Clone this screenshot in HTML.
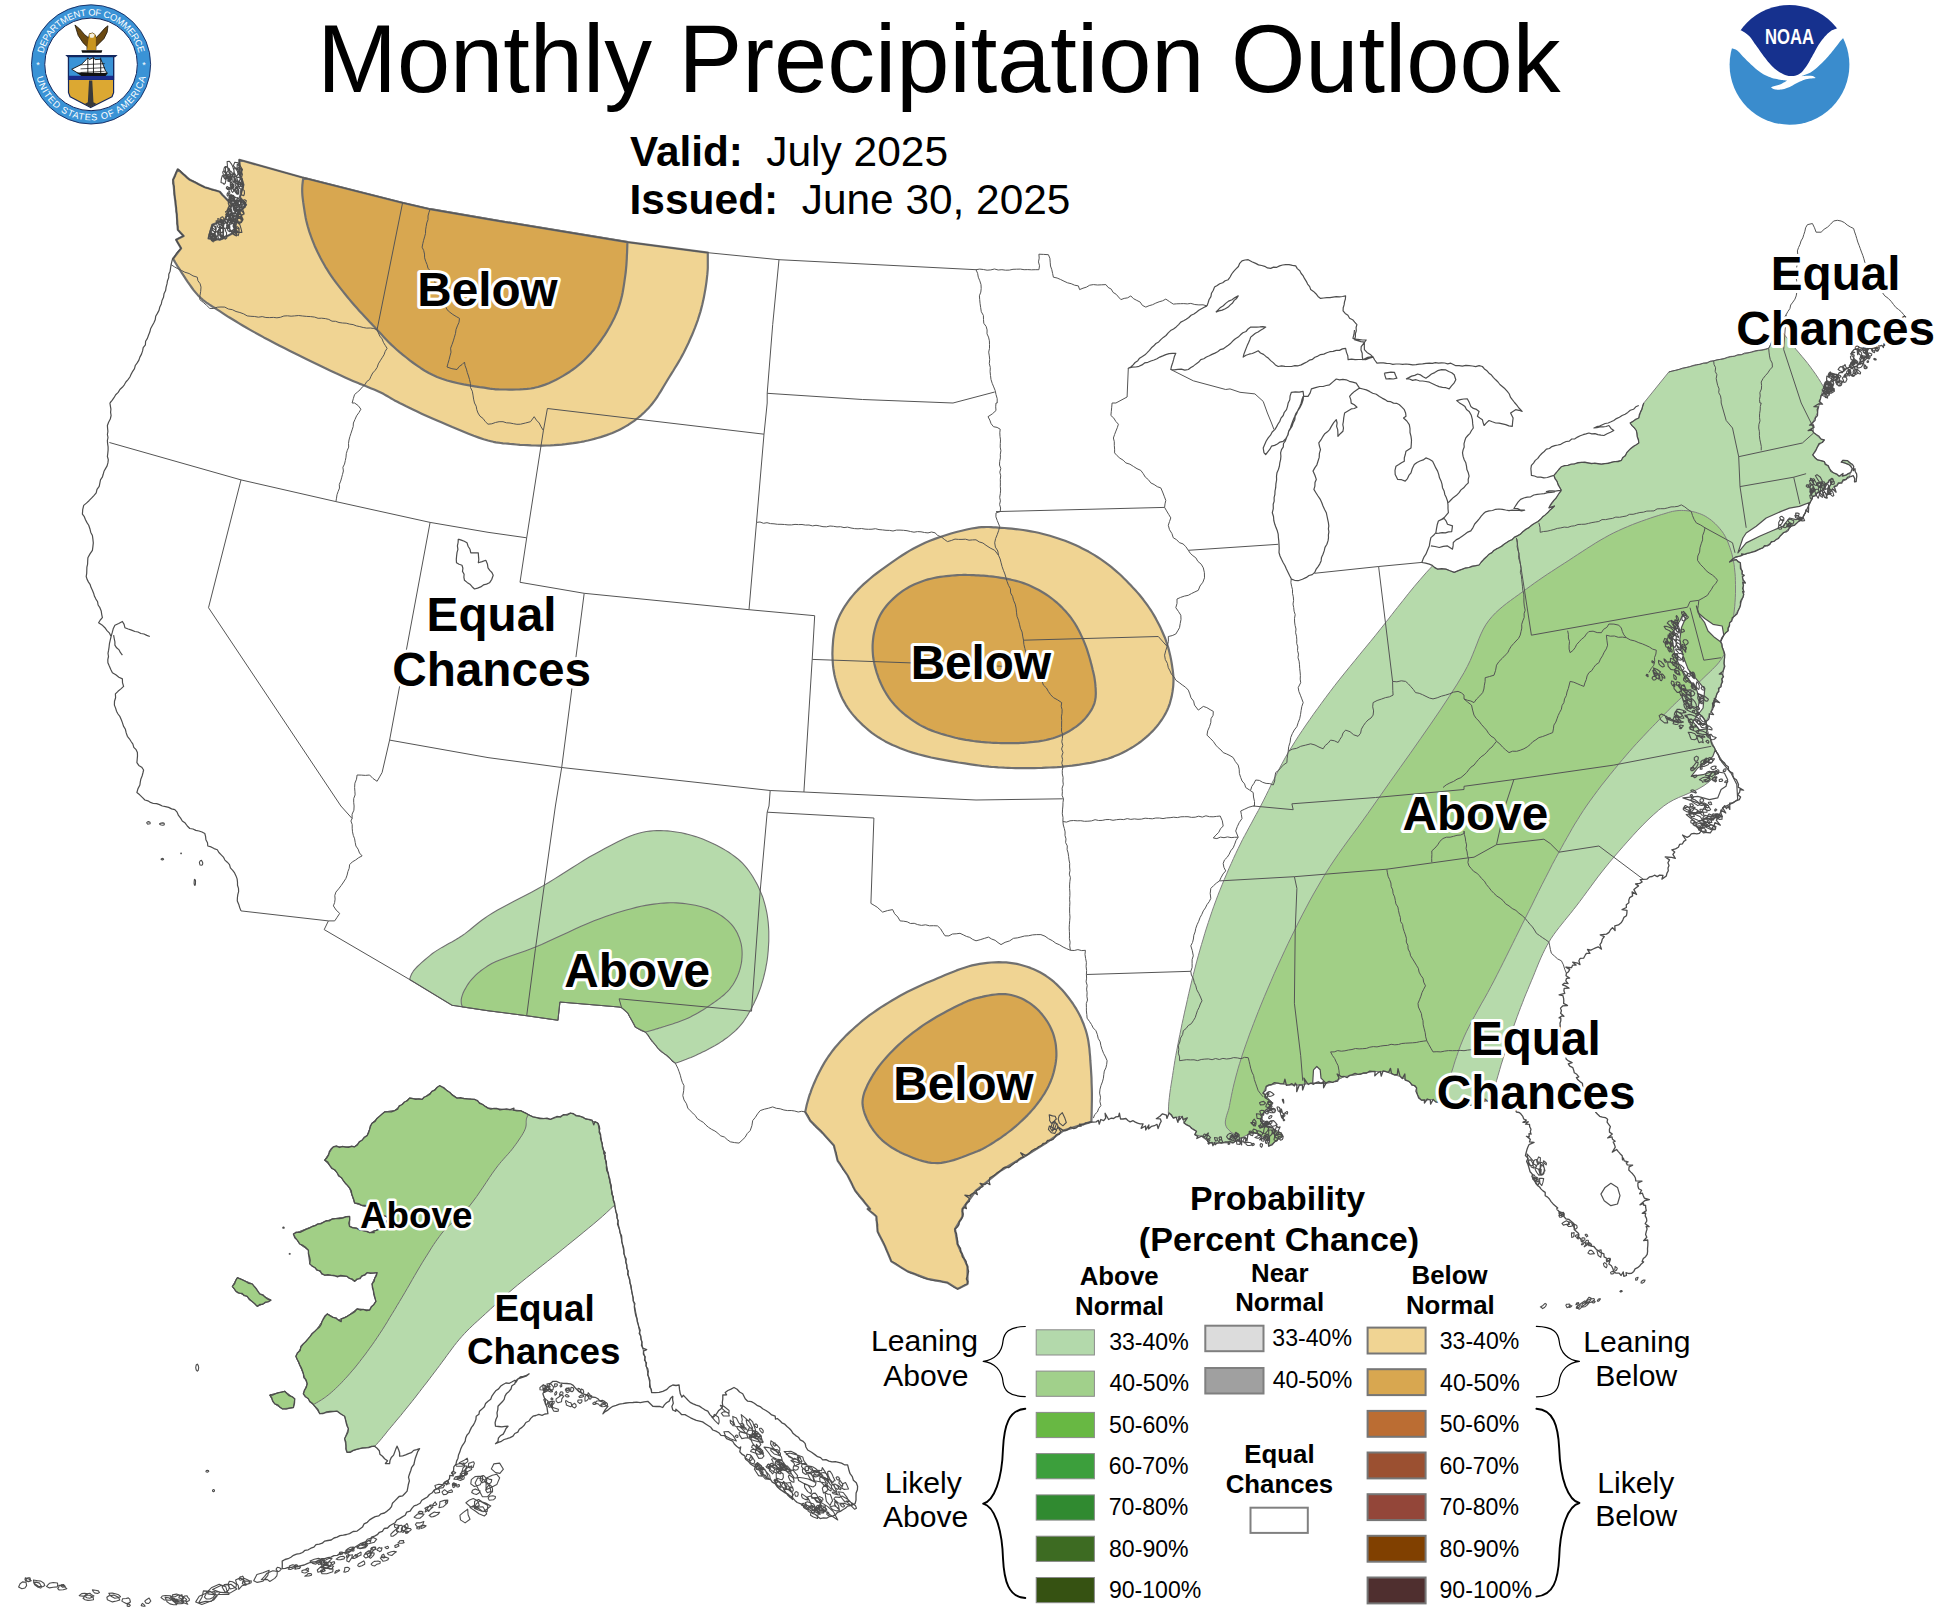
<!DOCTYPE html>
<html lang="en"><head><meta charset="utf-8"><title>Monthly Precipitation Outlook</title>
<style>
html,body{margin:0;padding:0;background:#fff;}
body{width:1954px;height:1614px;overflow:hidden;}
svg{display:block;font-family:"Liberation Sans",sans-serif;}
</style></head><body>
<svg width="1954" height="1614" viewBox="0 0 1954 1614">
<rect width="1954" height="1614" fill="#fff"/>
<g id="map">
<path d="M174.8,261.7 L177.3,265.8 L179.8,269.7 L181.8,272.8 L183.8,275.9 L185.7,278.9 L187.7,281.9 L189.7,284.7 L191.7,287.5 L193.6,290.1 L195.7,292.6 L197.7,294.9 L199.8,297.1 L201.5,298.7 L203.1,300.1 L204.8,301.4 L206.4,302.6 L208.1,303.7 L209.8,304.8 L211.6,306.0 L213.4,307.1 L215.3,308.3 L217.3,309.6 L220.1,311.4 L223.0,313.3 L226.0,315.3 L229.1,317.3 L232.4,319.3 L235.7,321.3 L239.1,323.4 L242.6,325.5 L246.1,327.5 L249.7,329.6 L254.2,332.1 L259.0,334.7 L263.8,337.4 L268.8,340.0 L273.9,342.7 L279.1,345.4 L284.3,348.0 L289.5,350.7 L294.6,353.3 L299.7,355.8 L304.7,358.3 L309.8,360.8 L315.0,363.3 L320.2,365.8 L325.4,368.3 L330.5,370.7 L335.5,373.1 L340.4,375.3 L345.1,377.5 L349.6,379.5 L352.9,380.9 L356.2,382.3 L359.3,383.6 L362.4,384.8 L365.5,386.0 L368.4,387.2 L371.3,388.4 L374.1,389.5 L376.9,390.7 L379.6,392.0 L381.8,393.1 L383.8,394.1 L385.7,395.2 L387.6,396.3 L389.5,397.4 L391.3,398.5 L393.3,399.6 L395.2,400.7 L397.4,401.8 L399.6,403.0 L402.8,404.6 L406.2,406.3 L409.8,408.0 L413.4,409.8 L417.2,411.6 L421.1,413.4 L425.0,415.2 L429.0,417.0 L433.0,418.7 L437.1,420.5 L441.9,422.6 L447.0,424.8 L452.3,427.1 L457.7,429.3 L463.1,431.6 L468.5,433.8 L473.7,435.8 L478.8,437.6 L483.6,439.2 L488.0,440.5 L490.8,441.2 L493.4,441.8 L495.9,442.3 L498.3,442.7 L500.7,443.0 L503.0,443.3 L505.4,443.5 L507.8,443.7 L510.3,444.0 L513.0,444.2 L516.4,444.5 L520.0,444.8 L523.7,445.0 L527.4,445.2 L531.2,445.4 L535.1,445.5 L538.9,445.6 L542.8,445.6 L546.6,445.5 L550.4,445.4 L554.2,445.2 L558.0,444.9 L561.8,444.6 L565.6,444.2 L569.5,443.7 L573.3,443.2 L577.0,442.6 L580.7,442.0 L584.3,441.3 L587.9,440.5 L591.1,439.7 L594.3,438.9 L597.4,438.0 L600.6,437.1 L603.6,436.1 L606.6,435.1 L609.6,434.0 L612.4,432.9 L615.2,431.7 L617.9,430.5 L620.1,429.4 L622.3,428.3 L624.4,427.1 L626.5,425.9 L628.5,424.7 L630.4,423.4 L632.3,422.1 L634.2,420.8 L636.0,419.4 L637.8,418.0 L639.5,416.6 L641.1,415.3 L642.6,413.9 L644.2,412.5 L645.6,411.0 L647.1,409.5 L648.6,408.0 L650.0,406.4 L651.4,404.7 L652.8,403.0 L654.4,400.9 L655.9,398.8 L657.5,396.5 L658.9,394.2 L660.4,391.9 L661.9,389.4 L663.3,387.0 L664.8,384.5 L666.3,382.0 L667.8,379.5 L669.5,376.7 L671.3,373.8 L673.1,371.0 L674.9,368.0 L676.7,365.1 L678.5,362.1 L680.3,359.0 L682.0,355.9 L683.7,352.8 L685.3,349.6 L687.0,346.1 L688.7,342.5 L690.3,338.8 L692.0,335.0 L693.5,331.3 L695.1,327.4 L696.5,323.6 L697.9,319.8 L699.1,315.9 L700.3,312.1 L701.3,308.4 L702.3,304.5 L703.2,300.6 L704.0,296.7 L704.7,292.9 L705.4,289.0 L706.0,285.2 L706.5,281.6 L706.9,278.1 L707.3,274.7 L707.5,272.3 L707.7,270.0 L707.8,267.7 L707.8,265.5 L707.8,263.4 L707.8,261.3 L707.8,259.2 L707.8,257.0 L707.8,254.9 L707.8,252.7 L627.9,242.2 L488.0,219.2 L430.1,209.2 L402.1,202.7 L303.4,177.8 L239.3,159.8 L239.8,174.8 L243.5,184.8 L239.8,197.3 L246.0,204.7 L237.3,214.7 L234.8,232.2 L219.8,239.7 L208.5,238.5 L212.3,224.7 L224.8,219.7 L232.3,204.7 L224.8,197.3 L222.3,194.8 L219.8,191.8 L204.8,187.3 L189.8,179.8 L177.8,169.3 L173.1,179.8 L174.8,197.3 L176.8,214.7 L177.8,229.7 L183.6,236.0 L176.1,239.7 L181.1,248.4 L173.0,258.8Z" fill="#f0d493" stroke="#707070" stroke-width="2.2" stroke-linejoin="round" fill-rule="evenodd"/>
<path d="M302.8,181.3 L302.4,184.8 L302.2,188.3 L302.2,191.8 L302.4,195.3 L302.8,198.8 L303.2,202.2 L303.7,205.6 L304.2,208.9 L304.7,212.2 L305.2,215.1 L305.7,217.9 L306.3,220.7 L307.0,223.5 L307.7,226.2 L308.5,228.9 L309.3,231.6 L310.2,234.2 L311.2,237.0 L312.2,239.7 L313.4,242.7 L314.6,245.7 L316.0,248.7 L317.4,251.8 L318.9,254.8 L320.4,257.8 L322.0,260.8 L323.7,263.8 L325.4,266.8 L327.2,269.7 L329.2,272.8 L331.2,275.8 L333.3,278.9 L335.5,281.9 L337.8,284.9 L340.1,287.9 L342.5,290.9 L344.8,293.8 L347.2,296.7 L349.6,299.6 L352.0,302.5 L354.4,305.3 L356.9,308.1 L359.4,310.9 L361.9,313.6 L364.4,316.3 L367.0,319.1 L369.5,321.8 L372.1,324.4 L374.6,327.1 L377.0,329.7 L379.4,332.3 L381.8,334.8 L384.2,337.4 L386.6,339.9 L389.0,342.4 L391.5,344.9 L394.1,347.3 L396.8,349.7 L399.6,352.1 L402.9,354.8 L406.3,357.5 L409.8,360.3 L413.4,363.0 L417.1,365.6 L420.9,368.2 L424.8,370.7 L428.8,373.0 L432.9,375.1 L437.1,377.0 L441.9,378.8 L447.1,380.5 L452.5,381.9 L458.1,383.2 L463.7,384.4 L469.3,385.4 L474.6,386.3 L479.6,387.1 L484.1,387.7 L488.0,388.3 L489.8,388.6 L491.5,388.8 L492.9,389.0 L494.3,389.1 L495.6,389.3 L497.0,389.3 L498.3,389.4 L499.7,389.5 L501.3,389.5 L503.0,389.5 L505.9,389.5 L509.1,389.6 L512.5,389.6 L516.0,389.5 L519.7,389.4 L523.4,389.2 L527.1,388.9 L530.8,388.5 L534.4,387.8 L537.9,387.0 L541.5,385.9 L545.2,384.6 L548.8,383.2 L552.5,381.5 L556.1,379.8 L559.6,377.9 L563.1,375.9 L566.5,373.8 L569.8,371.7 L572.9,369.5 L575.8,367.4 L578.5,365.2 L581.2,362.9 L583.8,360.5 L586.3,358.0 L588.7,355.5 L591.1,352.9 L593.4,350.2 L595.7,347.4 L597.9,344.6 L600.2,341.5 L602.5,338.2 L604.8,334.8 L607.0,331.3 L609.1,327.8 L611.1,324.2 L613.0,320.5 L614.8,316.9 L616.4,313.2 L617.9,309.6 L619.1,306.2 L620.2,302.7 L621.1,299.2 L622.0,295.7 L622.7,292.2 L623.3,288.7 L623.9,285.1 L624.4,281.6 L624.9,278.2 L625.4,274.7 L625.8,271.5 L626.1,268.2 L626.4,265.0 L626.6,261.8 L626.8,258.6 L626.9,255.4 L627.1,252.2 L627.2,249.0 L627.3,245.9 L627.4,242.7 L627.4,242.1 L488.0,219.2 L430.1,209.2 L402.1,202.7 L303.4,177.8Z" fill="#d8a750" stroke="#707070" stroke-width="2.2" stroke-linejoin="round" fill-rule="evenodd"/>
<path d="M921.0,544.7 L917.0,546.7 L913.1,548.8 L909.3,550.9 L905.5,553.2 L901.9,555.5 L898.3,557.9 L894.7,560.3 L891.1,562.8 L887.6,565.3 L884.1,567.8 L880.6,570.4 L877.1,573.0 L873.6,575.7 L870.2,578.5 L866.9,581.3 L863.7,584.1 L860.7,587.0 L857.8,589.9 L855.1,592.8 L852.9,595.4 L850.7,598.0 L848.7,600.7 L846.8,603.4 L844.9,606.2 L843.2,608.9 L841.6,611.7 L840.1,614.5 L838.8,617.4 L837.6,620.2 L836.6,622.9 L835.8,625.5 L835.1,628.3 L834.5,631.0 L834.0,633.7 L833.6,636.5 L833.2,639.3 L833.0,642.1 L832.8,644.9 L832.6,647.7 L832.5,650.6 L832.4,653.6 L832.5,656.6 L832.6,659.6 L832.8,662.7 L833.0,665.7 L833.4,668.7 L833.9,671.8 L834.4,674.7 L835.1,677.7 L835.9,680.8 L836.8,683.8 L837.7,686.9 L838.8,690.0 L840.0,693.0 L841.2,696.0 L842.6,699.0 L844.2,701.9 L845.8,704.8 L847.6,707.6 L849.7,710.6 L852.0,713.6 L854.5,716.6 L857.1,719.5 L859.9,722.3 L862.8,725.1 L865.8,727.8 L868.8,730.4 L871.9,732.8 L875.1,735.1 L878.4,737.3 L881.8,739.4 L885.3,741.4 L888.9,743.2 L892.5,745.0 L896.3,746.6 L900.2,748.2 L904.2,749.7 L908.3,751.2 L912.6,752.6 L918.3,754.3 L924.6,755.9 L931.2,757.5 L938.0,758.9 L944.9,760.2 L951.8,761.4 L958.5,762.5 L964.9,763.4 L970.7,764.3 L976.0,765.1 L978.9,765.5 L981.6,765.9 L984.2,766.2 L986.6,766.4 L988.9,766.7 L991.2,766.9 L993.5,767.0 L995.9,767.2 L998.3,767.4 L1001.0,767.5 L1004.4,767.7 L1008.0,767.8 L1011.7,768.0 L1015.4,768.1 L1019.2,768.1 L1023.1,768.2 L1026.9,768.2 L1030.8,768.2 L1034.6,768.1 L1038.4,768.0 L1042.2,767.9 L1045.9,767.7 L1049.7,767.5 L1053.5,767.3 L1057.3,767.1 L1061.0,766.8 L1064.8,766.4 L1068.5,766.0 L1072.2,765.6 L1075.9,765.1 L1079.5,764.6 L1083.1,764.0 L1086.7,763.4 L1090.4,762.8 L1093.9,762.1 L1097.5,761.3 L1101.0,760.5 L1104.4,759.6 L1107.7,758.7 L1110.9,757.6 L1113.6,756.6 L1116.3,755.5 L1118.9,754.4 L1121.5,753.3 L1124.0,752.0 L1126.4,750.8 L1128.8,749.4 L1131.2,748.0 L1133.5,746.6 L1135.8,745.1 L1138.0,743.6 L1140.2,742.0 L1142.3,740.4 L1144.4,738.7 L1146.5,736.9 L1148.5,735.1 L1150.4,733.3 L1152.3,731.4 L1154.1,729.5 L1155.8,727.6 L1157.3,725.8 L1158.8,723.9 L1160.2,721.9 L1161.6,720.0 L1162.9,718.0 L1164.1,716.0 L1165.3,713.9 L1166.4,711.8 L1167.4,709.7 L1168.3,707.6 L1169.1,705.5 L1169.9,703.3 L1170.5,701.0 L1171.1,698.7 L1171.7,696.4 L1172.1,694.1 L1172.5,691.9 L1172.8,689.6 L1173.1,687.3 L1173.3,685.1 L1173.4,683.1 L1173.5,681.1 L1173.5,679.1 L1173.4,677.2 L1173.3,675.2 L1173.1,673.3 L1172.9,671.3 L1172.6,669.3 L1172.3,667.3 L1172.0,665.2 L1171.6,662.8 L1171.2,660.4 L1170.7,657.9 L1170.2,655.4 L1169.6,652.9 L1169.0,650.4 L1168.3,647.9 L1167.5,645.3 L1166.7,642.8 L1165.8,640.2 L1164.7,637.2 L1163.4,634.2 L1162.1,631.2 L1160.7,628.1 L1159.2,625.0 L1157.6,621.9 L1156.0,618.9 L1154.3,615.9 L1152.6,613.0 L1150.8,610.2 L1149.0,607.5 L1147.2,604.9 L1145.3,602.3 L1143.4,599.8 L1141.4,597.3 L1139.4,594.8 L1137.3,592.4 L1135.2,590.0 L1133.0,587.7 L1130.8,585.3 L1128.5,582.9 L1126.2,580.5 L1123.8,578.2 L1121.4,575.8 L1118.9,573.5 L1116.4,571.3 L1113.8,569.1 L1111.2,566.9 L1108.6,564.8 L1105.9,562.8 L1103.1,560.8 L1100.3,558.9 L1097.4,557.0 L1094.5,555.1 L1091.5,553.4 L1088.5,551.6 L1085.4,550.0 L1082.3,548.4 L1079.1,546.8 L1075.9,545.3 L1072.4,543.8 L1068.8,542.3 L1065.1,540.8 L1061.3,539.5 L1057.6,538.2 L1053.7,537.0 L1049.9,535.8 L1046.0,534.7 L1042.2,533.7 L1038.4,532.8 L1034.7,532.0 L1030.9,531.3 L1027.0,530.6 L1023.1,530.0 L1019.3,529.5 L1015.5,529.1 L1011.7,528.7 L1008.0,528.3 L1004.4,528.0 L1001.0,527.8 L998.3,527.6 L995.8,527.4 L993.4,527.3 L991.0,527.1 L988.7,527.0 L986.3,527.0 L983.9,527.1 L981.4,527.2 L978.8,527.4 L976.0,527.8 L971.6,528.5 L966.8,529.5 L961.7,530.7 L956.4,532.0 L951.0,533.5 L945.6,535.2 L940.2,537.0 L934.9,538.9 L929.9,540.8 L925.1,542.8Z" fill="#f0d493" stroke="#707070" stroke-width="2.2" stroke-linejoin="round" fill-rule="evenodd"/>
<path d="M952.2,575.5 L949.3,575.8 L946.3,576.1 L943.2,576.5 L940.1,576.9 L937.0,577.4 L933.9,578.0 L930.9,578.7 L928.0,579.4 L925.1,580.3 L922.4,581.2 L919.8,582.2 L917.2,583.2 L914.6,584.3 L912.0,585.5 L909.5,586.8 L907.1,588.2 L904.7,589.6 L902.4,591.2 L900.1,592.8 L897.8,594.6 L895.5,596.6 L893.3,598.6 L891.1,600.7 L888.9,603.0 L886.9,605.3 L885.0,607.7 L883.2,610.1 L881.6,612.6 L880.1,615.2 L878.8,617.9 L877.6,620.7 L876.5,623.7 L875.6,626.7 L874.8,629.7 L874.1,632.8 L873.5,636.0 L873.1,639.1 L872.8,642.2 L872.6,645.2 L872.6,648.2 L872.7,651.2 L872.9,654.3 L873.2,657.3 L873.7,660.4 L874.3,663.4 L875.0,666.4 L875.8,669.4 L876.6,672.3 L877.6,675.2 L878.6,678.1 L879.8,681.0 L881.0,683.8 L882.4,686.7 L883.8,689.5 L885.4,692.2 L887.0,694.9 L888.8,697.6 L890.6,700.1 L892.6,702.6 L894.9,705.2 L897.3,707.7 L899.8,710.2 L902.5,712.6 L905.3,715.0 L908.2,717.2 L911.2,719.4 L914.1,721.4 L917.1,723.3 L920.1,725.1 L922.9,726.6 L925.9,728.1 L928.8,729.4 L931.9,730.6 L934.9,731.7 L938.0,732.7 L941.0,733.7 L944.1,734.6 L947.1,735.5 L950.0,736.3 L952.6,737.0 L955.3,737.7 L957.9,738.3 L960.5,738.8 L963.1,739.3 L965.7,739.8 L968.3,740.2 L970.8,740.6 L973.4,741.0 L976.0,741.3 L978.5,741.6 L981.0,741.9 L983.5,742.1 L986.0,742.3 L988.5,742.5 L991.0,742.7 L993.5,742.8 L996.0,742.9 L998.5,743.0 L1001.0,743.1 L1003.5,743.2 L1006.0,743.2 L1008.5,743.2 L1011.0,743.2 L1013.5,743.2 L1015.9,743.1 L1018.4,743.1 L1020.9,742.9 L1023.4,742.8 L1025.9,742.6 L1028.4,742.4 L1031.0,742.1 L1033.5,741.9 L1036.1,741.6 L1038.6,741.3 L1041.2,740.9 L1043.7,740.5 L1046.1,740.0 L1048.5,739.4 L1050.9,738.8 L1053.0,738.2 L1055.2,737.5 L1057.3,736.7 L1059.3,735.9 L1061.4,735.1 L1063.4,734.2 L1065.3,733.2 L1067.2,732.2 L1069.1,731.2 L1070.9,730.1 L1072.6,729.0 L1074.2,727.9 L1075.9,726.8 L1077.5,725.6 L1079.0,724.3 L1080.5,723.1 L1082.0,721.7 L1083.3,720.4 L1084.7,719.0 L1085.9,717.6 L1087.0,716.2 L1088.1,714.8 L1089.1,713.4 L1090.1,711.9 L1091.1,710.4 L1091.9,708.9 L1092.7,707.4 L1093.4,705.8 L1094.1,704.2 L1094.6,702.6 L1095.0,701.0 L1095.3,699.3 L1095.6,697.6 L1095.7,695.9 L1095.8,694.1 L1095.8,692.4 L1095.7,690.6 L1095.7,688.8 L1095.5,686.9 L1095.4,685.1 L1095.2,683.0 L1094.9,680.8 L1094.6,678.6 L1094.2,676.3 L1093.7,674.0 L1093.2,671.8 L1092.6,669.5 L1092.1,667.2 L1091.5,664.9 L1090.9,662.7 L1090.3,660.4 L1089.7,658.2 L1089.0,655.9 L1088.3,653.6 L1087.6,651.4 L1086.9,649.1 L1086.1,646.9 L1085.2,644.6 L1084.3,642.4 L1083.4,640.2 L1082.4,637.9 L1081.3,635.6 L1080.2,633.3 L1079.1,631.0 L1077.9,628.7 L1076.6,626.4 L1075.3,624.2 L1073.9,622.0 L1072.4,619.8 L1070.9,617.7 L1069.2,615.5 L1067.4,613.4 L1065.6,611.3 L1063.6,609.2 L1061.6,607.1 L1059.6,605.1 L1057.5,603.2 L1055.3,601.3 L1053.1,599.5 L1050.9,597.8 L1048.6,596.1 L1046.2,594.5 L1043.8,593.0 L1041.3,591.5 L1038.8,590.0 L1036.2,588.7 L1033.6,587.4 L1031.1,586.2 L1028.5,585.1 L1025.9,584.0 L1023.5,583.1 L1021.0,582.3 L1018.5,581.5 L1016.0,580.9 L1013.5,580.3 L1011.0,579.7 L1008.5,579.2 L1006.0,578.7 L1003.5,578.2 L1001.0,577.8 L998.5,577.4 L996.0,577.0 L993.5,576.7 L990.9,576.4 L988.4,576.2 L985.9,575.9 L983.4,575.7 L980.9,575.6 L978.4,575.4 L976.0,575.3 L973.8,575.2 L971.7,575.1 L969.7,575.0 L967.6,575.0 L965.6,574.9 L963.6,574.9 L961.5,575.0 L959.4,575.0 L957.2,575.1 L955.0,575.3Z" fill="#d8a750" stroke="#707070" stroke-width="2.2" stroke-linejoin="round" fill-rule="evenodd"/>
<path d="M1091.4,1120.6 L1091.6,1115.2 L1091.7,1109.8 L1091.8,1104.3 L1091.9,1099.0 L1091.9,1093.6 L1091.8,1088.4 L1091.6,1083.2 L1091.5,1078.1 L1091.2,1073.1 L1090.9,1068.2 L1090.6,1064.2 L1090.3,1060.2 L1090.1,1056.3 L1089.7,1052.5 L1089.4,1048.7 L1088.9,1045.0 L1088.4,1041.3 L1087.7,1037.7 L1086.9,1034.2 L1085.9,1030.7 L1084.8,1027.5 L1083.7,1024.3 L1082.4,1021.2 L1081.1,1018.1 L1079.6,1015.1 L1078.0,1012.1 L1076.4,1009.2 L1074.6,1006.3 L1072.8,1003.5 L1070.9,1000.8 L1068.8,998.0 L1066.6,995.2 L1064.4,992.5 L1062.0,989.8 L1059.5,987.2 L1056.9,984.6 L1054.3,982.2 L1051.5,979.9 L1048.8,977.8 L1045.9,975.8 L1043.0,974.0 L1040.0,972.3 L1036.9,970.7 L1033.7,969.3 L1030.4,967.9 L1027.1,966.7 L1023.7,965.7 L1020.3,964.7 L1016.9,963.9 L1013.5,963.3 L1009.9,962.8 L1006.2,962.4 L1002.5,962.3 L998.8,962.2 L995.0,962.3 L991.1,962.5 L987.3,962.9 L983.5,963.4 L979.7,963.9 L976.0,964.6 L972.1,965.4 L968.2,966.5 L964.4,967.7 L960.5,969.0 L956.6,970.4 L952.8,971.9 L948.9,973.5 L945.1,975.1 L941.3,976.7 L937.5,978.3 L933.7,979.9 L929.9,981.5 L926.1,983.1 L922.4,984.7 L918.6,986.4 L914.9,988.2 L911.2,990.0 L907.5,991.8 L903.8,993.8 L900.1,995.8 L896.3,998.0 L892.4,1000.2 L888.5,1002.6 L884.7,1005.0 L880.8,1007.4 L877.0,1010.0 L873.3,1012.6 L869.6,1015.2 L866.1,1017.9 L862.6,1020.7 L859.3,1023.5 L856.0,1026.3 L852.8,1029.2 L849.6,1032.1 L846.5,1035.1 L843.5,1038.2 L840.6,1041.3 L837.8,1044.4 L835.1,1047.5 L832.6,1050.7 L830.5,1053.6 L828.4,1056.5 L826.5,1059.4 L824.6,1062.4 L822.9,1065.4 L821.2,1068.4 L819.6,1071.5 L818.1,1074.5 L816.6,1077.6 L815.2,1080.7 L813.9,1083.7 L812.7,1086.7 L811.5,1089.6 L810.5,1092.6 L809.4,1095.5 L808.5,1098.6 L807.6,1101.7 L806.7,1105.0 L806.0,1108.4 L805.2,1111.9 L810.2,1120.6 L822.7,1133.1 L833.9,1145.6 L837.6,1160.6 L847.6,1175.5 L855.1,1190.5 L865.1,1203.0 L870.1,1209.0 L867.6,1209.0 L876.4,1216.5 L877.6,1231.5 L885.1,1246.5 L891.3,1261.4 L907.6,1271.4 L927.5,1278.9 L947.5,1282.7 L957.5,1288.9 L967.5,1283.9 L967.5,1266.4 L957.5,1244.0 L955.0,1229.0 L962.5,1216.5 L962.5,1209.0 L976.0,1190.5 L1001.0,1170.5 L1025.9,1155.6 L1045.9,1143.1 L1063.4,1130.6 L1090.9,1121.9 L1091.4,1121.8Z" fill="#f0d493" stroke="#707070" stroke-width="2.2" stroke-linejoin="round" fill-rule="evenodd"/>
<path d="M954.4,1007.3 L951.1,1009.0 L947.6,1010.8 L944.1,1012.7 L940.4,1014.7 L936.7,1016.8 L933.1,1019.0 L929.5,1021.2 L926.0,1023.4 L922.6,1025.7 L919.4,1028.0 L916.2,1030.3 L913.0,1032.7 L909.9,1035.2 L906.8,1037.7 L903.8,1040.2 L900.9,1042.8 L898.0,1045.4 L895.2,1048.1 L892.6,1050.7 L890.3,1053.1 L888.0,1055.5 L885.8,1058.0 L883.7,1060.4 L881.6,1062.9 L879.6,1065.4 L877.7,1068.0 L875.9,1070.5 L874.2,1073.1 L872.6,1075.7 L871.2,1078.1 L869.8,1080.6 L868.5,1083.1 L867.2,1085.6 L866.1,1088.2 L865.0,1090.7 L864.1,1093.2 L863.4,1095.7 L862.9,1098.2 L862.6,1100.6 L862.5,1102.7 L862.6,1104.7 L862.9,1106.8 L863.3,1108.8 L863.8,1110.8 L864.4,1112.8 L865.1,1114.8 L865.9,1116.7 L866.7,1118.7 L867.6,1120.6 L868.7,1122.7 L869.8,1124.8 L871.1,1126.9 L872.5,1129.0 L874.0,1131.1 L875.6,1133.1 L877.2,1135.1 L878.9,1137.0 L880.7,1138.8 L882.6,1140.6 L884.7,1142.4 L887.0,1144.2 L889.3,1145.8 L891.7,1147.5 L894.3,1149.0 L896.9,1150.5 L899.5,1151.9 L902.2,1153.2 L904.9,1154.4 L907.6,1155.6 L910.4,1156.7 L913.3,1157.9 L916.1,1159.0 L919.1,1160.0 L922.1,1160.9 L925.1,1161.7 L928.1,1162.3 L931.2,1162.8 L934.3,1163.0 L937.5,1163.1 L941.3,1162.8 L945.2,1162.2 L949.4,1161.2 L953.6,1160.1 L957.8,1158.7 L961.9,1157.3 L965.9,1155.8 L969.6,1154.3 L973.0,1153.0 L976.0,1151.8 L977.5,1151.2 L978.9,1150.6 L980.2,1150.1 L981.4,1149.5 L982.5,1149.0 L983.6,1148.4 L984.7,1147.8 L985.9,1147.1 L987.1,1146.4 L988.5,1145.6 L990.7,1144.3 L993.1,1142.8 L995.5,1141.2 L998.1,1139.5 L1000.7,1137.8 L1003.3,1135.9 L1006.0,1134.0 L1008.6,1132.0 L1011.1,1130.1 L1013.5,1128.1 L1015.9,1126.1 L1018.3,1124.0 L1020.7,1121.8 L1023.0,1119.6 L1025.3,1117.4 L1027.6,1115.1 L1029.8,1112.8 L1031.9,1110.4 L1034.0,1108.0 L1035.9,1105.6 L1037.7,1103.3 L1039.5,1100.9 L1041.2,1098.5 L1042.8,1096.0 L1044.4,1093.6 L1045.9,1091.0 L1047.3,1088.5 L1048.6,1085.9 L1049.8,1083.3 L1050.9,1080.7 L1051.9,1078.1 L1052.8,1075.4 L1053.6,1072.6 L1054.3,1069.9 L1054.9,1067.1 L1055.5,1064.2 L1055.9,1061.4 L1056.2,1058.7 L1056.4,1055.9 L1056.4,1053.2 L1056.3,1050.6 L1056.1,1048.1 L1055.9,1045.5 L1055.5,1042.9 L1055.0,1040.4 L1054.4,1037.9 L1053.7,1035.4 L1052.9,1032.9 L1051.9,1030.5 L1050.9,1028.2 L1049.7,1025.7 L1048.3,1023.3 L1046.8,1020.8 L1045.1,1018.4 L1043.4,1016.1 L1041.5,1013.8 L1039.6,1011.6 L1037.6,1009.5 L1035.5,1007.6 L1033.4,1005.8 L1031.2,1004.2 L1029.0,1002.6 L1026.6,1001.2 L1024.2,999.8 L1021.7,998.6 L1019.2,997.5 L1016.5,996.5 L1013.9,995.7 L1011.2,995.0 L1008.5,994.5 L1005.4,994.2 L1002.2,994.1 L998.8,994.2 L995.4,994.5 L992.0,994.9 L988.6,995.5 L985.2,996.1 L982.0,996.9 L978.9,997.6 L976.0,998.3 L973.9,998.9 L972.0,999.5 L970.2,1000.1 L968.4,1000.8 L966.7,1001.5 L965.0,1002.2 L963.2,1003.0 L961.4,1003.9 L959.5,1004.8 L957.5,1005.8Z" fill="#d8a750" stroke="#707070" stroke-width="2.2" stroke-linejoin="round" fill-rule="evenodd"/>
<path d="M675.3,1063.2 L678.3,1062.2 L681.1,1061.2 L683.7,1060.2 L686.3,1059.3 L688.7,1058.3 L691.0,1057.4 L693.3,1056.4 L695.6,1055.4 L697.9,1054.3 L700.3,1053.2 L702.6,1052.1 L705.0,1050.9 L707.3,1049.8 L709.6,1048.6 L711.9,1047.3 L714.2,1046.1 L716.4,1044.8 L718.6,1043.5 L720.7,1042.1 L722.8,1040.7 L724.7,1039.3 L726.6,1038.0 L728.5,1036.6 L730.3,1035.1 L732.0,1033.7 L733.8,1032.2 L735.5,1030.6 L737.1,1029.0 L738.7,1027.4 L740.2,1025.7 L741.7,1023.9 L743.1,1022.1 L744.4,1020.2 L745.7,1018.2 L747.0,1016.3 L748.2,1014.2 L749.3,1012.2 L750.5,1010.1 L751.6,1007.9 L752.7,1005.8 L753.9,1003.5 L755.0,1001.1 L756.1,998.7 L757.2,996.2 L758.2,993.7 L759.2,991.2 L760.2,988.6 L761.1,986.1 L761.9,983.4 L762.7,980.8 L763.5,977.9 L764.2,975.0 L764.9,972.1 L765.6,969.1 L766.1,966.1 L766.7,963.1 L767.2,960.0 L767.6,956.9 L767.9,953.9 L768.2,950.8 L768.4,947.6 L768.6,944.4 L768.8,941.1 L768.8,937.8 L768.8,934.5 L768.8,931.2 L768.6,927.9 L768.4,924.7 L768.1,921.5 L767.7,918.4 L767.3,915.5 L766.8,912.7 L766.2,909.9 L765.6,907.1 L764.9,904.4 L764.1,901.6 L763.3,898.9 L762.4,896.2 L761.3,893.6 L760.2,890.9 L758.9,888.0 L757.5,885.1 L756.0,882.2 L754.4,879.4 L752.7,876.5 L750.9,873.7 L749.0,871.0 L747.0,868.3 L744.9,865.8 L742.7,863.4 L740.2,861.0 L737.6,858.7 L734.7,856.5 L731.8,854.4 L728.8,852.3 L725.7,850.4 L722.5,848.5 L719.3,846.8 L716.0,845.1 L712.8,843.5 L709.5,842.0 L706.1,840.5 L702.7,839.1 L699.2,837.8 L695.7,836.6 L692.1,835.5 L688.5,834.5 L684.9,833.6 L681.4,832.8 L677.8,832.2 L674.3,831.7 L670.9,831.3 L667.4,830.9 L663.9,830.7 L660.5,830.6 L657.0,830.6 L653.5,830.7 L649.9,831.1 L646.4,831.5 L642.8,832.2 L638.7,833.2 L634.5,834.5 L630.4,836.0 L626.2,837.8 L622.0,839.7 L617.8,841.8 L613.5,844.0 L609.2,846.2 L604.8,848.6 L600.4,850.9 L594.9,853.9 L589.3,857.1 L583.6,860.5 L577.9,864.1 L572.1,867.8 L566.2,871.5 L560.3,875.3 L554.5,878.9 L548.7,882.5 L542.9,885.9 L537.3,889.1 L531.5,892.2 L525.7,895.3 L519.8,898.3 L514.0,901.3 L508.4,904.3 L502.8,907.2 L497.6,910.1 L492.6,913.0 L488.0,915.9 L485.0,918.0 L482.1,920.0 L479.5,922.0 L477.0,924.0 L474.5,926.0 L472.1,928.0 L469.7,930.0 L467.3,931.9 L464.7,933.9 L462.0,935.8 L458.9,937.8 L455.6,939.8 L452.3,941.7 L448.8,943.6 L445.4,945.5 L442.0,947.4 L438.7,949.4 L435.5,951.4 L432.4,953.5 L429.6,955.8 L427.1,957.9 L424.6,960.0 L422.1,962.1 L419.7,964.3 L417.4,966.5 L415.2,968.8 L413.3,971.2 L411.7,973.8 L410.5,976.6 L409.6,979.5 L452.0,1005.3 L488.0,1010.7 L526.7,1015.7 L557.9,1020.2 L559.9,1002.0 L619.1,1007.0 L621.6,1007.7 L627.9,1013.2 L635.3,1027.0 L645.3,1032.0 L657.8,1048.2 L675.3,1063.2Z" fill="#b6daab" stroke="#707070" stroke-width="1.1" stroke-linejoin="round" fill-rule="evenodd"/>
<path d="M462.6,1006.9 L488.0,1010.7 L526.7,1015.7 L557.9,1020.2 L559.9,1002.0 L619.1,1007.0 L621.6,1007.7 L627.9,1013.2 L635.3,1027.0 L645.3,1032.0 L647.5,1031.5 L649.4,1031.0 L651.2,1030.5 L652.9,1030.0 L654.5,1029.6 L656.1,1029.1 L657.7,1028.6 L659.3,1028.1 L661.0,1027.6 L662.8,1027.0 L665.1,1026.3 L667.5,1025.5 L670.0,1024.7 L672.5,1024.0 L675.1,1023.1 L677.7,1022.2 L680.2,1021.3 L682.8,1020.3 L685.3,1019.3 L687.8,1018.2 L690.4,1017.0 L693.0,1015.6 L695.6,1014.2 L698.2,1012.8 L700.7,1011.2 L703.3,1009.7 L705.8,1008.1 L708.2,1006.5 L710.5,1004.9 L712.8,1003.3 L714.8,1001.9 L716.7,1000.5 L718.6,999.1 L720.5,997.7 L722.3,996.2 L724.1,994.8 L725.7,993.2 L727.4,991.7 L728.9,990.0 L730.3,988.3 L731.6,986.5 L732.9,984.7 L734.1,982.8 L735.2,980.8 L736.2,978.8 L737.2,976.7 L738.1,974.6 L738.9,972.5 L739.6,970.4 L740.2,968.3 L740.7,966.1 L741.2,963.9 L741.6,961.7 L741.8,959.4 L742.0,957.1 L742.1,954.8 L742.1,952.5 L742.0,950.2 L741.8,948.0 L741.5,945.8 L741.1,943.7 L740.5,941.6 L739.9,939.5 L739.2,937.4 L738.3,935.4 L737.4,933.3 L736.4,931.4 L735.2,929.5 L734.0,927.6 L732.7,925.9 L731.2,924.1 L729.5,922.4 L727.7,920.7 L725.8,919.1 L723.8,917.5 L721.8,916.0 L719.6,914.6 L717.4,913.3 L715.1,912.1 L712.8,910.9 L710.1,909.7 L707.4,908.6 L704.5,907.7 L701.5,906.8 L698.4,906.0 L695.3,905.3 L692.2,904.7 L689.0,904.2 L685.9,903.8 L682.8,903.4 L679.6,903.1 L676.5,902.9 L673.4,902.8 L670.2,902.8 L667.0,902.9 L663.8,903.1 L660.6,903.3 L657.2,903.7 L653.8,904.1 L650.3,904.6 L645.7,905.4 L641.0,906.3 L636.2,907.4 L631.3,908.7 L626.3,910.0 L621.2,911.5 L616.1,913.1 L610.9,914.8 L605.6,916.6 L600.4,918.4 L594.1,920.8 L587.7,923.4 L581.1,926.2 L574.5,929.3 L567.8,932.4 L561.1,935.5 L554.5,938.6 L548.0,941.6 L541.6,944.5 L535.5,947.1 L530.4,949.1 L525.2,951.0 L520.0,952.8 L514.9,954.5 L509.9,956.2 L505.1,957.9 L500.4,959.7 L496.0,961.6 L491.8,963.6 L488.0,965.8 L485.3,967.6 L482.7,969.4 L480.2,971.3 L477.9,973.2 L475.7,975.2 L473.6,977.3 L471.7,979.3 L469.9,981.5 L468.4,983.6 L467.0,985.8 L465.9,987.7 L464.8,989.6 L463.8,991.6 L462.9,993.6 L462.2,995.7 L461.6,997.7 L461.2,999.8 L461.2,1001.8 L461.4,1003.8 L462.0,1005.8Z" fill="#a1cf86" stroke="#707070" stroke-width="1.1" stroke-linejoin="round" fill-rule="evenodd"/>
<path d="M1493.7,1096.2 L1494.4,1091.0 L1495.3,1085.8 L1496.5,1080.7 L1498.1,1075.3 L1499.7,1069.7 L1501.3,1064.2 L1503.1,1058.6 L1504.8,1053.0 L1506.6,1047.4 L1508.4,1041.8 L1510.2,1036.3 L1512.1,1031.0 L1513.9,1025.7 L1515.6,1021.0 L1517.3,1016.3 L1519.0,1011.7 L1520.7,1007.2 L1522.5,1002.7 L1524.2,998.2 L1526.0,993.8 L1527.8,989.5 L1529.6,985.1 L1531.4,980.8 L1533.1,976.8 L1534.7,972.8 L1536.3,968.8 L1537.9,964.9 L1539.5,961.0 L1541.2,957.2 L1543.0,953.3 L1544.8,949.6 L1546.8,945.8 L1548.9,942.1 L1551.2,938.3 L1553.7,934.7 L1556.3,931.1 L1559.0,927.6 L1561.8,924.1 L1564.6,920.6 L1567.5,917.0 L1570.5,913.4 L1573.4,909.7 L1576.4,905.9 L1579.9,901.3 L1583.4,896.6 L1586.9,891.8 L1590.5,886.9 L1594.2,881.9 L1597.9,876.9 L1601.8,871.9 L1605.7,867.0 L1609.7,862.1 L1613.8,857.2 L1618.4,851.9 L1623.1,846.5 L1627.9,841.1 L1632.8,835.6 L1637.8,830.2 L1642.9,824.9 L1648.0,819.8 L1653.3,814.9 L1658.5,810.3 L1663.8,806.0 L1668.6,802.7 L1673.6,799.9 L1678.7,797.5 L1683.8,795.4 L1688.9,793.2 L1694.1,791.0 L1699.1,788.5 L1704.1,785.5 L1709.0,781.9 L1713.7,777.5 L1720.7,768.9 L1724.4,763.4 L1722.7,761.4 L1715.3,749.8 L1710.3,738.2 L1707.0,729.0 L1706.1,721.5 L1711.1,711.6 L1714.4,698.3 L1713.0,708.0 L1716.3,695.7 L1721.3,684.1 L1723.8,669.1 L1724.6,657.5 L1723.0,649.2 L1720.5,641.7 L1723.8,635.1 L1728.0,631.0 L1729.6,622.7 L1734.6,616.0 L1739.6,607.7 L1743.7,594.4 L1742.9,579.5 L1740.4,562.9 L1736.3,559.6 L1729.6,562.0 L1732.9,558.7 L1739.6,556.2 L1749.6,552.9 L1762.8,547.9 L1776.1,539.6 L1789.4,528.0 L1801.0,519.7 L1802.7,518.0 L1810.2,502.3 L1812.7,496.5 L1822.6,489.8 L1829.3,479.9 L1831.7,481.5 L1826.8,494.8 L1834.2,486.5 L1845.9,479.5 L1849.5,477.6 L1850.3,472.8 L1845.9,475.2 L1839.2,476.2 L1834.2,473.2 L1829.3,468.2 L1824.3,461.6 L1817.6,459.9 L1812.7,454.9 L1817.6,446.6 L1824.3,440.0 L1821.0,439.1 L1813.5,432.5 L1812.7,422.5 L1817.6,412.5 L1821.0,395.9 L1823.6,386.9 L1821.1,382.7 L1818.5,378.5 L1815.9,374.6 L1813.2,370.8 L1810.5,367.1 L1807.8,363.5 L1805.0,360.0 L1802.1,356.6 L1799.2,353.1 L1796.2,349.6 L1793.3,346.0 L1790.4,342.4 L1787.6,338.7 L1784.7,335.1 L1781.7,331.5 L1779.0,328.5 L1768.7,348.3 L1713.7,360.8 L1668.8,372.0 L1643.8,403.0 L1638.8,418.0 L1630.1,423.0 L1636.3,430.5 L1638.8,443.0 L1628.8,450.4 L1621.3,460.4 L1601.4,464.2 L1581.4,462.4 L1561.4,466.7 L1553.9,475.4 L1561.4,490.4 L1548.9,507.9 L1554.5,506.0 L1540.5,519.3 L1528.9,527.6 L1517.3,535.9 L1504.0,544.2 L1489.0,554.2 L1479.1,565.0 L1462.5,569.1 L1454.2,572.4 L1445.9,569.1 L1437.6,569.1 L1432.4,566.0 L1426.6,572.2 L1420.5,579.2 L1414.5,586.2 L1408.7,593.3 L1403.1,600.4 L1397.5,607.4 L1392.0,614.4 L1386.6,621.4 L1381.1,628.3 L1375.6,635.2 L1370.4,641.6 L1365.2,647.9 L1360.0,654.2 L1354.9,660.5 L1349.8,666.7 L1344.7,673.0 L1339.8,679.1 L1334.9,685.3 L1330.2,691.5 L1325.6,697.6 L1321.5,703.2 L1317.5,708.7 L1313.5,714.2 L1309.7,719.7 L1305.9,725.1 L1302.2,730.6 L1298.5,736.1 L1295.0,741.6 L1291.6,747.1 L1288.2,752.6 L1285.1,757.9 L1282.2,763.3 L1279.3,768.7 L1276.5,774.2 L1273.8,779.6 L1271.1,785.0 L1268.5,790.4 L1265.9,795.7 L1263.3,800.9 L1260.7,806.0 L1258.4,810.4 L1256.0,814.7 L1253.7,818.9 L1251.5,823.1 L1249.2,827.2 L1247.0,831.3 L1244.8,835.4 L1242.5,839.6 L1240.4,844.0 L1238.2,848.4 L1235.8,853.4 L1233.5,858.4 L1231.2,863.6 L1228.8,868.8 L1226.6,874.1 L1224.3,879.4 L1222.1,884.8 L1219.9,890.2 L1217.8,895.5 L1215.8,900.9 L1213.8,906.3 L1211.9,911.7 L1210.1,917.1 L1208.3,922.5 L1206.5,928.0 L1204.8,933.4 L1203.2,939.0 L1201.5,944.5 L1199.9,950.1 L1198.3,955.8 L1196.6,961.9 L1195.0,968.1 L1193.4,974.3 L1191.8,980.7 L1190.3,987.0 L1188.8,993.4 L1187.4,999.7 L1186.0,1006.0 L1184.6,1012.1 L1183.3,1018.2 L1182.1,1023.6 L1181.0,1029.0 L1179.9,1034.4 L1178.8,1039.7 L1177.8,1045.0 L1176.8,1050.2 L1175.8,1055.4 L1174.9,1060.5 L1174.1,1065.6 L1173.3,1070.7 L1172.6,1075.3 L1171.9,1079.8 L1171.2,1084.1 L1170.5,1088.5 L1169.9,1092.8 L1169.4,1097.2 L1168.9,1101.6 L1168.6,1106.1 L1168.4,1110.8 L1168.3,1113.3 L1169.1,1113.0 L1173.2,1118.0 L1182.3,1116.3 L1184.0,1122.9 L1189.8,1126.3 L1196.5,1131.3 L1194.8,1134.6 L1201.4,1136.2 L1209.7,1142.9 L1219.7,1142.9 L1233.0,1142.9 L1241.3,1137.9 L1247.9,1134.6 L1254.6,1132.9 L1259.6,1134.6 L1269.5,1141.2 L1268.7,1146.2 L1274.5,1142.0 L1282.8,1136.2 L1281.1,1132.9 L1274.5,1129.6 L1266.2,1126.3 L1262.0,1122.9 L1262.0,1114.6 L1266.2,1109.7 L1272.8,1103.0 L1262.9,1093.1 L1266.2,1086.4 L1277.8,1083.1 L1289.4,1084.8 L1299.4,1084.8 L1311.0,1083.1 L1326.0,1083.1 L1332.6,1082.3 L1344.2,1076.5 L1360.8,1074.0 L1372.5,1071.5 L1385.7,1071.5 L1394.1,1074.8 L1400.0,1076.2 L1408.3,1081.1 L1416.6,1087.8 L1417.4,1094.4 L1421.6,1100.2 L1433.2,1099.4 L1435.7,1101.9 L1466.4,1106.0 L1493.0,1099.4 L1493.4,1099.6Z M1851.2,463.4 L1847.5,460.6 L1842.9,460.3 L1841.2,462.1 L1844.5,462.9 L1848.9,464.6 L1850.9,467.0Z" fill="#b6daab" stroke="#808080" stroke-width="1.0" stroke-linejoin="round" fill-rule="evenodd"/>
<path d="M1231.1,1132.2 L1237.6,1136.3 L1241.1,1138.0 L1241.3,1137.9 L1247.9,1134.6 L1254.6,1132.9 L1259.6,1134.6 L1269.5,1141.2 L1268.7,1146.2 L1274.5,1142.0 L1282.8,1136.2 L1281.1,1132.9 L1274.5,1129.6 L1266.2,1126.3 L1262.0,1122.9 L1262.0,1114.6 L1266.2,1109.7 L1272.8,1103.0 L1262.9,1093.1 L1266.2,1086.4 L1277.8,1083.1 L1289.4,1084.8 L1299.4,1084.8 L1311.0,1083.1 L1326.0,1083.1 L1332.6,1082.3 L1344.2,1076.5 L1360.8,1074.0 L1372.5,1071.5 L1385.7,1071.5 L1394.1,1074.8 L1400.0,1076.2 L1408.3,1081.1 L1416.6,1087.8 L1417.4,1094.4 L1421.6,1100.2 L1433.2,1099.4 L1435.7,1101.9 L1445.7,1103.2 L1446.0,1102.1 L1446.8,1097.7 L1447.4,1093.2 L1448.0,1088.7 L1448.6,1084.3 L1449.4,1079.9 L1450.5,1075.7 L1451.7,1071.8 L1453.0,1067.9 L1454.1,1064.1 L1455.3,1060.3 L1456.6,1056.6 L1457.9,1052.8 L1459.2,1049.0 L1460.7,1045.1 L1462.3,1041.1 L1464.0,1037.0 L1466.4,1031.8 L1469.1,1026.4 L1471.9,1020.9 L1475.0,1015.3 L1478.1,1009.7 L1481.3,1003.9 L1484.6,998.2 L1487.8,992.4 L1490.9,986.6 L1494.0,980.8 L1497.1,974.7 L1500.2,968.6 L1503.3,962.4 L1506.4,956.2 L1509.5,949.9 L1512.6,943.7 L1515.7,937.4 L1518.9,931.0 L1522.0,924.7 L1525.2,918.4 L1528.5,911.8 L1531.9,905.1 L1535.2,898.3 L1538.6,891.4 L1542.0,884.6 L1545.5,877.8 L1548.9,871.2 L1552.2,864.6 L1555.6,858.3 L1558.9,852.2 L1561.7,847.2 L1564.3,842.4 L1567.0,837.7 L1569.6,833.1 L1572.2,828.5 L1574.8,824.0 L1577.6,819.6 L1580.4,815.1 L1583.3,810.6 L1586.4,806.0 L1590.0,800.9 L1593.8,795.7 L1597.7,790.4 L1601.7,785.1 L1605.9,779.9 L1610.0,774.7 L1614.2,769.6 L1618.3,764.6 L1622.4,759.7 L1626.3,755.1 L1629.7,751.2 L1633.0,747.4 L1636.4,743.7 L1639.8,740.0 L1643.1,736.5 L1646.4,733.0 L1649.6,729.6 L1652.8,726.3 L1655.9,723.2 L1658.8,720.1 L1661.0,717.9 L1663.0,715.7 L1665.0,713.7 L1667.0,711.7 L1668.9,709.8 L1670.8,707.8 L1672.7,705.9 L1674.7,704.0 L1676.7,702.1 L1678.8,700.1 L1681.2,697.9 L1683.7,695.7 L1686.2,693.5 L1688.8,691.3 L1691.3,689.0 L1693.9,686.8 L1696.5,684.5 L1699.0,682.3 L1701.4,680.0 L1703.8,677.7 L1706.0,675.5 L1708.2,673.5 L1710.4,671.4 L1712.5,669.3 L1714.6,667.2 L1716.7,665.0 L1718.6,662.8 L1720.4,660.4 L1722.2,657.9 L1723.7,655.2 L1724.0,654.5 L1723.0,649.2 L1720.5,641.7 L1723.8,635.1 L1728.0,631.0 L1729.6,622.7 L1733.4,617.7 L1733.7,615.2 L1734.2,611.0 L1734.7,606.7 L1735.0,602.3 L1735.3,597.8 L1735.5,593.4 L1735.5,589.0 L1735.5,584.7 L1735.4,580.6 L1735.3,576.6 L1735.0,572.8 L1734.7,570.0 L1734.4,567.3 L1734.1,564.6 L1733.6,562.0 L1733.4,560.6 L1729.6,562.0 L1732.9,558.7 L1733.0,558.7 L1732.6,557.1 L1732.1,554.7 L1731.4,552.3 L1730.7,550.1 L1730.0,547.8 L1729.3,545.9 L1728.6,544.0 L1727.9,542.1 L1727.1,540.3 L1726.3,538.6 L1725.4,536.8 L1724.5,535.2 L1723.5,533.5 L1722.4,531.9 L1721.2,530.3 L1719.8,528.6 L1718.3,526.9 L1716.7,525.2 L1715.1,523.6 L1713.3,522.0 L1711.5,520.4 L1709.6,519.0 L1707.7,517.7 L1705.8,516.5 L1703.8,515.4 L1701.8,514.5 L1699.6,513.6 L1697.4,512.9 L1695.2,512.2 L1692.9,511.7 L1690.5,511.2 L1688.2,510.9 L1685.9,510.6 L1683.6,510.5 L1681.3,510.4 L1679.1,510.5 L1676.9,510.7 L1674.8,511.0 L1672.6,511.4 L1670.5,511.9 L1668.3,512.5 L1666.1,513.2 L1663.8,513.9 L1661.3,514.6 L1658.8,515.4 L1654.9,516.6 L1650.7,518.0 L1646.3,519.5 L1641.8,521.1 L1637.1,522.8 L1632.4,524.6 L1627.6,526.6 L1622.9,528.6 L1618.3,530.7 L1613.8,532.8 L1609.2,535.2 L1604.7,537.7 L1600.1,540.3 L1595.6,543.0 L1591.1,545.9 L1586.6,548.7 L1582.2,551.6 L1577.7,554.5 L1573.3,557.4 L1568.9,560.3 L1564.6,563.1 L1560.2,565.9 L1555.9,568.7 L1551.6,571.5 L1547.3,574.3 L1543.0,577.2 L1538.8,580.1 L1534.6,583.0 L1530.5,586.0 L1526.4,589.0 L1522.4,591.9 L1518.4,594.8 L1514.5,597.6 L1510.5,600.5 L1506.6,603.4 L1502.8,606.4 L1499.1,609.6 L1495.5,612.9 L1492.2,616.4 L1489.0,620.2 L1485.9,624.6 L1483.3,629.1 L1481.0,633.9 L1478.9,638.8 L1476.9,644.0 L1474.8,649.3 L1472.6,654.8 L1470.2,660.6 L1467.3,666.5 L1464.0,672.7 L1457.3,683.9 L1449.3,696.4 L1440.4,709.9 L1430.7,724.1 L1420.6,738.6 L1410.4,753.2 L1400.2,767.5 L1390.4,781.3 L1381.3,794.3 L1373.1,806.0 L1367.7,813.7 L1362.5,820.9 L1357.5,827.8 L1352.6,834.4 L1347.8,840.9 L1343.2,847.3 L1338.7,853.6 L1334.3,860.0 L1329.9,866.6 L1325.6,873.4 L1321.5,880.2 L1317.5,887.1 L1313.5,894.0 L1309.7,900.9 L1306.0,907.9 L1302.3,914.9 L1298.7,921.9 L1295.2,929.0 L1291.7,936.1 L1288.2,943.3 L1284.7,950.7 L1281.2,958.3 L1277.7,965.9 L1274.2,973.7 L1270.9,981.4 L1267.6,989.1 L1264.4,996.6 L1261.3,1004.1 L1258.4,1011.3 L1255.7,1018.2 L1253.6,1023.6 L1251.6,1028.9 L1249.6,1034.1 L1247.8,1039.2 L1246.0,1044.2 L1244.3,1049.1 L1242.6,1054.0 L1241.1,1058.8 L1239.6,1063.5 L1238.2,1068.2 L1237.1,1072.2 L1236.0,1076.1 L1235.0,1080.1 L1234.0,1083.9 L1233.1,1087.8 L1232.3,1091.5 L1231.5,1095.2 L1230.8,1098.8 L1230.1,1102.3 L1229.5,1105.6 L1229.0,1108.1 L1228.3,1110.5 L1227.5,1112.9 L1226.7,1115.3 L1226.1,1117.6 L1225.6,1119.8 L1225.3,1122.0 L1225.4,1124.1 L1226.0,1126.1 L1227.0,1128.1Z" fill="#a1cf86" stroke="#808080" stroke-width="1.0" stroke-linejoin="round" fill-rule="evenodd"/>
<path d="M376.3,1444.6 L378.1,1442.6 L379.8,1440.7 L381.5,1438.7 L383.0,1436.8 L384.6,1434.9 L386.2,1432.9 L387.8,1430.8 L389.6,1428.7 L391.7,1426.2 L393.9,1423.6 L396.1,1420.9 L398.4,1418.2 L400.7,1415.5 L402.9,1412.7 L405.2,1409.9 L407.5,1407.0 L409.8,1404.2 L412.1,1401.3 L414.6,1398.2 L417.0,1395.0 L419.5,1391.8 L422.0,1388.5 L424.6,1385.2 L427.1,1382.0 L429.6,1378.7 L432.1,1375.4 L434.6,1372.1 L437.1,1368.8 L439.6,1365.5 L442.0,1362.2 L444.5,1358.9 L446.9,1355.5 L449.4,1352.2 L451.8,1348.9 L454.3,1345.6 L456.8,1342.4 L459.4,1339.3 L462.0,1336.3 L464.5,1333.6 L467.0,1330.9 L469.6,1328.4 L472.2,1325.9 L474.8,1323.4 L477.5,1321.0 L480.1,1318.6 L482.8,1316.2 L485.4,1313.8 L488.0,1311.4 L490.5,1309.1 L492.9,1306.9 L495.2,1304.7 L497.6,1302.5 L499.9,1300.4 L502.3,1298.2 L504.8,1296.0 L507.4,1293.7 L510.1,1291.4 L513.0,1288.9 L517.3,1285.3 L521.9,1281.6 L526.7,1277.7 L531.8,1273.7 L536.9,1269.6 L542.2,1265.5 L547.5,1261.3 L552.7,1257.2 L557.9,1253.1 L562.9,1249.0 L567.8,1245.0 L572.9,1240.9 L578.1,1236.7 L583.2,1232.5 L588.3,1228.3 L593.3,1224.2 L598.0,1220.2 L602.5,1216.3 L606.7,1212.5 L610.4,1209.0 L612.7,1206.9 L614.7,1205.3 L597.9,1123.1 L570.4,1113.1 L550.4,1119.4 L533.0,1116.9 L520.5,1110.6 L503.0,1109.4 L488.0,1108.1 L474.5,1099.4 L457.0,1098.1 L447.0,1090.6 L439.5,1085.7 L422.1,1099.4 L409.6,1098.1 L394.6,1110.6 L384.6,1111.9 L372.1,1123.1 L367.1,1135.6 L354.6,1146.8 L333.4,1146.8 L324.7,1160.1 L337.2,1173.0 L349.6,1188.0 L354.6,1203.0 L362.1,1205.5 L374.6,1209.0 L389.6,1219.0 L379.6,1229.0 L369.6,1232.7 L349.6,1226.5 L349.6,1216.5 L332.2,1219.0 L312.2,1226.5 L293.4,1234.0 L299.7,1244.0 L308.4,1250.2 L309.7,1263.9 L324.7,1275.2 L347.1,1276.4 L354.6,1281.4 L367.1,1272.7 L377.1,1272.7 L372.1,1283.9 L375.9,1301.4 L369.6,1310.1 L357.1,1308.9 L347.1,1316.4 L338.4,1320.1 L327.2,1313.9 L317.2,1328.9 L303.4,1343.8 L295.9,1356.3 L303.4,1373.8 L307.2,1383.8 L303.4,1393.8 L314.7,1406.3 L319.7,1413.7 L337.2,1411.2 L344.6,1416.2 L348.4,1428.7 L344.6,1438.7 L347.1,1452.4 L359.6,1448.7 L374.6,1446.2 L374.6,1446.3Z M257.2,1306.4 L271.0,1300.1 L259.7,1293.9 L252.2,1283.9 L237.3,1277.7 L232.3,1286.4 L236.0,1291.4 L247.2,1296.4Z M293.4,1407.5 L294.7,1398.8 L284.7,1391.3 L269.7,1395.0 L274.7,1403.8 L282.2,1408.8Z" fill="#b6daab" stroke="#707070" stroke-width="1.0" stroke-linejoin="round" fill-rule="evenodd"/>
<path d="M314.7,1403.8 L316.7,1402.7 L318.4,1401.7 L320.0,1400.7 L321.5,1399.8 L322.9,1398.9 L324.2,1398.0 L325.5,1397.1 L326.8,1396.1 L328.2,1395.0 L329.7,1393.8 L331.6,1392.2 L333.6,1390.4 L335.6,1388.6 L337.5,1386.7 L339.5,1384.7 L341.5,1382.7 L343.5,1380.5 L345.6,1378.3 L347.6,1376.1 L349.6,1373.8 L352.1,1370.9 L354.6,1368.0 L357.1,1364.9 L359.6,1361.7 L362.1,1358.4 L364.7,1355.1 L367.2,1351.7 L369.7,1348.2 L372.2,1344.8 L374.6,1341.3 L377.2,1337.5 L379.7,1333.7 L382.3,1329.8 L384.8,1325.8 L387.3,1321.8 L389.7,1317.7 L392.2,1313.7 L394.7,1309.6 L397.1,1305.5 L399.6,1301.4 L402.1,1297.2 L404.7,1292.8 L407.2,1288.5 L409.8,1284.0 L412.3,1279.6 L414.8,1275.3 L417.3,1271.0 L419.8,1266.8 L422.2,1262.8 L424.6,1258.9 L426.5,1255.9 L428.4,1252.9 L430.2,1250.0 L431.9,1247.2 L433.7,1244.5 L435.5,1241.8 L437.4,1239.2 L439.3,1236.6 L441.2,1234.0 L443.3,1231.5 L445.5,1229.1 L447.7,1226.9 L450.0,1224.7 L452.4,1222.6 L454.8,1220.6 L457.2,1218.5 L459.7,1216.3 L462.1,1214.1 L464.6,1211.6 L467.0,1209.0 L470.1,1205.2 L473.3,1201.0 L476.6,1196.6 L479.8,1191.9 L483.1,1187.1 L486.3,1182.3 L489.4,1177.6 L492.4,1173.2 L495.3,1169.2 L498.0,1165.6 L499.7,1163.5 L501.3,1161.6 L502.9,1159.8 L504.4,1158.1 L505.9,1156.4 L507.4,1154.8 L508.8,1153.2 L510.2,1151.6 L511.6,1149.9 L513.0,1148.1 L514.4,1146.2 L515.9,1144.2 L517.4,1142.1 L518.8,1140.0 L520.2,1137.9 L521.6,1135.8 L522.8,1133.8 L523.9,1131.8 L524.8,1129.9 L525.5,1128.1 L525.8,1127.0 L526.0,1126.0 L526.1,1125.0 L526.2,1124.1 L526.2,1123.2 L526.2,1122.3 L526.2,1121.3 L526.3,1120.3 L526.4,1119.2 L526.7,1118.1 L527.5,1116.0 L528.4,1114.6 L520.5,1110.6 L503.0,1109.4 L488.0,1108.1 L474.5,1099.4 L457.0,1098.1 L447.0,1090.6 L439.5,1085.7 L422.1,1099.4 L409.6,1098.1 L394.6,1110.6 L384.6,1111.9 L372.1,1123.1 L367.1,1135.6 L354.6,1146.8 L333.4,1146.8 L324.7,1160.1 L337.2,1173.0 L349.6,1188.0 L354.6,1203.0 L362.1,1205.5 L374.6,1209.0 L389.6,1219.0 L379.6,1229.0 L369.6,1232.7 L349.6,1226.5 L349.6,1216.5 L332.2,1219.0 L312.2,1226.5 L293.4,1234.0 L299.7,1244.0 L308.4,1250.2 L309.7,1263.9 L324.7,1275.2 L347.1,1276.4 L354.6,1281.4 L367.1,1272.7 L377.1,1272.7 L372.1,1283.9 L375.9,1301.4 L369.6,1310.1 L357.1,1308.9 L347.1,1316.4 L338.4,1320.1 L327.2,1313.9 L317.2,1328.9 L303.4,1343.8 L295.9,1356.3 L303.4,1373.8 L307.2,1383.8 L303.4,1393.8 L313.2,1404.7Z M257.2,1306.4 L271.0,1300.1 L259.7,1293.9 L252.2,1283.9 L237.3,1277.7 L232.3,1286.4 L236.0,1291.4 L247.2,1296.4Z M293.4,1407.5 L294.7,1398.8 L284.7,1391.3 L269.7,1395.0 L274.7,1403.8 L282.2,1408.8Z" fill="#a1cf86" stroke="#707070" stroke-width="1.0" stroke-linejoin="round" fill-rule="evenodd"/>
<path d="M1742.9,538.0 L1746.2,533.0 L1756.2,526.3 L1766.2,518.0 L1781.1,511.4 L1789.4,508.1 L1799.4,506.4 L1810.2,502.3 L1802.7,518.0 L1796.0,519.7 L1789.4,518.0 L1782.8,526.3 L1772.8,530.5 L1759.5,536.3 L1746.2,542.9 L1737.9,552.9Z M1696.4,606.0 L1698.1,612.7 L1704.7,618.5 L1713.0,624.3 L1722.2,626.0 L1723.8,635.1 L1720.5,641.7 L1714.7,637.6 L1708.0,631.0 L1704.7,622.7 L1699.7,616.0Z M1715.3,749.8 L1712.8,756.4 L1706.1,763.1 L1697.8,768.0 L1691.2,776.3 L1702.8,774.7 L1712.8,771.4 L1724.4,773.0 L1727.7,779.7 L1726.0,786.3 L1721.1,789.6 L1717.7,797.9 L1709.4,799.6 L1697.8,796.3 L1682.9,797.9 L1697.8,802.9 L1706.1,804.6 L1701.1,812.9 L1686.2,814.5 L1696.2,822.8 L1709.4,816.2 L1717.7,817.9 L1722.7,807.9 L1732.7,802.9 L1737.7,799.6 L1736.8,784.6 L1731.0,773.0 L1721.9,762.2Z M1610.9,1183.3 L1617.5,1187.4 L1620.0,1195.7 L1617.5,1204.0 L1610.9,1205.7 L1604.2,1200.7 L1600.9,1194.1 L1605.1,1187.4Z M1312.7,1083.1 L1313.5,1069.8 L1316.8,1066.5 L1320.2,1069.8 L1321.0,1078.1 L1326.0,1083.1Z M1683.1,614.3 L1679.8,621.0 L1674.8,627.6 L1672.3,639.3 L1674.8,655.9 L1681.5,669.1 L1688.1,679.1 L1696.4,689.1 L1699.7,699.0 L1698.1,708.0 L1697.8,711.6 L1706.1,721.5 L1707.0,729.0 L1699.5,729.9 L1692.8,721.5 L1703.1,708.0 L1704.7,689.1 L1696.4,679.1 L1688.1,669.1 L1683.1,655.9 L1679.8,639.3 L1681.5,627.6 L1686.5,616.0Z" fill="#fff" stroke="#505050" stroke-width="1.2" stroke-linejoin="round"/>
<path d="M239.3,159.8 L303.4,177.8 L402.1,202.7 L430.1,209.2 L488.0,219.2 M402.6,202.7 L377.1,329.6 M171.1,264.7 L174.4,266.8 L177.8,268.7 L181.4,270.4 L184.8,272.2 L189.1,273.5 L193.0,275.9 L197.3,277.2 L197.9,280.7 L200.1,283.7 L201.0,287.1 L200.7,291.3 L200.0,295.4 L199.8,299.6 L203.3,302.4 L206.6,305.3 L209.8,308.4 L213.6,308.5 L217.3,307.2 L221.0,307.0 L224.8,307.1 L228.4,309.0 L232.4,309.7 L236.0,311.5 L239.9,312.5 L243.7,313.9 L247.2,315.9 L250.9,316.3 L254.7,316.5 L258.4,317.2 L262.2,316.6 L265.9,317.5 L269.7,317.6 L273.3,317.4 L276.9,317.8 L280.4,317.3 L283.9,316.0 L287.5,315.8 L291.1,316.2 L294.7,315.9 L298.7,315.5 L302.7,316.0 L306.7,316.4 L310.7,316.6 L314.7,317.1 L318.1,318.3 L321.7,318.2 L325.3,318.6 L328.8,319.4 L332.0,321.2 L335.6,321.3 L339.0,322.5 L342.6,323.0 L346.2,323.2 L349.6,324.1 L353.1,324.6 L356.4,325.9 L359.8,326.6 L363.2,327.5 L366.7,328.1 L370.3,328.0 L373.8,328.5 L377.1,329.6 M377.1,329.6 L378.4,332.9 L379.8,336.1 L382.1,338.9 L383.4,342.3 L385.2,345.3 L387.1,348.3 L385.2,351.4 L384.0,354.8 L382.1,357.8 L380.2,360.8 L378.3,363.9 L377.2,367.3 L375.2,370.3 L372.7,373.0 L371.0,376.2 L369.6,379.5 L366.7,381.6 L364.9,384.8 L362.2,387.1 L360.0,389.9 L357.3,392.2 L354.6,394.5 L353.3,398.7 L352.1,403.0 L354.6,403.0 L358.2,405.6 L360.9,409.2 L358.9,412.6 L356.6,415.8 L355.0,419.4 L353.4,423.0 L353.2,426.5 L352.1,429.9 L351.0,433.2 L349.9,436.6 L349.0,440.0 L348.5,443.4 L348.7,447.1 L347.3,450.3 L346.3,453.7 L346.0,457.2 L345.3,460.6 L344.5,464.1 L342.9,467.3 L343.4,471.0 L342.5,474.4 L341.6,477.8 L340.7,481.1 L339.3,484.4 L339.5,488.1 L338.2,491.3 L337.0,494.7 L336.5,498.2 L335.9,501.6 M430.1,209.2 L428.9,212.6 L428.0,216.0 L428.0,219.6 L426.8,222.9 L426.2,226.4 L425.6,229.9 L425.5,233.5 L424.6,236.9 L423.6,240.3 L422.8,243.7 L422.1,247.2 L423.7,250.5 L424.5,254.1 L424.6,257.8 L425.7,261.3 L427.1,264.7 L428.0,268.2 L430.3,270.9 L431.4,274.3 L433.3,277.3 L434.5,280.6 L435.5,284.0 L437.7,286.9 L438.4,290.4 L439.4,293.8 L441.0,296.9 L443.3,299.7 L444.4,303.1 L445.5,306.4 L447.0,309.6 L449.8,312.2 L452.9,314.5 L456.2,316.5 L459.5,318.4 L459.0,322.3 L457.4,325.9 L456.0,329.6 L455.5,333.4 L454.4,337.2 L453.3,340.9 L452.0,344.6 L450.6,348.2 L451.0,352.2 L450.0,355.9 L449.1,359.6 L448.0,363.3 L447.0,367.0 L451.9,368.7 L457.0,369.5 L459.1,366.6 L462.0,364.6 L464.5,362.1 L465.1,365.7 L466.4,369.1 L467.3,372.6 L468.5,376.0 L469.5,379.5 L470.4,383.4 L470.5,387.5 L472.3,391.2 L473.0,395.1 L473.6,399.1 L474.5,403.0 L476.2,406.2 L476.8,409.7 L478.0,413.0 L480.0,416.2 L483.1,418.5 L485.3,421.6 L488.0,424.2 L491.8,423.8 L495.4,422.5 L499.1,421.7 L503.0,421.7 L506.4,422.8 L510.0,423.0 L513.4,423.7 L516.9,424.3 L520.5,424.2 L525.5,423.0 L530.5,421.7 L534.2,416.7 L536.4,420.1 L539.2,423.0 L541.1,426.9 L543.4,430.5 M488.0,219.2 L627.9,242.2 L707.8,252.7 L779.0,259.7 L976.0,269.7 M779.0,259.7 L772.7,324.6 L767.2,393.3 L767.2,403.0 L764.0,434.2 M767.2,393.3 L862.6,399.5 L953.0,403.0 L994.7,392.0 M976.0,269.7 L979.7,269.1 L983.4,269.5 L987.1,270.2 L990.8,269.9 L994.5,269.0 L998.2,270.0 L1001.9,269.7 L1005.6,270.2 L1009.3,270.1 L1013.0,269.3 L1016.7,269.2 L1020.4,269.1 L1024.1,269.7 L1027.8,269.6 L1031.5,269.8 L1035.2,269.7 L1038.9,269.7 L1039.5,265.8 L1038.5,261.9 L1039.2,258.1 L1038.9,254.2 L1043.7,254.4 L1048.4,254.7 L1049.9,258.3 L1050.2,262.2 L1050.5,266.0 L1051.8,269.7 L1052.6,273.4 L1053.4,277.2 L1057.1,278.0 L1060.6,279.5 L1064.0,281.2 L1067.5,282.8 L1071.2,283.7 L1074.6,285.2 L1078.4,285.9 L1079.6,289.6 L1083.0,288.2 L1086.5,287.1 L1089.7,285.2 L1093.4,284.6 L1097.6,285.0 L1101.7,284.8 L1105.9,284.6 L1108.1,287.4 L1111.3,289.2 L1113.1,292.4 L1116.2,294.3 L1118.5,297.0 L1120.9,299.6 L1124.2,298.4 L1127.7,297.8 L1130.8,295.9 L1133.4,298.6 L1136.8,300.4 L1140.2,302.1 L1142.4,305.4 L1145.8,307.1 L1149.1,305.7 L1152.6,304.7 L1155.8,303.1 L1159.1,301.8 L1162.6,300.8 L1165.8,299.1 L1169.5,301.6 L1173.3,304.1 L1176.8,303.8 L1180.3,303.7 L1183.8,303.6 L1187.3,303.9 L1190.8,303.4 L1194.8,304.5 L1198.9,304.9 L1203.0,304.8 L1207.0,305.9 M976.0,269.7 L977.6,273.3 L978.3,277.2 L979.8,280.8 L981.0,284.6 L981.2,288.4 L980.8,292.1 L979.4,295.8 L979.7,299.6 L980.1,303.7 L980.7,307.7 L981.3,311.7 L983.4,315.5 L983.5,319.6 L983.8,323.3 L986.1,326.4 L987.1,329.9 L987.0,333.8 L988.5,337.1 L989.4,340.8 L989.5,344.6 L989.5,348.3 L988.7,352.1 L989.3,355.9 L989.7,359.6 L989.3,363.6 L990.3,367.6 L990.1,371.6 L990.5,375.5 L991.0,379.5 L992.2,383.3 L993.7,386.9 L995.2,390.6 L996.0,394.5 L997.2,398.7 L997.2,403.0 L996.0,403.0 L995.7,406.8 L996.0,410.5 L992.3,413.9 L988.0,416.7 L989.8,420.1 L991.1,423.7 L993.5,426.7 L997.1,427.4 L1000.2,429.2 L999.8,432.8 L1000.0,436.4 L1000.5,439.9 L1000.3,443.5 L1000.2,447.1 L1000.9,450.7 L1000.3,454.3 L1000.4,457.9 L999.7,461.4 L999.5,465.0 L1000.8,468.6 L999.8,472.2 L1000.7,475.8 L1000.3,479.4 L1000.4,482.9 L1000.3,486.5 L1000.6,490.1 L1000.3,493.7 L999.7,497.3 L1000.4,500.9 L999.6,504.4 L1000.6,508.0 L1000.2,511.6 M1128.3,368.3 L1127.1,397.0 L1115.9,403.0 L1112.1,403.0 M1170.8,369.5 L1193.3,380.8 L1225.7,389.5 L1230.0,388.9 L1240.0,392.3 L1254.9,393.9 L1263.2,401.4 L1267.4,413.0 L1271.5,423.0 L1274.0,429.6 M109.4,442.5 L241.0,479.9 L335.9,501.6 L430.1,522.4 L488.0,532.3 L526.7,537.8 M241.0,479.9 L208.5,607.7 L340.9,806.0 L352.1,818.5 M430.1,522.4 L389.6,740.1 L382.1,772.5 M382.1,772.5 L379.6,776.9 L377.1,781.3 L373.0,778.5 L369.6,775.0 L365.4,775.4 L361.3,775.1 L357.1,775.0 L356.5,779.2 L354.9,783.2 L354.6,787.5 L354.9,791.2 L355.1,794.9 L353.7,798.6 L353.7,802.3 L354.1,806.0 L353.9,810.2 L352.1,814.2 L352.1,818.5 L350.9,821.0 L352.2,824.5 L352.2,828.2 L352.5,831.8 L353.3,835.4 L354.6,838.8 L355.2,842.4 L355.9,846.0 L358.1,849.2 L359.5,853.0 L362.1,855.9 L358.7,857.7 L355.6,860.0 L352.3,861.9 L349.6,864.7 L349.2,868.3 L347.9,871.6 L347.1,875.1 L345.9,878.4 L343.6,882.0 L341.2,885.5 L338.6,888.9 L335.9,892.1 L334.8,895.5 L335.1,899.1 L334.6,902.6 L333.4,905.9 L336.1,910.0 L339.7,913.4 L337.2,917.2 L334.7,920.9 L328.4,920.9 M389.6,740.1 L488.0,757.6 L561.7,767.5 M547.4,408.5 L764.0,434.2 L756.5,522.4 L749.0,609.7 L584.2,593.3 L520.0,582.3 L526.7,537.8 L543.4,430.5 L547.4,408.5 M584.2,593.3 L561.7,767.5 L555.4,806.0 L555.4,806.0 L544.2,885.9 L535.5,948.3 L526.7,1015.7 M756.5,522.4 L760.0,522.0 L763.5,523.3 L767.0,522.7 L770.5,523.6 L774.0,523.8 L777.5,524.3 L781.0,524.3 L784.5,524.5 L788.0,524.9 L791.5,524.9 L795.0,524.4 L798.5,524.6 L802.0,524.5 L805.5,525.1 L809.0,525.0 L812.5,525.9 L816.0,525.3 L819.5,525.9 L823.0,526.7 L826.5,526.8 L830.0,526.0 L833.5,526.3 L837.0,526.9 L840.5,526.7 L844.0,527.6 L847.5,527.1 L851.0,528.0 L854.5,528.6 L858.0,528.8 L861.5,528.5 L865.0,529.1 L868.5,529.3 L872.0,529.2 L875.5,528.7 L879.0,529.6 L882.5,529.9 L886.0,530.3 L889.5,530.4 L893.0,531.0 L896.5,530.1 L900.0,530.1 L903.5,530.3 L907.0,530.7 L910.5,531.5 L914.0,532.2 L917.5,531.6 L921.0,531.8 L924.5,532.5 L928.0,532.9 L931.5,532.0 L935.0,532.8 L937.8,535.5 L941.4,536.9 L944.3,539.4 L947.5,541.6 L951.3,540.5 L955.0,539.1 L958.5,539.4 L962.0,539.4 L965.5,539.2 L969.0,540.2 L972.5,539.9 L976.0,539.8 L979.2,541.9 L982.9,543.0 L986.0,545.3 L990.2,548.0 L994.7,550.3 L998.5,555.3 M749.0,609.7 L814.7,615.7 L812.2,659.4 M812.2,659.4 L976.0,665.2 L1035.9,667.7 M812.2,659.4 L803.9,792.0 M561.7,767.5 L770.2,790.5 L803.9,792.0 L976.0,800.0 L1062.9,798.8 M770.2,790.5 L769.0,806.0 L767.2,812.2 M996.0,511.6 L1164.6,507.4 M1000.2,511.6 L996.0,512.9 L995.9,516.8 L997.2,520.4 L999.7,526.6 L998.6,530.7 L997.2,534.7 L995.6,538.6 L994.7,542.8 L995.4,547.1 L997.8,551.0 L998.5,555.3 L1000.1,558.9 L1001.1,562.8 L1002.1,566.6 L1003.4,570.3 L1004.9,574.0 L1006.0,577.8 L1007.1,581.6 L1008.5,585.3 L1010.4,588.8 L1010.6,592.9 L1012.6,596.4 L1013.5,600.3 L1015.2,604.1 L1016.1,608.1 L1016.5,612.2 L1017.0,616.4 L1018.5,620.2 L1019.5,624.2 L1020.4,628.2 L1022.1,632.1 L1022.7,636.1 L1023.5,640.2 L1023.9,644.5 L1024.9,648.6 L1025.9,652.7 L1027.5,656.0 L1030.0,658.6 L1031.9,661.7 L1034.1,664.6 L1035.9,667.7 L1037.8,671.0 L1038.3,674.9 L1039.9,678.4 L1042.2,681.5 L1043.4,685.1 L1046.4,687.9 L1048.3,691.4 L1050.6,694.7 L1053.4,697.6 L1057.6,699.9 L1061.7,702.6 L1061.2,706.2 L1062.1,709.7 L1062.0,713.3 L1061.4,716.9 L1061.7,720.4 L1061.6,724.0 L1061.6,727.6 L1061.5,731.1 L1062.7,734.7 L1062.4,738.3 L1061.8,741.8 L1062.8,745.4 L1061.6,749.0 L1063.0,752.5 L1061.8,756.1 L1062.6,759.6 L1061.8,763.2 L1063.0,766.8 L1062.3,770.3 L1062.3,773.9 L1063.1,777.5 L1062.9,781.0 L1063.3,784.6 L1062.1,788.2 L1062.4,791.7 L1062.1,795.3 L1063.5,798.9 L1063.0,802.4 L1062.9,806.0 L1062.5,809.9 L1062.3,813.8 L1063.0,817.6 L1062.9,821.5 L1063.3,825.0 L1064.3,828.4 L1065.1,831.9 L1065.0,835.5 L1066.0,838.9 L1065.6,842.6 L1067.3,845.9 L1067.1,849.5 L1068.1,852.9 L1068.6,856.4 L1069.0,859.9 L1069.7,863.4 L1069.6,867.0 L1070.0,870.6 L1069.3,874.1 L1070.4,877.7 L1069.9,881.3 L1069.6,884.9 L1069.6,888.5 L1069.9,892.1 L1069.9,895.6 L1069.6,899.2 L1069.9,902.8 L1069.7,906.4 L1069.6,910.0 L1069.7,913.6 L1070.0,917.1 L1069.7,920.7 L1069.4,924.3 L1069.2,927.9 L1069.4,931.5 L1069.5,935.1 L1069.4,938.6 L1070.1,942.2 L1069.7,945.8 L1070.4,950.3 L1074.2,950.5 L1077.9,949.6 L1081.7,950.6 L1085.4,950.3 L1085.0,954.4 L1085.6,958.4 L1086.4,962.4 L1086.1,966.4 L1086.6,970.5 L1086.4,974.5 L1086.6,978.1 L1086.1,981.8 L1087.2,985.4 L1086.6,989.1 L1087.1,992.7 L1086.9,996.3 L1087.5,1000.0 L1086.3,1003.6 L1086.4,1007.3 L1086.4,1010.9 L1086.8,1014.6 L1087.1,1018.2 L1089.4,1021.3 L1091.5,1024.5 L1093.2,1027.9 L1095.9,1030.7 L1097.3,1034.4 L1098.2,1038.3 L1100.2,1041.8 L1100.9,1045.7 L1102.1,1049.6 L1103.6,1053.4 L1105.5,1057.0 L1107.1,1060.7 L1106.7,1064.3 L1105.9,1067.8 L1104.3,1071.1 L1103.8,1074.6 L1103.4,1078.2 L1102.4,1081.9 L1101.0,1085.5 L1100.0,1089.2 L1099.6,1093.1 L1100.5,1097.2 L1099.9,1101.5 L1100.9,1105.6 L1098.7,1108.5 L1097.4,1112.0 L1094.7,1114.6 L1093.4,1118.1 M1023.5,640.2 L1158.3,636.5 L1167.1,646.4 M1112.1,403.0 L1111.7,407.2 L1111.3,411.3 L1110.9,415.5 L1113.8,418.1 L1115.8,421.4 L1118.4,424.2 L1117.3,427.7 L1115.9,431.1 L1114.6,434.5 L1113.4,438.0 L1114.3,441.7 L1114.3,445.4 L1114.6,449.2 L1114.6,452.9 L1117.1,455.7 L1119.9,458.2 L1123.2,460.2 L1125.8,462.9 L1129.9,464.2 L1133.4,466.4 L1137.0,468.7 L1140.8,470.4 L1143.2,473.6 L1145.3,477.1 L1148.4,479.7 L1150.8,482.9 L1154.1,484.5 L1157.3,486.7 L1160.8,487.9 L1162.6,492.0 L1164.2,496.2 L1165.8,500.4 L1165.0,503.9 L1164.6,507.4 L1166.6,510.9 L1168.7,514.4 L1170.8,517.9 L1169.5,521.6 L1168.3,525.3 L1169.5,529.7 L1171.9,533.5 L1173.3,537.8 L1176.6,539.7 L1179.3,542.6 L1183.0,543.9 L1185.8,546.6 L1188.3,550.3 L1190.3,553.3 L1192.9,555.7 L1195.8,557.8 L1197.9,561.4 L1201.2,564.2 L1203.3,567.8 L1204.4,572.7 L1204.5,577.8 L1202.9,582.2 L1200.0,586.0 L1198.3,590.3 L1194.9,591.9 L1191.6,593.5 L1188.3,595.3 L1184.4,596.1 L1180.6,597.4 L1177.0,599.0 L1177.0,603.4 L1175.8,607.7 L1178.4,611.4 L1180.8,615.2 L1181.0,619.4 L1180.2,623.6 L1179.5,627.7 L1177.7,630.9 L1175.8,634.0 L1172.2,635.6 L1168.3,636.5 L1168.4,641.5 L1167.1,646.4 L1165.7,650.8 L1164.6,655.2 L1165.3,659.5 L1167.4,663.4 L1168.3,667.7 L1170.0,670.9 L1171.5,674.3 L1174.1,677.0 L1175.8,680.2 L1179.1,682.5 L1182.2,684.9 L1185.5,687.2 L1188.3,690.1 L1189.8,693.9 L1191.0,697.8 L1193.6,701.1 L1194.5,705.1 L1198.3,710.1 L1203.3,706.4 L1206.8,707.6 L1210.1,709.6 L1213.3,711.4 L1213.1,715.3 L1211.0,718.7 L1210.8,722.6 L1209.5,726.7 L1207.7,730.8 L1207.0,735.1 L1210.1,738.2 L1213.3,741.4 L1215.8,745.1 L1218.2,747.7 L1220.9,749.9 L1223.2,752.6 L1226.7,754.0 L1230.0,755.6 L1233.2,757.6 L1235.4,761.6 L1238.2,765.1 L1239.2,769.2 L1239.4,773.5 L1240.7,777.5 L1242.1,781.0 L1244.6,783.9 L1245.7,787.5 L1249.5,790.0 L1253.2,792.5 L1253.5,797.0 L1254.5,801.5 L1254.5,806.0 L1253.2,806.0 L1248.9,807.2 L1244.8,809.1 L1240.7,811.0 L1241.4,814.7 L1242.0,818.5 L1239.3,822.4 L1237.3,826.6 L1235.7,831.0 L1238.2,837.2 L1236.0,840.5 L1234.7,844.2 L1233.2,847.8 L1230.7,850.9 L1229.2,854.2 L1227.2,857.3 L1224.5,859.9 L1223.2,863.4 L1223.9,867.3 L1225.7,870.9 L1223.1,873.9 L1221.2,877.3 L1219.5,880.9 L1216.4,883.1 L1213.5,885.7 L1210.8,888.4 L1210.2,893.4 L1210.8,898.4 L1209.2,901.7 L1207.0,904.6 L1205.4,907.9 L1203.3,910.9 L1201.8,914.4 L1200.0,917.7 L1198.7,921.3 L1197.1,924.7 L1195.8,928.3 L1195.1,931.9 L1193.8,935.3 L1193.4,939.0 L1192.5,942.5 L1190.8,945.8 L1192.3,950.7 L1193.3,955.8 L1192.1,959.6 L1192.1,963.6 L1192.1,967.5 L1190.8,971.3 L1191.4,975.1 L1193.4,978.5 L1194.2,982.3 L1195.8,985.8 L1196.8,989.8 L1198.8,993.4 L1200.5,997.0 L1202.0,1000.8 L1200.3,1004.0 L1199.1,1007.4 L1197.4,1010.7 L1196.3,1014.1 L1195.2,1017.6 L1193.3,1020.7 L1191.3,1023.7 L1188.2,1025.6 L1186.1,1028.5 L1183.3,1030.7 L1182.6,1034.6 L1180.5,1038.1 L1179.8,1042.0 L1178.3,1045.7 L1178.8,1049.4 L1178.3,1053.2 L1179.6,1056.9 L1179.5,1060.7 M1188.3,550.3 L1278.2,544.3 M1314.4,573.3 L1378.6,566.5 L1423.0,562.3 M1291.2,579.0 L1290.9,582.6 L1291.6,586.2 L1292.5,589.7 L1292.5,593.3 L1293.3,596.8 L1293.6,600.4 L1293.0,604.1 L1293.7,607.6 L1294.1,611.2 L1295.2,614.7 L1294.5,618.4 L1294.6,622.0 L1295.1,625.5 L1296.0,629.0 L1295.6,632.7 L1296.5,636.2 L1296.8,639.8 L1296.7,643.4 L1297.8,646.9 L1297.5,650.5 L1298.5,654.1 L1298.0,657.7 L1299.1,661.2 L1299.5,664.8 L1299.7,668.4 L1300.1,671.9 L1300.4,675.5 L1300.2,679.1 L1300.7,682.7 L1298.2,687.6 L1298.9,691.5 L1300.4,695.2 L1301.8,698.9 L1303.2,702.6 L1301.8,706.5 L1301.1,710.6 L1300.5,714.7 L1299.7,718.7 L1298.2,722.6 L1296.9,726.6 L1294.3,730.0 L1292.3,733.7 L1290.7,737.6 L1290.1,742.2 L1288.7,746.7 L1288.2,751.3 M1378.6,566.5 L1392.6,681.4 M1250.7,790.0 L1251.8,786.4 L1254.0,783.3 L1255.7,780.0 L1259.4,780.4 L1262.6,782.3 L1266.1,783.4 L1269.8,783.6 L1273.2,785.0 L1274.7,781.0 L1274.9,776.7 L1275.7,772.5 L1278.7,770.3 L1281.1,767.3 L1283.8,764.7 L1286.9,762.6 L1287.1,758.8 L1287.6,755.1 L1288.2,751.3 L1292.2,749.2 L1296.7,748.3 L1300.7,746.3 L1305.7,745.1 L1310.7,743.8 L1315.0,745.0 L1319.0,747.1 L1323.1,748.8 L1325.2,745.5 L1328.2,743.1 L1330.6,740.1 L1334.5,740.8 L1338.1,742.6 L1339.9,739.4 L1341.9,736.4 L1343.1,732.9 L1345.6,730.1 L1350.0,731.7 L1353.7,734.8 L1358.1,736.3 L1360.6,733.2 L1361.4,729.2 L1363.3,725.8 L1365.6,722.6 L1368.0,720.0 L1371.0,718.0 L1373.1,715.1 L1373.6,710.9 L1372.7,706.8 L1373.1,702.6 L1377.1,700.5 L1381.4,699.1 L1385.6,697.6 L1389.5,696.8 L1393.1,695.1 L1392.8,690.5 L1392.7,686.0 L1392.6,681.4 L1396.9,681.8 L1401.3,680.8 L1405.6,681.4 L1408.4,683.9 L1410.9,686.7 L1413.4,689.5 L1415.5,692.6 L1419.2,693.3 L1422.6,694.7 L1426.0,696.4 L1429.4,698.0 L1433.0,698.9 L1437.2,697.8 L1441.3,696.2 L1445.5,695.1 L1449.7,693.8 L1453.7,692.1 L1458.0,691.4 L1461.3,692.8 L1464.0,695.1 L1464.0,698.9 L1467.3,700.2 L1470.8,701.0 L1474.0,702.6 L1476.6,699.0 L1479.8,695.9 L1482.7,692.6 L1483.9,689.0 L1484.4,685.2 L1485.1,681.5 L1485.2,677.7 L1489.6,676.5 L1494.0,675.2 L1495.6,670.3 L1496.5,665.2 L1499.0,661.5 L1502.2,658.4 L1505.2,655.2 L1507.8,652.7 L1509.3,649.4 L1511.2,646.3 L1513.6,643.6 L1516.0,641.0 L1518.5,638.4 L1520.2,635.2 L1521.0,631.6 L1521.8,628.1 L1521.7,624.4 L1522.8,620.9 L1524.2,617.4 L1524.1,613.7 L1525.2,610.2 L1524.3,606.1 L1523.9,602.0 L1523.9,597.8 L1523.8,594.1 L1522.8,590.5 L1522.5,586.8 L1522.1,583.1 L1521.7,579.5 L1521.4,575.8 L1520.3,572.2 L1521.1,568.4 L1520.5,564.7 L1519.6,561.1 L1518.5,557.5 L1519.1,553.7 L1517.9,550.1 L1517.1,546.5 L1517.5,542.7 L1516.9,539.1 M1291.9,803.8 L1375.6,797.5 L1464.0,789.5 L1464.0,786.3 L1513.9,779.5 L1613.8,765.1 L1711.2,746.3 M1253.2,806.0 L1293.2,809.7 L1291.9,803.8 M1538.9,522.9 L1540.0,527.5 L1540.2,532.3 L1543.6,531.5 L1547.1,531.2 L1550.5,530.4 L1553.9,529.5 L1557.3,528.4 L1560.8,527.9 L1564.2,527.1 L1567.8,527.4 L1571.2,526.2 L1574.6,525.8 L1578.0,524.5 L1581.5,524.3 L1585.1,524.2 L1588.5,523.4 L1591.9,522.6 L1595.3,522.0 L1598.8,521.5 L1602.0,519.6 L1605.6,519.6 L1609.0,518.9 L1612.5,518.4 L1615.8,517.1 L1619.4,517.3 L1622.9,516.6 L1626.3,516.0 L1629.6,514.3 L1633.1,514.3 L1636.5,513.4 L1639.9,512.5 L1643.4,512.2 L1646.8,511.1 L1650.3,511.0 L1653.9,510.9 L1657.1,508.9 L1660.6,508.7 L1664.2,508.7 L1667.6,507.9 L1671.0,506.9 L1674.5,506.8 L1678.0,506.3 L1681.3,504.9 L1684.8,506.9 L1687.9,509.4 L1691.3,511.6 L1692.5,515.6 L1694.1,519.4 L1696.3,522.9 L1700.8,525.1 L1705.0,527.8 M1705.0,527.8 L1704.1,531.8 L1702.6,535.7 L1702.6,539.9 L1701.2,543.8 L1700.0,547.8 L1699.6,552.1 L1697.8,556.0 L1697.5,560.3 L1700.3,564.3 L1703.8,567.8 L1706.2,570.7 L1709.1,573.0 L1712.3,575.0 L1715.2,577.4 L1717.5,580.3 L1715.8,583.5 L1713.2,586.1 L1711.5,589.3 L1709.4,592.2 L1707.5,595.3 L1703.2,597.9 L1698.8,600.3 L1698.3,605.3 L1697.5,610.2 L1699.1,613.8 L1700.0,617.7 M1705.0,527.8 L1732.5,542.8 L1735.0,552.8 M1516.4,537.8 L1531.4,635.2 M1531.4,635.2 L1687.5,607.2 L1690.0,601.5 L1698.8,600.3 M1690.0,607.7 L1703.8,660.2 L1721.2,657.7 M1567.6,630.7 L1568.4,634.3 L1568.4,638.0 L1569.5,641.6 L1569.1,645.4 L1569.1,649.1 L1570.1,652.7 L1572.9,650.5 L1575.1,647.7 L1576.7,644.4 L1579.2,641.8 L1581.5,639.2 L1584.4,637.0 L1586.4,634.0 L1588.9,631.5 L1593.1,631.2 L1597.2,632.6 L1601.4,632.7 L1603.5,629.4 L1606.9,627.3 L1608.9,624.0 L1613.9,624.1 L1618.8,625.2 L1621.3,628.0 L1622.4,631.6 L1623.9,634.9 L1626.3,637.7 L1622.3,637.1 L1618.3,637.3 L1614.4,636.0 L1610.3,636.2 L1606.4,635.2 L1606.9,640.2 L1607.6,645.2 L1606.3,648.9 L1604.2,652.2 L1602.5,655.8 L1600.4,659.1 L1598.9,662.7 L1595.9,664.7 L1593.7,667.5 L1591.8,670.6 L1588.9,672.7 L1587.1,675.9 L1586.3,679.5 L1584.9,682.9 L1583.9,686.4 L1580.5,685.1 L1577.1,683.6 L1573.7,682.2 L1570.1,681.4 L1569.2,685.0 L1568.3,688.5 L1567.0,692.0 L1566.3,695.6 L1564.5,698.9 L1563.9,702.6 L1562.0,705.6 L1561.4,709.2 L1559.7,712.3 L1558.2,715.5 L1557.0,718.8 L1555.8,722.1 L1553.9,725.1 L1553.4,728.9 L1552.7,732.6 L1549.3,733.9 L1545.9,735.3 L1542.4,736.6 L1538.9,737.6 L1535.9,739.8 L1532.7,741.8 L1530.1,744.6 L1527.2,746.9 L1523.9,748.8 L1520.3,750.2 L1516.6,751.3 L1512.6,751.2 L1509.0,752.6 L1505.7,749.9 L1502.6,747.1 L1499.8,743.9 L1496.5,741.3 L1494.4,738.2 L1491.0,736.1 L1488.5,733.3 L1486.5,730.1 L1483.9,727.2 L1481.3,724.3 L1479.0,721.1 L1476.2,718.4 L1474.0,715.1 L1472.6,710.1 L1471.5,705.1 L1467.7,702.1 L1464.0,698.9 M1626.3,637.7 L1630.3,639.9 L1634.7,640.9 L1638.8,642.7 L1642.4,643.9 L1645.9,645.4 L1649.4,647.0 L1652.6,649.1 L1656.3,650.2 L1655.9,654.0 L1654.5,657.6 L1654.7,661.5 L1653.8,665.2 L1651.0,668.8 L1648.8,672.7 M1496.5,741.3 L1494.2,744.2 L1492.0,747.0 L1489.1,749.3 L1486.8,752.2 L1484.2,754.7 L1481.1,756.8 L1478.6,759.4 L1476.2,762.2 L1474.0,765.1 L1471.0,767.1 L1468.7,769.8 L1466.6,772.6 L1464.0,775.0 L1460.8,777.7 L1457.0,779.2 L1453.6,781.4 L1449.8,783.0 L1446.2,784.9 L1443.0,787.5 M1513.9,779.5 L1505.2,806.0 L1496.5,844.7 M1721.2,403.0 L1726.2,420.5 L1732.5,428.0 L1738.7,456.7 L1740.0,486.6 L1746.2,527.8 M1740.0,486.6 L1793.7,477.2 L1806.1,473.7 M1793.7,477.2 L1799.9,504.1 M1738.7,456.7 L1802.4,443.0 L1813.6,433.0 M1768.7,348.3 L1769.0,352.1 L1769.5,355.9 L1770.3,359.6 L1772.2,363.1 L1772.4,367.0 L1769.8,369.8 L1767.8,372.9 L1765.3,375.7 L1763.0,378.6 L1761.2,382.0 L1761.6,385.5 L1761.4,389.0 L1759.9,392.5 L1760.2,396.0 L1759.5,399.5 L1759.9,403.0 L1761.2,403.0 L1760.3,406.5 L1760.2,410.1 L1759.6,413.7 L1759.5,417.3 L1760.0,420.9 L1758.9,424.4 L1758.7,428.0 L1759.4,431.7 L1759.4,435.5 L1759.8,439.2 L1760.6,442.9 L1761.3,446.6 L1761.2,450.4 M1786.2,314.6 L1783.7,349.6 L1801.2,403.0 L1801.2,403.0 L1808.6,418.0 L1813.6,428.0 M1713.7,360.8 L1714.0,364.4 L1715.6,367.7 L1715.2,371.4 L1716.9,374.7 L1716.2,378.5 L1716.9,382.0 L1717.7,385.5 L1719.1,388.9 L1718.7,392.6 L1720.5,395.9 L1721.1,399.4 L1721.2,403.0 M1668.8,372.0 L1672.2,371.0 L1675.7,370.3 L1679.1,369.4 L1682.5,368.1 L1686.0,367.5 L1689.5,366.7 L1692.9,365.5 L1696.3,364.7 L1699.9,364.3 L1703.3,363.1 L1707.0,363.2 L1710.1,361.2 L1713.7,360.8 L1717.1,359.8 L1720.6,359.4 L1724.1,358.8 L1727.4,357.3 L1730.8,356.4 L1734.4,356.3 L1737.6,354.7 L1741.3,354.8 L1744.5,353.1 L1748.0,352.8 L1751.5,352.0 L1754.8,350.9 L1758.3,350.3 L1761.9,350.2 L1765.3,349.5 L1768.7,348.3 L1770.4,344.9 L1771.8,341.4 L1774.1,338.3 L1775.6,334.8 L1777.5,331.5 L1779.8,328.4 L1780.6,324.5 L1782.6,321.3 L1784.2,317.9 L1786.2,314.6 L1787.9,311.5 L1789.9,308.6 L1790.7,305.0 L1792.9,302.1 L1794.9,299.2 L1796.2,295.9 L1796.8,292.2 L1796.7,288.4 L1796.5,284.7 L1796.7,280.9 L1796.0,277.1 L1796.4,273.4 L1796.3,269.6 L1796.9,265.9 L1797.7,262.2 L1797.4,258.4 L1797.8,254.7 L1797.4,250.9 L1798.5,247.6 L1800.0,244.4 L1801.0,241.0 L1802.8,237.9 L1803.8,234.6 L1804.9,231.2 L1805.6,227.8 L1807.4,224.7 L1812.4,223.5 L1814.5,227.8 L1816.1,232.2 L1821.1,232.2 L1824.1,229.3 L1827.7,227.0 L1830.7,224.1 L1833.6,221.0 L1837.3,220.3 L1841.1,221.0 L1844.4,222.6 L1847.2,225.0 L1850.3,226.9 L1853.6,228.5 L1854.6,231.9 L1855.8,235.3 L1856.8,238.7 L1857.8,242.1 L1859.1,245.4 L1860.3,248.7 L1861.5,252.1 L1862.8,255.4 L1863.9,258.8 L1864.8,262.2 L1866.8,265.2 L1869.0,268.0 L1870.0,271.5 L1871.5,274.8 L1874.2,277.3 L1875.7,280.6 L1878.1,283.3 L1879.4,286.7 L1880.7,290.0 L1882.7,293.0 L1884.8,295.9 L1888.2,298.3 L1891.1,301.3 L1893.6,304.6 L1895.8,307.4 L1898.6,309.5 L1901.3,311.8 L1903.6,314.6 L1906.0,317.1 M241.0,910.9 L328.4,920.9 L324.2,929.6 L409.6,979.5 L452.0,1005.3 L488.0,1010.7 L526.7,1015.7 L557.9,1020.2 L559.9,1002.0 L619.1,1007.0 L621.6,1007.7 M767.2,812.2 L873.9,818.0 L870.9,903.4 M767.2,812.2 L760.2,890.9 L751.5,1011.2 L619.1,998.8 L621.6,1007.7 M621.6,1007.7 L624.9,1010.3 L627.9,1013.2 L629.6,1016.7 L631.7,1020.1 L633.6,1023.4 L635.3,1027.0 L638.4,1029.1 L641.7,1030.8 L645.3,1032.0 L648.2,1035.0 L650.0,1038.7 L652.4,1042.0 L655.4,1044.9 L657.8,1048.2 L660.3,1051.2 L663.5,1053.3 L666.9,1055.3 L669.8,1057.8 L672.0,1061.2 L675.3,1063.2 L677.8,1068.2 L679.1,1071.7 L680.3,1075.2 L681.2,1078.8 L682.3,1082.3 L684.0,1085.7 L683.7,1090.7 L682.8,1095.6 L684.0,1099.9 L686.5,1103.8 L687.8,1108.1 L690.2,1110.7 L692.8,1113.1 L695.3,1115.6 L697.3,1118.6 L700.3,1120.6 L703.4,1122.4 L705.9,1125.1 L708.6,1127.4 L711.7,1129.4 L714.9,1131.0 L717.8,1133.1 L720.5,1135.8 L724.4,1137.0 L727.2,1139.6 L730.3,1141.8 L734.6,1142.6 L739.0,1143.1 L742.1,1140.2 L745.1,1137.3 L747.2,1133.6 L750.2,1130.6 L751.9,1125.7 L752.7,1120.6 L755.3,1117.4 L757.6,1113.8 L760.2,1110.6 L764.3,1109.2 L768.6,1108.2 L772.7,1106.9 L776.3,1108.3 L780.2,1108.8 L783.9,1110.0 L787.7,1110.6 L791.2,1110.5 L794.7,1111.0 L798.2,1112.0 L801.7,1111.3 L805.2,1111.9 L808.2,1115.9 L810.2,1120.6 L812.5,1123.3 L814.7,1126.1 L817.3,1128.5 L820.6,1130.2 L822.7,1133.1 L825.2,1136.5 L828.2,1139.4 L830.8,1142.7 L833.9,1145.6 L834.6,1149.4 L836.3,1153.0 L836.8,1156.8 L837.6,1160.6 L839.9,1163.4 L841.6,1166.5 L843.1,1169.9 L845.5,1172.6 L847.6,1175.5 L849.6,1179.2 L851.7,1182.8 L852.9,1186.9 L855.1,1190.5 L857.3,1193.9 L859.7,1197.1 L863.1,1199.5 L865.1,1203.0 L867.6,1206.0 L870.1,1209.0 L867.6,1209.0 L870.5,1211.6 L873.9,1213.5 L876.4,1216.5 L876.2,1220.3 L877.7,1223.9 L877.5,1227.7 L877.6,1231.5 L879.2,1235.4 L881.5,1238.9 L883.6,1242.6 L885.1,1246.5 L886.4,1250.3 L888.4,1253.9 L890.0,1257.6 L891.3,1261.4 L894.9,1262.9 L898.1,1265.0 L901.0,1267.6 L904.3,1269.4 L907.6,1271.4 L910.7,1273.1 L914.4,1273.5 L917.4,1275.5 L920.7,1276.9 L924.0,1278.2 L927.5,1278.9 L931.4,1280.2 L935.4,1280.8 L939.6,1280.5 L943.4,1282.4 L947.5,1282.7 L950.7,1285.0 L953.9,1287.3 L957.5,1288.9 L961.0,1287.5 L964.0,1285.2 L967.5,1283.9 M870.9,903.4 L874.1,905.3 L877.2,907.2 L879.9,909.7 L882.6,912.1 L887.5,910.6 L892.6,909.6 L894.6,913.7 L897.8,917.0 L900.1,920.9 L903.7,921.2 L907.2,921.8 L910.5,923.5 L914.2,923.3 L917.6,924.6 L921.5,925.4 L925.6,924.8 L929.5,925.8 L933.5,925.7 L937.5,925.9 L940.6,928.8 L942.7,932.3 L945.0,935.8 L948.9,935.9 L952.4,934.0 L956.2,933.8 L960.0,933.3 L963.2,934.8 L966.4,936.4 L969.8,937.4 L972.7,939.4 L976.0,940.8 L980.2,939.7 L984.3,938.4 L988.5,937.1 L991.6,939.0 L995.1,940.3 L998.0,942.6 L1001.0,944.6 L1005.1,942.3 L1009.6,940.9 L1013.5,938.3 L1017.3,937.9 L1020.9,937.0 L1024.6,936.0 L1028.4,935.8 L1032.5,934.9 L1036.7,934.6 L1040.9,934.6 L1045.0,936.2 L1048.5,938.7 L1052.4,940.7 L1055.9,943.3 L1059.6,944.8 L1063.1,947.0 L1066.7,948.7 L1070.4,950.3 M1062.9,821.5 L1066.5,822.1 L1070.0,820.8 L1073.6,820.5 L1077.2,820.8 L1080.8,820.7 L1084.4,821.3 L1087.9,821.2 L1091.5,820.9 L1095.1,819.7 L1098.7,820.5 L1102.2,820.4 L1105.8,819.6 L1109.4,819.5 L1113.0,820.3 L1116.5,819.7 L1120.1,819.3 L1123.7,819.6 L1127.2,818.6 L1130.8,819.4 L1134.4,818.9 L1138.0,819.3 L1141.6,819.1 L1145.1,818.2 L1148.7,818.5 L1152.3,818.8 L1155.8,818.0 L1159.4,818.0 L1163.0,818.6 L1166.6,817.9 L1170.1,817.7 L1173.7,817.2 L1177.3,817.6 L1180.9,816.8 L1184.4,816.7 L1188.0,816.7 L1191.6,817.4 L1195.2,817.2 L1198.7,816.2 L1202.3,817.1 L1205.9,815.8 L1209.5,816.7 L1213.1,816.8 L1216.6,816.4 L1220.2,816.0 L1222.3,820.8 L1223.2,826.0 L1220.5,828.8 L1218.7,832.4 L1215.9,835.1 L1213.3,838.0 L1216.9,838.6 L1220.4,837.1 L1224.0,837.7 L1227.5,836.9 L1231.1,837.6 L1234.6,837.3 L1238.2,837.2 M1086.4,974.5 L1190.8,971.3 M1179.5,1060.7 L1183.1,1060.2 L1186.7,1059.7 L1190.3,1059.9 L1194.0,1059.8 L1197.6,1060.6 L1201.2,1059.5 L1204.8,1059.1 L1208.4,1058.9 L1212.1,1059.7 L1215.6,1058.5 L1219.3,1059.5 L1222.9,1058.4 L1226.5,1059.0 L1230.1,1058.6 L1233.7,1057.6 L1237.3,1057.9 L1241.0,1058.7 L1244.6,1057.3 L1248.2,1057.7 L1249.1,1061.2 L1249.9,1064.7 L1250.7,1068.2 L1251.9,1072.0 L1253.6,1075.5 L1254.3,1079.4 L1255.6,1083.2 L1256.9,1086.9 L1258.2,1090.6 L1260.6,1093.8 L1263.2,1096.9 M1219.5,880.9 L1294.4,876.7 L1386.8,869.2 L1464.0,858.4 L1464.0,858.4 L1474.0,857.2 L1496.5,844.7 M1294.4,876.7 L1296.9,888.4 L1295.2,930.8 L1294.4,1003.3 L1300.7,1055.7 L1302.7,1080.7 M1386.8,869.2 L1387.4,872.8 L1388.1,876.3 L1389.6,879.6 L1390.9,883.0 L1391.2,886.6 L1392.7,889.9 L1393.1,893.6 L1394.6,896.9 L1395.3,900.4 L1395.9,903.9 L1397.9,907.1 L1398.5,910.7 L1399.3,914.2 L1400.4,917.6 L1400.5,921.3 L1402.6,924.5 L1403.1,928.1 L1404.2,931.5 L1405.4,934.9 L1406.4,938.3 L1406.3,942.1 L1407.9,945.4 L1408.1,949.0 L1409.8,952.3 L1410.6,955.8 L1412.6,958.9 L1414.5,962.0 L1416.4,965.2 L1418.3,968.3 L1419.1,972.1 L1420.8,975.3 L1423.0,978.3 L1423.7,982.2 L1425.5,985.8 L1423.7,989.2 L1422.0,992.6 L1420.9,996.2 L1419.5,999.8 L1418.0,1003.3 L1418.4,1007.0 L1419.9,1010.3 L1421.4,1013.6 L1421.9,1017.2 L1423.0,1020.7 L1423.2,1024.8 L1424.2,1028.8 L1425.2,1032.7 L1425.7,1036.8 L1426.8,1040.7 M1339.4,1075.7 L1339.0,1070.7 L1338.1,1065.7 L1336.3,1062.2 L1334.7,1058.6 L1332.4,1055.4 L1330.6,1051.9 L1334.2,1051.9 L1337.7,1050.6 L1341.3,1051.2 L1344.9,1050.8 L1348.4,1050.0 L1352.0,1049.5 L1355.5,1048.5 L1359.1,1048.9 L1362.7,1048.7 L1366.3,1048.4 L1369.8,1047.2 L1373.3,1046.6 L1377.0,1046.9 L1380.5,1046.1 L1384.0,1045.6 L1387.6,1045.4 L1391.1,1044.3 L1394.8,1044.8 L1398.4,1044.5 L1401.8,1043.5 L1405.4,1043.2 L1409.0,1043.0 L1412.6,1042.8 L1416.2,1042.5 L1419.7,1041.7 L1423.2,1041.2 L1426.8,1040.7 L1428.8,1044.5 L1430.9,1048.2 L1433.0,1051.9 L1436.9,1051.7 L1440.8,1051.9 L1444.6,1051.1 L1448.5,1050.6 L1452.4,1050.7 L1456.2,1050.6 L1460.1,1050.4 L1464.0,1050.7 L1467.5,1050.1 L1471.1,1049.7 L1474.7,1049.4 L1478.3,1050.1 L1481.8,1049.4 L1485.4,1048.6 L1488.9,1048.7 L1492.5,1048.8 L1496.1,1048.0 L1499.7,1048.9 L1503.3,1048.5 L1506.8,1047.4 L1510.3,1046.9 L1514.0,1047.8 L1517.5,1047.4 L1521.0,1046.4 L1524.6,1046.5 L1528.2,1046.5 L1531.7,1045.6 L1535.3,1046.0 L1538.9,1045.7 L1542.4,1047.1 L1545.9,1048.7 L1549.2,1050.7 L1552.8,1051.8 L1556.4,1053.2 L1557.6,1049.4 L1557.6,1045.4 L1557.6,1041.4 L1559.0,1037.5 L1559.6,1033.6 L1560.0,1029.7 L1560.2,1025.7 M1431.8,862.2 L1431.7,858.4 L1431.9,854.7 L1431.8,850.9 L1434.9,848.1 L1437.7,844.9 L1439.9,841.3 L1443.0,838.5 L1446.4,837.2 L1450.1,837.2 L1453.6,836.3 L1457.0,835.3 L1460.7,835.0 L1464.0,833.5 L1464.0,831.0 L1464.4,834.5 L1465.3,837.9 L1465.7,841.4 L1466.6,844.9 L1466.1,848.5 L1467.1,851.9 L1467.5,855.4 L1468.5,858.8 L1467.9,862.5 L1469.0,865.9 M1496.5,844.7 L1543.9,839.2 L1550.2,843.5 L1558.9,852.2 L1598.9,846.0 L1643.8,879.7 M1469.0,865.9 L1471.3,868.6 L1473.6,871.3 L1476.8,873.1 L1479.3,875.6 L1481.5,878.4 L1484.4,881.1 L1486.4,884.5 L1488.9,887.5 L1491.3,890.6 L1494.0,893.4 L1496.9,896.1 L1500.2,898.2 L1503.2,900.7 L1505.6,903.8 L1509.0,905.9 L1512.2,908.5 L1515.9,910.4 L1518.9,913.2 L1522.2,915.6 L1525.2,918.4 L1527.5,921.3 L1529.9,924.2 L1532.4,926.9 L1534.5,930.0 L1536.4,933.3 L1539.5,935.5 L1542.6,937.7 L1545.8,939.8 L1548.9,942.1 L1549.7,945.8 L1550.4,949.6 L1551.4,953.3 L1554.5,956.1 L1557.6,958.9 L1561.4,960.8 L1563.4,964.8 L1564.7,969.2 L1566.4,973.3 M597.9,1123.1 L615.4,1209.0 L651.6,1392.5" fill="none" stroke="#555" stroke-width="1" stroke-linejoin="round"/>
<path d="M239.3,159.8 L239.6,162.8 L239.9,165.8 L239.4,168.8 L240.2,171.8 L239.8,174.8 L241.0,178.1 L242.4,181.4 L243.5,184.8 L243.1,188.1 L241.6,191.0 L241.3,194.3 L239.8,197.3 L241.9,199.7 L244.3,201.9 L246.0,204.7 L244.2,207.5 L241.7,209.8 L239.2,211.9 L237.3,214.7 L237.2,218.3 L236.6,221.7 L235.6,225.2 L234.8,228.6 L234.8,232.2 L231.8,233.6 L228.9,235.3 L225.5,236.2 L223.0,238.7 L219.8,239.7 L216.1,238.9 L212.2,239.2 L208.5,238.5 L209.0,234.9 L210.0,231.5 L211.1,228.1 L212.3,224.7 L215.6,223.8 L218.4,221.8 L221.7,221.0 L224.8,219.7 L226.4,216.8 L227.7,213.6 L229.4,210.7 L230.3,207.5 L232.3,204.7 L229.4,202.6 L227.1,200.0 L224.8,197.3 L222.3,194.8 L219.8,191.8 L216.9,190.7 L213.8,190.1 L210.7,189.3 L207.8,188.1 L204.8,187.3 L201.8,185.9 L198.7,184.5 L196.0,182.5 L192.9,181.1 L189.8,179.8 L187.2,177.9 L185.1,175.5 L182.6,173.5 L180.5,171.1 L177.8,169.3 L176.0,172.7 L174.9,176.4 L173.1,179.8 L172.9,183.4 L174.2,186.8 L174.2,190.3 L174.2,193.8 L174.8,197.3 L175.6,200.7 L175.6,204.3 L176.5,207.7 L176.2,211.2 L176.8,214.7 L176.7,217.7 L177.1,220.7 L177.0,223.7 L177.8,226.7 L177.8,229.7 L180.5,233.0 L183.6,236.0 L179.8,237.7 L176.1,239.7 L177.7,242.6 L179.5,245.5 L181.1,248.4 L178.6,251.0 L176.3,253.7 L174.5,256.9 L172.3,259.7 L171.1,264.7 M171.1,264.7 L170.6,267.9 L170.1,271.2 L168.8,274.3 L168.7,277.6 L167.5,280.7 L167.0,283.9 L166.1,287.1 L165.6,290.6 L164.0,293.8 L163.5,297.3 L162.0,300.5 L161.3,303.9 L159.8,307.1 L159.0,310.4 L157.4,313.4 L155.7,316.3 L155.2,319.8 L153.9,322.8 L152.2,325.8 L150.6,328.8 L149.8,332.1 L148.5,335.2 L147.4,338.4 L145.6,341.3 L145.4,344.8 L143.2,347.6 L142.6,350.9 L141.5,354.1 L139.9,357.1 L138.9,360.1 L137.2,362.9 L135.3,365.5 L134.5,368.6 L132.7,371.3 L131.2,374.1 L129.9,377.0 L128.0,379.6 L125.9,382.0 L124.3,384.8 L122.3,387.3 L119.9,389.5 L118.2,392.4 L115.7,394.8 L114.0,397.7 L112.1,400.4 L109.9,403.0 M1207.0,305.9 L1208.1,302.7 L1209.1,299.5 L1210.9,296.6 L1211.5,293.2 L1213.3,290.2 L1214.5,287.1 L1217.2,285.5 L1219.7,283.7 L1222.7,282.7 L1225.2,280.7 L1228.2,279.7 L1230.1,277.0 L1231.7,274.0 L1233.7,271.4 L1236.0,268.9 L1238.4,266.5 L1239.7,263.3 L1242.0,260.9 L1245.0,260.0 L1248.2,259.7 L1251.9,261.7 L1255.7,263.4 L1258.5,264.9 L1261.7,265.5 L1264.7,266.3 L1267.5,267.9 L1270.7,268.4 L1273.6,267.1 L1276.8,267.3 L1279.6,265.9 L1282.6,265.0 L1285.7,264.7 L1289.1,264.6 L1292.4,265.3 L1295.7,265.9 L1297.3,268.6 L1299.8,270.7 L1301.2,273.5 L1303.2,275.9 L1304.6,278.7 L1306.3,281.3 L1307.6,284.1 L1309.7,286.6 L1310.7,289.6 L1313.5,291.4 L1315.9,293.7 L1318.0,296.4 L1320.6,298.4 L1323.7,298.0 L1326.8,297.6 L1330.0,297.6 L1333.1,297.1 L1336.2,296.6 L1339.4,296.9 L1342.5,296.5 L1345.6,295.9 L1345.4,299.0 L1344.5,301.9 L1344.1,304.9 L1343.2,307.8 L1343.1,310.9 L1345.2,313.4 L1347.9,315.3 L1349.6,318.2 L1352.6,319.7 L1354.7,322.2 L1356.9,324.6 L1356.1,327.5 L1356.3,330.7 L1355.4,333.6 L1355.4,336.7 L1354.4,339.6 L1357.7,340.6 L1361.0,341.6 L1364.4,342.1 L1364.3,345.9 L1364.4,349.6 L1367.0,352.4 L1370.3,354.4 L1373.1,357.1 L1369.3,358.1 L1365.6,359.6 L1362.1,359.5 L1358.6,359.5 L1355.1,359.7 L1351.6,359.2 L1348.1,359.6 L1347.8,355.7 L1346.4,352.1 L1345.6,348.3 L1342.4,348.9 L1339.5,350.4 L1336.2,350.4 L1333.1,351.3 L1329.8,351.7 L1326.8,352.7 L1323.8,354.1 L1320.6,354.6 L1317.9,356.1 L1314.9,357.2 L1312.5,359.3 L1309.4,360.2 L1306.8,362.0 L1304.0,363.4 L1301.2,364.9 L1298.2,365.8 L1294.9,365.6 L1291.5,366.5 L1288.2,366.5 L1284.9,366.4 L1281.5,365.9 L1278.2,366.5 L1275.4,364.9 L1273.2,362.6 L1270.7,360.6 L1268.5,358.3 L1265.9,356.4 L1263.5,354.4 L1260.5,353.0 L1258.2,350.8 L1255.2,352.2 L1252.3,353.5 L1249.0,354.2 L1246.0,355.3 L1243.2,357.1 L1243.9,354.1 L1245.0,351.2 L1246.1,348.4 L1247.2,345.6 L1248.5,342.8 L1249.7,340.0 L1250.7,337.1 L1253.0,335.2 L1255.4,333.3 L1258.1,332.0 L1260.6,330.3 L1263.2,328.8 L1265.7,327.1 L1262.7,326.6 L1259.7,326.9 L1256.7,327.1 L1253.7,327.0 L1250.7,327.1 L1248.1,328.9 L1246.0,331.5 L1242.9,332.7 L1240.5,334.8 L1238.2,337.1 L1235.4,338.7 L1233.0,340.8 L1230.8,343.2 L1228.3,345.2 L1225.7,347.1 L1223.1,348.9 L1220.1,349.7 L1217.6,351.7 L1214.9,353.1 L1212.0,354.4 L1209.3,355.8 L1206.4,357.0 L1203.8,358.7 L1200.8,359.6 L1198.7,362.1 L1196.1,363.9 L1193.6,365.9 L1190.9,367.6 L1188.3,369.5 L1184.8,370.1 L1181.3,369.1 L1177.8,369.4 L1174.3,369.9 L1170.8,369.5 L1171.5,366.2 L1172.6,363.0 L1173.6,359.7 L1174.4,356.4 L1175.8,353.3 L1172.4,353.3 L1169.1,353.6 L1165.8,354.6 L1162.8,355.9 L1159.8,357.1 L1157.0,358.8 L1154.0,360.0 L1150.9,361.0 L1147.9,362.3 L1144.6,362.9 L1142.0,364.9 L1139.0,366.3 L1135.8,367.0 L1132.0,367.1 L1128.3,368.3 L1130.8,367.0 L1133.1,364.9 L1135.1,362.5 L1137.8,360.7 L1139.6,358.2 L1142.4,356.5 L1145.0,354.8 L1147.2,352.6 L1149.4,350.3 L1151.4,347.8 L1153.8,345.8 L1155.9,343.5 L1158.7,341.9 L1160.8,339.6 L1163.3,337.4 L1166.0,335.5 L1168.2,332.9 L1170.6,330.6 L1173.5,328.9 L1176.2,326.9 L1178.6,324.6 L1180.8,322.1 L1183.6,320.8 L1186.2,319.2 L1188.8,317.5 L1191.1,315.3 L1193.9,314.0 L1196.4,312.2 L1198.8,310.3 L1201.5,308.7 L1204.2,307.3 L1207.0,305.9 M1215.8,312.1 L1218.1,309.8 L1220.5,307.4 L1223.3,305.7 L1225.7,303.4 L1228.6,301.1 L1232.0,299.7 L1235.0,297.6 L1238.2,295.9 L1236.6,298.5 L1234.2,300.4 L1232.6,303.0 L1230.3,304.9 L1228.2,307.1 L1225.3,308.8 L1222.2,310.1 L1218.9,310.9 L1215.8,312.1 M109.9,403.0 L110.4,406.1 L110.9,409.2 L110.6,412.4 L111.1,415.5 L110.3,419.0 L108.6,422.2 L107.4,425.5 L107.6,428.5 L107.9,431.5 L107.4,434.5 L108.0,437.5 L107.4,440.5 L107.6,443.7 L108.1,446.9 L108.1,450.1 L107.8,453.3 L107.4,456.5 L108.3,459.7 L107.9,462.9 L107.1,465.9 L105.5,468.6 L104.0,471.3 L103.2,474.3 L102.3,477.2 L100.5,479.8 L99.9,482.9 L99.2,486.4 L97.0,489.4 L96.2,492.9 L93.9,495.6 L91.5,498.2 L89.0,500.7 L86.4,503.1 L83.7,505.4 L82.7,509.7 L82.4,514.1 L84.3,516.7 L85.5,519.7 L87.0,522.6 L88.7,525.3 L89.9,528.7 L90.7,532.2 L92.4,535.5 L92.9,539.1 L93.3,542.9 L92.9,546.6 L92.4,550.3 L90.0,553.9 L87.9,557.8 L87.7,560.9 L87.6,564.1 L86.9,567.1 L86.8,570.3 L86.7,573.4 L86.2,576.5 L87.1,579.4 L88.5,582.1 L90.2,584.7 L91.1,587.6 L92.4,590.3 L93.6,593.2 L94.5,596.3 L95.9,599.1 L97.6,601.8 L98.1,605.0 L99.9,607.7 L101.2,610.9 L101.7,614.3 L102.4,617.7 L100.3,620.0 L98.6,622.7 L102.0,624.9 L104.9,627.7 L107.0,630.6 L109.5,633.2 L111.1,636.5 L110.3,639.9 L109.5,643.3 L109.1,646.8 L108.6,650.2 L108.0,653.3 L108.5,656.5 L107.8,659.6 L107.9,662.7 L109.3,666.1 L110.8,669.4 L112.4,672.7 L115.8,674.7 L118.9,677.2 L122.4,678.9 L122.5,682.7 L123.6,686.4 L120.9,688.9 L118.0,691.3 L115.4,693.9 L115.6,697.7 L114.5,701.3 L114.4,705.1 L115.6,708.1 L116.5,711.2 L118.0,714.0 L120.0,716.7 L121.2,719.6 L122.4,722.6 L123.5,726.1 L125.4,729.3 L126.2,732.9 L127.4,736.3 L129.4,738.8 L131.1,741.5 L132.9,744.2 L133.8,747.3 L136.1,749.7 L137.4,752.6 L137.5,755.9 L137.2,759.3 L136.9,762.6 L138.8,765.4 L141.7,767.2 L143.6,770.0 L142.9,773.0 L142.1,776.0 L140.9,778.9 L140.3,781.9 L139.9,785.0 L138.0,788.6 L136.9,792.5 L139.7,794.8 L142.3,797.4 L144.9,800.0 L147.9,800.8 L150.5,802.4 L153.4,803.5 L156.6,803.6 L159.5,804.6 L162.3,806.0 M111.1,636.5 L112.2,632.7 L113.2,628.8 L114.9,625.2 L118.7,623.5 L122.4,621.5 L124.1,624.4 L124.9,627.7 L128.2,629.0 L131.6,630.1 L134.9,631.5 L138.0,632.0 L140.9,633.5 L144.0,634.0 L146.8,635.4 L149.8,636.5 M113.6,635.2 L114.2,638.5 L114.9,641.8 L114.9,645.2 L116.6,647.8 L119.1,649.9 L120.5,652.7 L122.4,655.2 M458.3,539.1 L461.3,540.1 L464.3,541.2 L467.0,542.8 L468.1,546.2 L470.0,549.3 L470.8,552.8 L474.6,552.8 L478.3,552.8 L478.5,556.1 L478.8,559.5 L478.3,562.8 L482.1,561.6 L485.8,560.3 L487.4,563.9 L488.0,567.8 L489.8,570.3 L491.9,572.5 L493.2,575.3 L491.8,579.3 L489.5,582.8 L486.5,584.1 L483.4,584.9 L480.7,586.9 L477.6,588.1 L474.5,589.0 L472.1,586.7 L469.9,584.2 L467.1,582.4 L464.5,580.3 L463.9,577.3 L464.1,574.2 L462.5,571.4 L462.9,568.2 L462.0,565.3 L459.1,564.3 L456.5,562.8 L456.3,559.4 L456.6,556.0 L457.0,552.6 L457.9,549.3 L457.4,545.8 L458.1,542.5 L458.3,539.1 M1561.4,490.4 L1559.7,487.5 L1558.0,484.6 L1557.1,481.3 L1554.9,478.6 L1553.9,475.4 L1556.4,472.5 L1558.8,469.5 L1561.4,466.7 L1564.6,465.5 L1568.1,465.3 L1571.3,464.0 L1574.7,463.8 L1578.0,462.6 L1581.4,462.4 L1584.8,462.2 L1588.1,462.9 L1591.4,463.7 L1594.8,463.2 L1598.1,463.6 L1601.4,464.2 L1604.7,463.7 L1608.1,463.5 L1611.4,462.4 L1614.6,461.5 L1618.1,461.6 L1621.3,460.4 L1622.7,457.6 L1625.4,455.7 L1626.7,452.7 L1628.8,450.4 L1631.0,448.2 L1633.5,446.3 L1636.2,444.7 L1638.8,443.0 L1638.5,439.8 L1637.2,436.8 L1637.0,433.6 L1636.3,430.5 L1634.4,427.9 L1632.0,425.6 L1630.1,423.0 L1633.0,421.4 L1635.6,419.2 L1638.8,418.0 L1639.3,414.8 L1640.5,411.9 L1642.0,409.1 L1642.7,406.0 L1643.8,403.0 M162.3,806.0 L165.5,806.7 L168.7,807.4 L171.6,808.9 L174.8,809.7 L177.1,812.2 L178.5,815.4 L180.6,818.1 L182.3,821.0 L185.2,823.1 L187.3,826.0 L189.8,828.5 L193.0,829.0 L195.8,830.4 L199.0,831.0 L202.0,832.0 L204.8,833.5 L205.6,836.6 L205.9,839.8 L207.5,842.8 L207.8,846.0 L211.1,846.9 L214.1,848.6 L217.3,849.7 L218.9,852.5 L221.2,854.8 L223.4,857.1 L224.9,860.1 L227.3,862.2 L229.5,864.6 L230.4,867.9 L232.7,870.3 L234.6,872.9 L236.0,875.9 L237.1,878.9 L237.5,882.1 L237.5,885.3 L238.5,888.4 L238.6,891.6 L237.8,894.6 L237.4,897.8 L237.3,900.9 L238.7,904.2 L239.7,907.6 L241.0,910.9 M1359.5,388.1 L1356.2,383.1 L1352.8,382.2 L1349.4,381.3 L1346.2,379.8 L1342.9,379.4 L1339.6,379.8 L1336.3,379.0 L1332.9,381.9 L1329.6,384.8 L1326.3,385.5 L1323.1,386.5 L1319.7,386.5 L1315.5,387.7 L1311.4,388.9 L1310.2,392.9 L1308.0,396.4 L1303.1,396.4 L1301.9,399.8 L1301.1,403.2 L1299.8,406.5 L1298.1,409.7 L1296.9,413.1 L1295.2,416.2 L1294.8,419.8 L1293.1,423.0 L1292.1,426.1 L1290.3,428.9 L1288.6,431.7 L1287.7,434.9 L1286.5,437.9 L1285.4,440.9 L1283.5,443.5 L1283.3,446.9 L1281.5,449.6 L1280.6,452.8 L1280.9,456.2 L1280.6,459.6 L1279.8,462.8 L1279.4,466.2 L1278.4,469.5 L1277.0,472.7 L1276.5,476.1 L1276.6,480.0 L1275.9,483.8 L1275.7,487.7 L1275.0,491.0 L1274.9,494.4 L1274.1,497.7 L1274.2,501.1 L1273.2,504.3 L1273.3,508.6 L1272.3,512.7 L1273.5,516.5 L1273.8,520.5 L1274.8,524.3 L1276.0,527.6 L1277.3,530.8 L1278.2,534.2 L1278.4,537.5 L1278.8,540.9 L1279.0,544.2 L1279.2,548.4 L1279.0,552.5 L1280.0,556.0 L1281.5,559.3 L1283.1,562.5 L1285.0,565.7 L1286.4,569.1 L1288.1,572.4 L1289.7,575.8 L1291.4,579.1 L1294.6,580.3 L1298.1,580.7 L1302.4,579.3 L1306.4,577.4 L1309.0,575.5 L1312.2,574.6 L1314.7,572.4 L1316.0,569.4 L1317.9,566.8 L1319.7,564.1 L1321.1,560.9 L1321.5,557.4 L1323.0,554.2 L1324.2,550.9 L1325.0,547.4 L1326.9,544.3 L1328.0,540.9 L1328.5,537.9 L1328.4,534.9 L1328.9,531.9 L1328.4,528.9 L1328.8,525.9 L1328.4,522.6 L1327.7,519.3 L1327.0,516.0 L1326.3,512.7 L1324.6,509.4 L1323.0,506.0 L1321.7,502.5 L1320.1,499.1 L1318.0,496.0 L1315.9,492.7 L1313.9,489.4 L1314.9,486.1 L1315.0,482.6 L1316.3,479.4 L1314.9,475.2 L1313.0,471.1 L1314.8,467.9 L1316.9,464.8 L1318.0,461.2 L1319.2,457.4 L1319.4,453.4 L1320.5,449.6 L1319.5,446.3 L1318.8,442.9 L1321.1,439.7 L1323.0,436.3 L1324.8,433.7 L1327.4,431.8 L1329.6,429.6 L1331.5,426.1 L1333.7,422.7 L1336.3,419.7 L1337.1,423.0 L1336.6,426.4 L1337.7,429.6 L1337.9,433.0 L1337.9,436.3 L1340.3,433.7 L1342.9,431.3 L1343.5,428.0 L1342.8,424.6 L1343.4,421.3 L1343.7,418.0 L1344.6,413.0 L1347.9,411.0 L1351.2,408.9 L1354.2,408.5 L1357.0,407.2 L1354.3,404.8 L1351.2,403.1 L1350.8,399.6 L1349.6,396.4 L1351.9,393.7 L1354.5,391.4 L1359.5,388.1 M1264.0,452.9 L1263.2,447.9 L1264.7,444.5 L1266.2,441.0 L1268.2,437.9 L1270.5,435.2 L1272.2,432.0 L1274.8,429.6 L1276.5,426.9 L1278.0,424.0 L1279.8,421.3 L1281.0,418.1 L1283.2,415.5 L1284.3,412.3 L1286.5,409.7 L1287.5,406.3 L1288.2,402.9 L1289.8,399.7 L1290.1,395.9 L1291.4,392.3 L1295.3,391.9 L1299.2,392.1 L1303.1,391.4 L1303.6,395.5 L1303.1,399.7 L1301.7,404.0 L1299.7,408.0 L1297.9,410.7 L1296.0,413.3 L1294.8,416.3 L1293.0,420.4 L1291.4,424.6 L1290.4,428.0 L1288.7,431.1 L1288.1,434.6 L1286.0,438.3 L1283.1,441.3 L1280.0,442.1 L1277.4,444.0 L1274.6,445.4 L1271.5,446.2 L1269.9,449.2 L1267.8,451.9 L1265.7,454.5 L1264.0,452.9 M1359.5,388.1 L1362.9,389.0 L1366.3,389.9 L1369.5,391.4 L1372.7,393.2 L1376.3,394.3 L1379.4,396.4 L1382.1,398.1 L1385.0,399.6 L1387.7,401.4 L1390.8,401.7 L1393.5,403.1 L1396.6,403.3 L1399.4,404.7 L1401.9,407.1 L1404.3,409.7 L1405.6,412.9 L1406.0,416.3 L1403.5,418.0 L1406.8,421.0 L1409.3,424.6 L1410.0,428.5 L1410.0,432.5 L1411.0,436.3 L1411.5,440.2 L1411.3,444.0 L1411.0,447.9 L1406.0,451.2 L1405.3,454.5 L1404.3,457.8 L1404.3,461.2 L1401.5,462.8 L1398.8,464.6 L1396.0,466.2 L1395.0,470.3 L1395.2,474.5 L1397.7,479.4 L1401.6,479.7 L1405.2,481.1 L1407.5,478.6 L1408.9,475.4 L1411.0,472.8 L1412.3,468.5 L1414.3,464.5 L1417.0,462.5 L1420.0,461.0 L1423.2,459.9 L1425.9,457.9 L1429.4,459.2 L1432.6,461.2 L1434.2,464.5 L1435.8,467.9 L1437.6,471.1 L1438.7,474.4 L1439.5,477.8 L1441.0,480.9 L1442.0,484.2 L1442.5,487.7 L1444.1,490.9 L1444.8,494.4 L1446.3,497.6 L1447.5,501.0 L1448.0,504.9 L1448.0,508.8 L1448.4,512.7 L1446.3,515.2 L1444.2,517.6 L1441.4,519.5 L1438.4,521.0 L1437.2,524.8 L1436.5,528.7 L1435.9,532.6 L1433.6,535.3 L1430.9,537.6 L1430.0,541.7 L1429.3,545.9 L1427.6,550.0 L1425.9,554.2 L1424.1,556.8 L1422.9,559.6 L1421.8,562.5 M1438.4,521.0 L1441.2,519.6 L1444.2,518.5 L1446.2,521.2 L1447.5,524.3 L1452.5,525.9 L1451.7,531.7 L1448.5,531.9 L1445.4,532.9 L1442.2,532.7 L1439.1,533.2 L1435.9,533.4 M1430.9,545.9 L1435.1,546.5 L1439.2,547.5 L1443.3,546.3 L1447.5,545.9 L1452.5,549.2 L1453.1,545.9 L1453.3,542.5 L1456.1,539.9 L1459.5,538.1 L1462.5,535.9 L1465.2,534.1 L1467.8,532.1 L1470.8,530.9 L1473.0,527.6 L1474.7,524.0 L1477.4,521.0 L1479.4,518.6 L1481.2,516.1 L1483.3,513.8 L1485.7,511.8 L1489.0,510.9 L1492.5,510.5 L1495.7,509.3 L1499.0,509.0 L1502.4,509.3 L1505.7,510.0 L1509.0,510.6 L1512.3,510.2 L1515.4,510.3 L1518.5,510.1 L1521.6,510.8 L1524.7,510.2 L1521.0,510.2 L1517.6,508.6 L1513.9,508.5 L1515.9,505.3 L1518.0,502.2 L1520.6,499.4 L1523.8,498.0 L1527.2,497.2 L1530.7,496.8 L1533.8,495.0 L1537.2,494.4 L1540.7,494.0 L1544.1,493.6 L1547.6,492.7 L1551.0,492.5 L1554.5,491.9 L1550.4,492.3 L1546.4,491.6 L1549.4,490.8 L1552.4,490.8 L1555.4,491.1 L1558.4,490.6 L1561.4,490.4 M1421.8,562.5 L1425.6,563.1 L1429.3,564.1 L1432.3,565.4 L1434.7,567.6 L1437.6,569.1 L1441.8,568.6 L1445.9,569.1 L1450.0,570.8 L1454.2,572.4 L1458.3,570.6 L1462.5,569.1 L1465.7,567.8 L1469.1,567.5 L1472.3,566.1 L1475.8,565.7 L1479.1,565.0 L1481.2,562.0 L1483.7,559.3 L1486.5,556.8 L1489.0,554.2 L1491.7,552.9 L1493.7,550.5 L1496.3,548.9 L1499.1,547.7 L1501.8,546.3 L1504.0,544.2 L1506.7,542.6 L1509.3,540.8 L1512.3,539.7 L1514.4,537.1 L1517.3,535.9 L1520.5,534.2 L1523.0,531.5 L1525.8,529.3 L1528.9,527.6 L1531.5,525.2 L1534.6,523.3 L1537.8,521.7 L1540.5,519.3 L1542.6,516.8 L1545.2,514.9 L1547.6,512.8 L1549.7,510.3 L1552.2,508.3 L1554.5,506.0 L1548.9,507.9 L1550.3,505.1 L1552.0,502.6 L1554.0,500.2 L1556.2,498.0 L1557.8,495.3 L1559.4,492.8 L1561.4,490.4 M1448.4,502.7 L1450.9,500.0 L1453.5,497.4 L1456.5,495.3 L1459.1,492.7 L1461.0,489.9 L1463.7,487.8 L1465.9,485.2 L1468.3,482.8 L1468.2,479.4 L1469.1,476.1 L1468.3,472.8 L1466.9,469.6 L1466.5,466.1 L1465.8,462.8 L1464.2,459.7 L1463.1,456.4 L1462.5,452.9 L1463.1,449.9 L1464.2,447.0 L1464.0,443.8 L1464.8,440.8 L1465.8,437.9 L1467.8,435.5 L1470.0,433.3 L1471.5,430.5 L1473.3,428.0 L1472.7,423.9 L1472.4,419.7 L1471.3,415.3 L1469.1,411.4 L1466.5,409.5 L1465.0,406.6 L1462.5,404.7 L1459.5,402.9 L1456.7,400.6 L1460.2,399.6 L1463.8,399.0 L1467.4,398.9 L1469.3,402.6 L1470.8,406.4 L1473.4,408.4 L1476.5,409.4 L1479.1,411.4 L1477.4,416.3 L1479.8,418.1 L1482.4,419.7 L1483.1,422.6 L1484.1,425.5 L1486.4,422.9 L1489.0,420.5 L1492.3,421.8 L1495.7,423.0 L1499.1,423.1 L1502.4,423.8 L1505.7,424.6 L1508.9,425.9 L1512.3,426.3 L1512.6,422.1 L1513.1,418.0 L1510.6,413.0 L1515.6,409.7 L1519.0,410.3 L1522.2,411.4 L1518.9,408.0 L1516.8,405.2 L1514.5,402.5 L1512.3,399.7 L1510.4,397.1 L1509.3,394.0 L1507.3,391.4 L1505.0,388.8 L1502.3,386.5 L1499.9,384.5 L1498.0,382.0 L1495.7,379.8 L1493.5,377.6 L1491.5,375.1 L1489.0,373.2 L1487.0,370.8 L1484.4,368.9 L1482.4,366.5 L1479.1,365.7 L1475.7,366.6 L1472.4,366.0 L1469.1,365.7 L1465.8,365.4 L1462.4,366.1 L1459.1,365.7 L1455.8,365.7 L1450.8,363.2 L1447.7,363.8 L1444.7,363.0 L1441.6,362.9 L1438.5,363.1 L1435.4,362.7 L1432.4,363.4 L1429.3,363.2 L1426.0,363.3 L1422.6,363.8 L1419.3,364.1 L1416.0,364.6 L1412.7,364.9 L1409.4,364.3 L1406.0,364.0 L1402.7,364.4 L1399.4,364.0 L1396.0,364.0 L1392.8,364.4 L1389.7,363.5 L1386.5,363.4 L1383.4,362.9 L1380.2,362.9 L1377.0,363.2 L1374.7,360.0 L1372.8,356.6 L1367.8,357.4 L1362.8,359.9 L1362.3,356.6 L1362.2,353.2 L1361.0,350.0 L1361.2,346.6 L1363.7,343.3 L1366.2,340.0 L1362.8,340.0 L1359.5,339.6 L1356.2,339.2 L1352.9,338.3 L1354.0,334.2 L1354.5,330.0 M1406.0,379.0 L1408.8,377.6 L1411.6,376.1 L1414.8,375.4 L1417.6,374.0 L1420.6,374.9 L1423.1,376.8 L1425.9,378.2 L1428.7,376.2 L1431.5,374.0 L1434.7,372.6 L1437.6,370.7 L1441.7,369.7 L1445.9,369.9 L1448.7,371.5 L1451.7,372.7 L1454.2,374.8 L1455.8,379.8 L1454.0,383.1 L1451.5,385.9 L1449.2,388.9 L1445.9,387.7 L1442.5,387.3 L1439.0,386.6 L1435.8,385.3 L1432.6,383.7 L1429.4,382.2 L1425.9,381.5 L1422.6,381.0 L1419.3,380.8 L1416.0,379.7 L1412.6,380.4 L1409.4,379.0 L1406.0,379.0 M1384.4,373.2 L1387.7,372.7 L1391.0,372.2 L1394.4,372.3 L1395.5,375.3 L1396.9,378.2 L1393.3,379.0 L1389.7,378.7 L1386.1,379.0 L1385.1,376.1 L1384.4,373.2 M1553.9,475.4 L1550.6,476.4 L1547.3,477.5 L1543.9,477.9 L1540.8,477.1 L1537.5,477.2 L1534.5,476.0 L1531.4,475.4 L1531.2,472.1 L1530.9,468.7 L1531.4,465.4 L1533.5,463.1 L1535.3,460.4 L1537.8,458.4 L1539.6,455.8 L1541.8,453.5 L1544.2,451.5 L1546.4,449.2 L1549.4,448.5 L1551.9,446.6 L1554.8,445.6 L1557.8,445.0 L1560.8,444.3 L1563.4,442.8 L1566.2,441.5 L1569.3,441.1 L1571.7,439.0 L1574.9,438.8 L1577.5,437.1 L1580.2,435.8 L1583.1,434.7 L1586.0,433.9 L1588.9,433.0 L1591.8,433.9 L1595.0,433.6 L1597.9,434.6 L1600.9,435.2 L1603.9,435.5 L1607.1,433.7 L1610.5,432.2 L1613.8,430.5 L1611.0,428.4 L1608.9,425.5 L1606.0,426.5 L1603.0,426.8 L1599.9,426.8 L1596.9,427.6 L1593.9,428.0 L1596.7,426.7 L1599.6,426.0 L1602.4,424.7 L1605.2,423.5 L1608.2,423.0 L1611.0,421.8 L1613.8,420.5 L1616.4,418.6 L1619.4,417.2 L1622.1,415.5 L1625.1,414.2 L1627.8,412.4 L1630.3,410.3 L1633.5,409.3 L1635.8,406.8 L1638.8,405.5" fill="none" stroke="#4d4d4d" stroke-width="1.2" stroke-linejoin="round"/>
<path d="M1906.0,317.1 L1904.0,316.2 L1901.7,318.0 L1902.4,321.3 L1899.8,323.0 L1904.0,329.0 L1900.6,326.4 L1895.9,326.7 L1898.4,328.2 L1896.5,330.3 L1895.7,332.8 L1893.7,334.5 L1893.4,340.2 L1892.0,336.7 L1888.8,335.6 L1890.2,338.7 L1889.7,341.7 L1886.4,338.2 L1884.7,340.4 L1884.6,345.4 L1884.0,343.7 L1883.4,347.5 L1881.9,345.3 L1879.1,346.1 L1875.7,342.9 L1876.3,346.1 L1873.8,347.3 L1871.3,348.7 L1868.3,348.1 L1865.8,349.4 L1862.9,348.3 L1860.0,349.3 L1857.7,354.7 L1857.1,349.1 L1854.2,349.4 L1851.6,352.5 L1854.6,352.4 L1850.6,353.8 L1854.1,355.1 L1853.6,357.9 L1856.2,361.4 L1852.9,360.7 L1850.8,363.1 L1850.8,366.0 L1848.7,367.7 L1846.1,368.7 L1843.9,370.1 L1842.3,372.7 L1839.2,372.7 L1837.3,376.4 L1836.9,374.4 L1834.4,374.4 L1831.6,373.0 L1829.3,374.3 L1829.6,376.6 L1826.9,376.2 L1826.6,379.2 L1826.9,382.5 L1824.3,384.3 L1826.9,388.7 L1824.9,387.6 L1824.8,390.9 L1822.1,389.9 L1826.5,395.0 L1823.0,393.3 L1821.0,395.9 L1820.5,398.7 L1819.2,401.3 L1822.5,404.2 L1818.3,404.0 L1813.9,406.7 L1818.5,406.9 L1817.2,409.5 L1817.6,412.5 L1817.5,415.6 L1815.5,417.7 L1815.0,420.5 L1812.7,422.5 L1809.6,425.2 L1813.4,425.0 L1814.0,427.4 L1808.2,430.6 L1812.0,430.1 L1813.5,432.5 L1816.2,434.5 L1819.0,436.3 L1821.0,439.1 M1821.0,439.1 L1824.3,440.0 L1822.3,442.5 L1819.1,443.6 L1817.6,446.6 L1816.3,449.6 L1814.6,452.3 L1812.7,454.9 L1814.9,457.7 L1817.6,459.9 L1821.0,460.6 L1824.3,461.6 L1825.2,464.4 L1828.2,465.6 L1829.3,468.2 L1831.0,471.5 L1834.2,473.2 L1837.0,474.2 L1839.2,476.2 L1843.0,473.4 L1842.6,476.0 L1845.9,475.2 L1848.2,473.6 L1850.8,472.5 L1852.2,468.6 L1850.8,466.4 L1848.9,464.6 L1844.5,462.9 L1841.2,462.1 L1842.9,460.3 L1847.5,460.6 L1849.6,462.8 L1852.2,464.2 L1853.7,466.4 L1853.2,470.7 L1855.0,468.7 L1855.2,471.5 L1856.6,473.9 L1856.8,476.4 L1856.4,479.0 L1856.2,481.5 L1854.5,481.8 L1854.7,478.6 L1853.3,475.7 L1850.7,476.7 L1847.8,477.2 L1845.9,479.5 L1843.0,480.0 L1841.7,483.2 L1838.4,482.8 L1837.0,485.8 L1834.2,486.5 L1836.1,492.2 L1832.8,489.0 L1831.1,491.2 L1828.6,492.7 L1826.8,494.8 L1831.2,493.4 L1827.3,492.0 L1829.8,489.9 L1829.1,486.6 L1831.1,484.3 L1831.7,481.5 L1829.3,479.9 L1828.2,482.7 L1824.0,484.3 L1826.3,485.1 L1824.8,487.7 L1822.6,489.8 L1820.4,491.9 L1817.2,492.5 L1815.8,495.7 L1812.7,496.5 L1811.8,499.5 L1810.2,502.3 M1810.2,502.3 L1808.6,504.7 L1808.6,507.9 L1808.4,512.3 L1805.9,509.9 L1805.4,512.9 L1803.7,515.3 L1802.7,518.0 L1801.0,519.7 L1798.7,521.4 L1796.6,523.4 L1794.5,525.4 L1791.4,525.8 L1789.4,528.0 L1788.1,530.4 L1786.1,531.9 L1783.4,532.6 L1781.7,534.5 L1779.9,536.3 L1778.5,538.5 L1776.1,539.6 L1774.2,541.4 L1771.3,541.7 L1769.8,544.4 L1767.6,545.8 L1764.5,545.7 L1762.8,547.9 L1760.1,548.8 L1757.6,550.1 L1755.1,551.4 L1752.3,552.1 L1749.6,552.9 L1747.0,553.4 L1744.5,554.4 L1741.5,554.0 L1742.1,555.3 L1739.6,556.2 L1736.0,556.8 L1732.9,558.7 L1729.6,562.0 L1732.7,560.1 L1736.3,559.6 L1738.0,561.7 L1740.4,562.9 L1740.4,565.7 L1740.5,568.5 L1742.4,571.1 L1742.1,574.0 L1744.2,575.4 L1742.4,576.7 L1742.9,579.5 L1745.4,583.0 L1742.7,582.5 L1743.5,585.4 L1742.6,588.5 L1744.1,592.0 L1742.6,591.5 L1743.7,594.4 L1743.1,597.1 L1741.5,599.6 L1740.4,602.1 L1740.5,605.1 L1739.6,607.7 L1738.2,610.6 L1737.1,613.7 L1734.6,616.0 L1732.3,617.7 L1731.8,620.9 L1729.6,622.7 L1729.5,625.6 L1728.0,628.1 L1728.0,631.0 L1725.7,632.8 L1723.8,635.1 L1721.7,638.2 L1720.5,641.7 L1722.0,644.0 L1722.1,646.7 L1723.0,649.2 L1724.1,651.8 L1724.8,654.6 L1724.6,657.5 L1724.2,660.4 L1724.0,663.3 L1724.8,666.3 L1723.8,669.1 L1722.8,671.5 L1719.3,674.0 L1722.2,674.0 L1723.5,676.8 L1721.7,679.0 L1722.6,681.7 L1721.3,684.1 L1721.1,686.7 L1718.5,688.4 L1718.9,691.3 L1717.1,693.3 L1716.3,695.7 L1715.6,698.2 L1714.1,700.4 L1713.4,702.8 L1714.3,705.7 L1713.0,708.0 M1713.0,708.0 L1712.7,704.7 L1715.3,701.7 L1714.4,698.3 L1719.6,702.7 L1714.3,701.1 L1712.5,703.5 L1713.1,706.4 L1712.7,709.2 L1711.1,711.6 L1713.5,714.6 L1709.2,713.8 L1709.4,717.0 L1708.5,719.6 L1706.1,721.5 L1702.6,725.4 L1705.4,724.1 L1708.1,726.3 L1707.0,729.0 L1706.7,732.6 L1708.4,736.3 L1710.1,734.8 L1710.3,738.2 L1710.8,740.7 L1711.5,743.2 L1712.5,745.5 L1714.3,747.5 L1715.3,749.8 L1716.5,752.3 L1718.3,754.4 L1719.1,757.1 L1720.1,759.8 L1722.7,761.4 L1724.6,763.1 L1726.0,765.3 L1728.3,766.7 L1728.5,769.8 L1730.2,771.8 L1732.7,773.0 L1732.9,775.8 L1734.0,778.2 L1736.4,779.8 L1737.5,782.2 L1738.5,784.6 L1738.1,787.1 L1743.6,790.2 L1740.0,789.5 L1739.7,792.1 L1737.8,794.7 L1740.6,797.0 L1739.3,799.6 L1735.9,801.0 L1732.7,802.9 L1729.7,803.1 L1729.8,809.4 L1728.2,806.4 L1726.5,808.6 L1724.7,805.6 L1722.7,807.9 L1725.8,813.0 L1720.9,810.1 L1720.9,813.2 L1722.4,816.8 L1719.5,815.7 L1717.7,817.9 L1716.4,820.4 L1720.3,825.2 L1714.9,822.7 L1714.2,825.4 L1712.5,827.7 L1711.9,830.5 L1710.3,832.8 L1707.2,832.5 L1704.1,832.0 L1701.1,831.1 L1699.3,833.4 L1696.8,833.9 L1693.9,833.4 L1691.3,833.8 L1689.5,836.1 L1687.1,837.3 L1682.5,835.0 L1686.0,840.0 L1683.8,841.4 L1682.5,843.8 L1679.6,844.4 L1678.4,847.2 L1675.5,848.9 L1671.8,849.8 L1674.7,852.0 L1672.9,854.4 L1675.3,858.4 L1671.7,857.4 L1665.2,857.0 L1669.5,859.9 L1667.9,862.7 L1669.0,865.5 L1668.0,868.1 L1668.3,870.8 L1666.9,873.4 L1666.3,876.0 L1661.9,879.1 L1663.0,875.4 L1659.6,875.1 L1657.3,876.6 L1654.5,875.2 L1652.2,876.5 L1649.7,876.8 L1646.8,879.2 L1643.0,879.3 L1640.2,879.7 L1642.1,882.0 L1639.7,883.4 L1635.5,884.0 L1638.5,885.9 L1636.4,887.6 L1633.9,889.6 L1636.6,894.5 L1632.1,891.9 L1632.6,895.9 L1629.7,897.6 L1628.8,900.1 L1628.9,902.8 L1626.3,904.7 L1626.4,907.5 L1622.1,909.6 L1627.0,910.3 L1626.9,913.0 L1626.4,915.8 L1623.9,917.4 L1622.8,920.1 L1621.4,922.5 L1618.5,924.9 L1614.8,925.8 L1615.1,930.5 L1612.5,927.6 L1610.5,929.8 L1609.0,932.4 L1606.5,934.1 L1600.2,934.8 L1604.3,936.6 L1602.3,939.1 L1601.5,942.4 L1599.9,944.6 L1601.5,949.2 L1598.2,946.8 L1595.6,947.8 L1593.2,949.0 L1590.8,950.2 L1587.5,949.4 L1589.9,953.4 L1586.4,953.3 L1584.9,955.7 M1584.9,955.7 L1583.6,958.2 L1580.2,958.3 L1578.9,960.8 L1580.0,964.7 L1577.7,963.2 L1572.7,962.2 L1576.1,965.1 L1572.6,965.2 L1571.5,967.7 L1565.8,967.1 L1569.7,969.4 L1568.5,971.8 L1566.4,973.3 L1566.0,975.8 L1569.6,978.1 L1566.5,978.4 L1565.8,980.9 L1568.1,983.6 L1564.3,983.2 L1562.5,984.8 L1565.5,985.9 L1569.1,988.2 L1564.2,988.3 L1563.9,990.8 L1564.8,993.4 L1559.1,994.8 L1562.9,995.7 L1563.6,998.3 L1563.8,1000.9 L1563.6,1003.4 L1567.5,1005.5 L1562.9,1005.8 L1560.5,1008.1 L1561.4,1010.7 L1560.6,1013.2 L1563.9,1016.3 L1562.1,1015.8 L1559.1,1017.9 L1560.8,1018.2 L1560.8,1020.7 L1560.0,1023.2 L1560.2,1025.7 L1559.5,1028.4 L1559.7,1031.3 L1558.4,1034.0 L1560.5,1036.9 L1559.4,1039.6 L1560.2,1042.0 L1562.3,1043.9 L1562.2,1046.7 L1562.9,1049.2 L1564.0,1051.5 L1564.9,1053.9 L1566.0,1056.2 L1566.1,1059.1 L1568.5,1060.9 L1572.1,1062.6 L1568.3,1063.9 L1569.8,1066.2 L1572.8,1067.6 L1573.7,1070.2 L1574.3,1072.8 L1576.8,1074.3 L1578.8,1076.8 L1576.4,1077.7 L1577.9,1079.8 L1580.0,1081.6 L1582.4,1083.2 L1582.7,1086.1 L1584.1,1088.3 L1584.4,1091.2 L1586.7,1093.0 L1584.4,1097.7 L1586.9,1095.8 L1585.2,1100.3 L1587.6,1098.5 L1589.8,1100.3 L1591.0,1102.7 L1592.8,1104.8 L1596.4,1105.4 L1593.0,1107.7 L1595.0,1109.6 L1595.7,1112.3 L1597.6,1114.3 L1599.7,1116.3 L1602.4,1117.2 L1605.3,1117.6 L1607.6,1119.3 L1607.1,1122.1 L1608.7,1124.3 L1610.4,1126.6 L1609.4,1129.5 L1609.5,1132.1 L1612.3,1134.0 L1607.6,1137.9 L1612.0,1136.8 L1612.5,1139.3 L1615.2,1141.2 L1613.2,1142.0 L1614.4,1144.4 L1615.3,1147.1 L1612.3,1152.1 L1616.6,1149.5 L1618.3,1151.6 L1620.1,1153.7 L1622.2,1155.7 L1622.5,1159.9 L1623.4,1158.1 L1624.2,1160.8 L1628.1,1161.9 L1626.2,1162.6 L1627.3,1164.9 L1632.7,1165.1 L1629.1,1166.9 L1628.8,1170.0 L1630.6,1171.9 L1632.6,1173.8 L1634.2,1175.8 L1635.4,1178.0 L1635.8,1180.8 L1642.0,1181.2 L1637.9,1182.9 L1637.9,1186.0 L1638.7,1188.7 L1641.6,1190.3 L1639.6,1193.8 L1642.3,1193.1 L1643.3,1195.7 L1644.3,1198.1 L1649.4,1199.6 L1645.0,1200.5 L1640.0,1204.8 L1643.5,1203.3 L1643.5,1205.0 L1645.6,1205.5 L1645.7,1208.0 M1645.7,1208.0 L1646.3,1210.6 L1642.3,1213.4 L1645.7,1213.2 L1645.2,1215.9 L1646.5,1218.4 L1646.8,1221.0 L1645.2,1223.7 L1649.1,1226.5 L1646.1,1226.3 L1647.1,1228.9 L1646.3,1231.5 L1645.6,1234.4 L1646.8,1237.2 L1643.6,1240.6 L1647.7,1240.0 L1647.9,1242.8 L1647.8,1245.7 L1647.5,1248.6 L1647.6,1251.4 L1647.2,1254.3 L1645.6,1256.7 L1643.3,1258.6 L1642.1,1261.4 L1643.6,1261.9 L1641.3,1263.9 L1639.6,1266.0 L1637.6,1267.7 L1635.1,1268.9 L1633.8,1271.4 L1631.6,1273.3 L1628.6,1273.5 L1626.0,1272.7 L1626.5,1275.5 L1623.8,1276.4 L1623.3,1271.9 L1621.1,1275.5 L1619.2,1273.2 L1616.0,1273.2 L1613.8,1271.4 L1612.8,1268.5 L1611.4,1265.8 L1608.9,1263.9 L1610.4,1259.2 L1606.7,1261.9 L1607.1,1258.5 L1604.1,1256.9 L1603.9,1253.9 L1600.9,1252.7 L1598.4,1250.9 L1595.9,1249.0 L1593.9,1246.5 L1591.1,1246.2 L1589.3,1243.5 L1584.3,1246.7 L1586.2,1244.1 L1584.1,1242.1 L1581.4,1241.5 L1580.6,1238.8 L1578.3,1236.8 L1578.6,1233.5 L1576.4,1231.5 L1574.2,1229.5 L1574.3,1226.3 L1573.7,1223.5 L1571.4,1221.5 L1569.1,1219.5 L1565.9,1218.9 L1563.9,1216.5 L1563.8,1213.9 L1561.8,1214.8 L1560.3,1212.6 L1558.4,1210.7 L1556.4,1209.0 M1556.4,1209.0 L1557.7,1208.0 L1555.4,1205.9 L1553.1,1203.9 L1551.1,1201.6 L1549.4,1199.0 L1547.6,1197.1 L1545.2,1195.7 L1545.2,1192.4 L1543.0,1190.9 L1541.1,1189.1 L1539.6,1187.0 L1537.4,1185.4 L1536.1,1183.1 L1535.3,1180.4 L1532.8,1179.1 L1532.9,1176.3 L1532.0,1173.8 L1530.1,1171.7 L1529.4,1169.2 L1528.7,1166.7 L1527.9,1164.2 L1526.6,1161.4 L1528.1,1158.2 L1525.4,1155.6 L1526.2,1152.5 L1526.9,1149.8 L1527.8,1147.2 L1529.0,1144.7 L1534.1,1142.4 L1529.5,1141.9 L1530.3,1139.3 L1526.4,1136.3 L1529.2,1136.9 L1529.0,1133.6 L1531.1,1134.2 L1530.3,1131.8 L1531.0,1129.2 L1529.7,1126.8 L1529.5,1124.3 L1525.5,1124.2 L1528.4,1121.8 L1522.9,1122.3 L1526.3,1120.2 L1523.7,1119.0 L1522.8,1116.4 L1521.2,1114.3 L1519.3,1112.5 L1516.4,1112.0 L1515.2,1109.1 L1512.9,1107.9 L1510.5,1106.8 L1507.9,1106.0 L1505.2,1105.4 L1502.8,1104.0 L1498.9,1105.8 L1500.1,1103.4 L1497.9,1101.8 L1495.3,1101.0 L1493.0,1099.4 L1490.5,1100.8 L1487.8,1101.4 L1484.9,1099.0 L1484.8,1100.4 L1482.6,1103.0 L1479.5,1101.8 L1477.0,1103.4 L1474.4,1104.2 L1471.9,1105.4 L1469.0,1105.0 L1466.4,1106.0 L1464.0,1104.7 L1461.2,1105.7 L1458.8,1104.1 L1456.2,1104.4 L1453.5,1105.2 L1451.1,1103.3 L1448.5,1103.3 L1446.0,1103.0 L1443.5,1101.8 L1440.7,1103.8 L1438.3,1102.2 L1435.7,1101.9 L1433.2,1099.4 L1430.6,1104.1 L1430.3,1100.0 L1427.3,1099.0 L1424.4,1103.0 L1424.5,1100.0 L1421.6,1100.2 L1418.7,1097.9 L1417.4,1094.4 L1415.9,1091.2 L1416.6,1087.8 L1414.9,1085.7 L1411.9,1085.1 L1410.4,1082.8 L1408.3,1081.1 L1405.2,1080.1 L1404.8,1074.0 L1402.3,1078.6 L1400.0,1076.2 M1400.0,1076.2 L1398.0,1068.7 L1397.3,1074.5 L1394.1,1074.8 L1391.5,1073.3 L1390.5,1068.4 L1388.6,1072.4 L1385.7,1071.5 L1383.1,1070.8 L1381.2,1076.2 L1380.4,1071.5 L1377.8,1072.9 L1374.8,1075.9 L1375.1,1071.5 L1372.5,1071.5 L1369.4,1071.2 L1366.7,1073.0 L1363.6,1072.9 L1360.8,1074.0 L1358.0,1074.4 L1355.1,1073.4 L1352.4,1074.6 L1349.7,1075.3 L1347.2,1077.6 L1344.2,1076.5 L1341.3,1076.6 L1337.1,1074.0 L1338.9,1077.6 L1337.7,1081.0 L1335.1,1081.5 L1332.6,1082.3 L1329.1,1081.3 L1326.0,1083.1 L1323.6,1087.8 L1323.5,1081.6 L1321.0,1083.5 L1318.5,1081.9 L1316.0,1082.7 L1313.5,1084.3 L1311.0,1083.1 L1308.2,1084.5 L1303.9,1078.1 L1305.1,1083.1 L1302.6,1090.0 L1302.4,1085.1 L1299.4,1084.8 L1296.7,1091.7 L1296.9,1085.5 L1295.3,1083.1 L1294.4,1086.0 L1291.9,1083.7 L1289.4,1084.8 L1286.4,1085.4 L1284.9,1079.2 L1283.7,1083.6 L1280.7,1083.9 L1277.8,1083.1 L1274.5,1082.6 L1271.9,1084.3 L1268.9,1084.9 L1266.2,1086.4 L1265.7,1090.3 L1262.9,1093.1 L1265.4,1094.6 L1265.8,1098.2 L1268.3,1099.6 L1270.1,1101.8 L1272.8,1103.0 L1271.1,1105.7 L1269.3,1108.3 L1266.2,1109.7 L1264.2,1112.2 L1262.0,1114.6 L1261.8,1117.4 L1260.5,1120.1 L1262.0,1122.9 L1263.8,1124.9 L1266.2,1126.3 L1270.2,1126.3 L1268.8,1127.7 L1272.3,1127.1 L1274.5,1129.6 L1274.7,1137.5 L1277.2,1132.4 L1281.1,1132.9 L1282.8,1136.2 L1280.8,1137.8 L1278.1,1138.4 L1276.7,1140.7 L1274.5,1142.0 L1272.1,1144.8 L1268.7,1146.2 L1268.3,1143.6 L1269.5,1141.2 L1269.4,1137.1 L1266.7,1140.1 L1265.0,1137.2 L1259.7,1139.8 L1261.5,1137.1 L1259.6,1134.6 L1257.2,1133.4 L1254.6,1132.9 L1250.9,1132.3 L1247.9,1134.6 L1246.9,1141.1 L1245.3,1137.7 L1241.3,1137.9 L1241.6,1144.8 L1239.2,1140.7 L1235.6,1141.0 L1233.0,1142.9 L1230.3,1141.6 L1227.7,1142.0 L1225.0,1142.0 L1222.4,1142.9 L1219.7,1142.9 L1217.2,1143.1 L1215.1,1144.7 L1214.7,1142.4 L1212.9,1145.7 L1212.2,1142.5 L1209.7,1142.9 L1207.8,1141.0 L1206.5,1138.3 L1208.3,1133.0 L1204.0,1137.2 L1201.4,1136.2 L1196.8,1138.5 L1197.8,1136.4 L1194.8,1134.6 L1196.5,1131.3 L1194.1,1129.9 L1191.7,1128.5 L1189.8,1126.3 L1186.7,1124.9 L1184.0,1122.9 L1187.3,1117.8 L1183.0,1119.6 L1182.3,1116.3 L1179.5,1119.9 L1179.2,1116.5 L1177.9,1122.4 L1176.2,1117.2 L1173.2,1118.0 L1171.6,1115.1 L1169.1,1113.0 L1166.9,1118.4 L1166.4,1115.1 L1162.5,1113.8 L1159.9,1116.3 L1156.3,1118.7 L1160.2,1118.8 L1161.2,1121.3 L1159.9,1123.8 L1158.1,1128.6 L1157.0,1124.3 L1154.4,1125.7 L1151.6,1126.3 L1148.5,1128.9 L1148.9,1124.8 L1145.7,1130.0 L1145.6,1126.0 L1141.1,1128.3 L1143.0,1123.9 L1140.0,1123.8 M1140.0,1123.8 L1137.6,1123.2 L1135.3,1122.1 L1133.1,1120.7 L1130.1,1121.9 L1127.9,1120.5 L1125.9,1118.5 L1123.1,1119.0 L1120.5,1119.0 L1119.4,1113.1 L1118.6,1116.5 L1115.9,1116.9 L1113.6,1118.5 L1111.0,1118.2 L1108.6,1119.5 L1105.1,1113.3 L1105.7,1118.1 L1103.7,1120.7 L1100.8,1119.5 L1099.2,1124.2 L1098.4,1120.3 L1096.1,1121.9 L1093.5,1122.1 L1090.9,1121.9 L1088.5,1122.9 L1085.7,1123.0 L1083.5,1124.7 L1079.5,1124.2 L1081.2,1126.1 L1078.4,1125.8 L1076.3,1127.9 L1073.8,1128.7 L1070.6,1127.2 L1068.4,1129.1 L1066.1,1130.5 L1063.4,1130.6 L1057.9,1126.8 L1060.8,1131.5 L1059.3,1134.1 L1056.4,1134.7 L1054.9,1137.2 L1053.1,1139.4 L1050.5,1140.3 L1047.4,1140.5 L1045.9,1143.1 L1043.1,1143.5 L1041.4,1145.7 L1038.8,1146.5 L1036.8,1148.3 L1034.3,1149.2 L1032.0,1150.5 L1030.1,1152.4 L1028.2,1154.3 L1025.9,1155.6 L1020.7,1152.8 L1023.7,1157.1 L1021.0,1157.7 L1018.8,1159.2 L1017.3,1161.8 L1014.8,1162.7 L1012.7,1164.4 L1010.7,1166.1 L1008.5,1167.6 L1005.1,1167.2 L1002.8,1168.4 L1001.0,1170.5 L998.7,1171.9 L996.5,1173.4 L994.5,1175.1 L992.1,1176.5 L989.8,1177.8 L989.1,1181.3 L990.0,1184.6 L987.1,1183.0 L985.0,1184.6 L980.0,1183.3 L983.0,1186.4 L980.6,1187.7 L978.8,1189.7 L976.0,1190.5 L977.4,1194.6 L974.4,1192.5 L972.0,1193.9 L969.6,1195.5 L970.6,1196.0 L964.9,1195.2 L969.2,1198.2 L969.3,1201.4 L966.8,1202.7 L965.4,1204.8 L966.4,1208.6 L964.3,1207.1 L962.5,1209.0 L962.2,1211.5 L963.2,1214.0 L962.5,1216.5 L961.4,1219.2 L959.3,1221.4 L959.0,1224.6 L957.4,1227.1 L955.0,1229.0 L955.1,1231.5 L956.6,1233.9 L956.7,1236.4 L957.3,1238.9 L957.7,1241.4 L957.5,1244.0 L959.1,1246.3 L960.6,1248.6 L960.4,1251.7 L962.1,1253.9 L962.3,1256.8 L964.3,1258.9 L966.0,1261.1 L966.4,1263.9 L967.5,1266.4 L967.8,1268.9 L968.6,1271.4 L967.9,1273.9 L967.3,1276.4 L966.3,1278.9 L968.0,1281.4 L967.5,1283.9 M597.9,1123.1 L599.2,1125.9 L599.7,1128.9 L599.1,1132.1 L600.7,1134.9 L600.5,1138.0 L601.2,1140.9 L602.3,1143.8 L602.3,1146.9 L603.3,1149.8 L605.4,1153.1 L603.7,1152.8 L605.3,1155.5 L605.1,1158.6 L606.3,1161.5 L606.5,1164.5 L606.4,1167.6 L606.8,1170.6 L608.4,1173.4 L608.8,1176.4 L609.9,1179.3 L610.1,1182.3 L611.2,1185.2 L611.3,1188.2 L611.6,1191.3 L611.8,1194.3 L613.4,1197.1 L613.2,1200.2 L614.6,1203.0 L614.9,1206.0 L615.4,1209.0 L616.0,1212.0 L617.2,1214.8 L617.0,1217.9 L618.3,1220.7 L617.5,1224.0 L618.5,1226.8 L619.6,1229.7 L620.0,1232.7 L621.5,1235.5 L621.8,1238.5 L621.8,1241.6 L622.6,1244.5 L623.5,1247.4 L624.0,1250.3 L623.8,1253.5 L624.8,1256.3 L626.2,1259.1 L625.8,1262.3 L626.9,1265.1 L626.8,1268.2 L628.3,1271.0 L627.6,1274.2 L628.8,1277.1 L629.9,1279.9 L630.0,1283.0 L631.1,1285.8 L631.4,1288.9 L631.9,1291.8 L632.5,1294.8 L633.2,1297.7 L633.1,1300.8 L634.9,1303.5 L634.3,1306.7 L634.7,1309.7 L635.2,1312.7 L635.8,1315.7 L636.9,1318.5 L637.2,1321.5 L638.2,1324.4 L639.0,1327.3 L640.2,1330.2 L639.2,1333.5 L640.9,1336.2 L641.0,1339.3 L642.1,1342.1 L641.4,1345.3 L642.8,1348.1 L646.7,1349.6 L643.5,1351.1 L643.4,1354.1 L645.3,1356.8 L644.5,1360.1 L646.5,1362.8 L645.9,1366.0 L647.7,1368.7 L648.3,1371.6 L647.6,1374.8 L649.0,1377.6 L649.9,1380.5 L649.7,1383.6 L649.6,1386.8 L651.4,1389.5 L651.6,1392.5 L655.4,1392.6 L659.1,1392.3 L662.8,1391.3 L666.5,1389.7 L669.3,1386.9 L672.8,1385.0 L676.0,1385.5 L679.1,1385.0 L679.5,1389.4 L680.3,1393.8 L681.9,1397.2 L683.3,1395.3 L685.6,1397.6 L687.8,1400.0 L690.2,1402.4 L693.2,1403.8 L696.2,1405.1 L699.4,1406.1 L702.1,1408.0 L704.8,1409.8 L707.8,1411.2 L709.9,1414.6 L712.8,1417.5 L715.2,1415.6 L717.0,1413.2 L718.6,1410.6 L721.1,1408.8 L722.8,1406.3 L722.3,1402.5 L722.8,1398.8 L722.8,1395.0 L726.6,1394.8 L725.2,1392.5 L727.9,1390.5 L731.0,1389.1 L734.0,1387.5 L737.1,1389.3 L739.6,1392.0 L742.7,1393.8 L745.2,1398.8 L747.7,1401.2 L751.4,1401.6 L754.3,1403.2 L757.0,1405.3 L760.1,1406.6 L762.7,1408.8 L765.9,1410.5 L768.9,1412.5 L771.7,1414.9 L775.2,1416.2 L775.5,1419.1 L777.3,1418.5 L779.7,1420.5 L781.9,1422.8 L784.8,1424.2 L787.0,1426.5 L789.4,1428.5 L791.5,1430.8 L793.2,1433.6 L795.7,1435.6 L798.4,1437.2 L800.2,1439.9 L803.2,1441.3 L805.2,1443.7 L805.9,1447.0 L807.7,1450.0 L811.6,1452.3 L815.2,1454.9 L817.6,1456.7 L820.6,1457.6 L822.7,1459.9 L826.0,1459.7 L828.9,1461.1 L832.0,1461.9 L835.3,1461.7 L838.4,1462.3 L841.5,1463.1 L844.4,1464.8 L847.6,1464.9 L848.4,1467.8 L849.1,1470.8 L850.1,1473.7 L852.3,1476.6 L853.4,1480.2 L856.3,1482.7 L857.6,1486.2 L857.4,1489.7 L856.1,1493.1 L856.0,1496.6 L856.0,1500.2 L855.1,1503.6 L851.5,1505.4 L847.6,1506.1 L845.4,1508.2 L842.8,1509.8 L840.3,1511.4 L837.4,1512.4 L835.4,1514.9 L832.6,1516.1 L829.5,1516.5 L826.6,1518.2 L823.3,1517.9 L820.2,1518.6 L817.8,1516.7 L815.5,1514.5 L812.5,1513.3 L810.7,1510.4 L807.8,1509.1 L805.0,1507.7 L803.1,1504.9 L800.2,1503.6 L797.2,1502.5 L794.9,1500.4 L792.8,1498.1 L789.9,1496.9 L788.0,1494.2 L785.2,1492.9 L782.7,1491.1 L779.7,1489.1 L777.2,1486.7 L775.2,1483.7 L772.3,1482.2 L770.5,1479.3 L767.2,1478.4 L765.5,1475.3 L762.2,1474.3 L760.7,1471.0 L757.9,1469.4 L755.6,1467.2 L752.8,1465.5 L750.2,1463.7 L748.2,1461.2 L745.6,1459.2 L744.8,1455.9 L741.9,1454.1 L739.8,1451.7 L740.7,1446.9 L739.2,1448.2 L736.6,1446.2 L734.3,1444.0 L732.7,1441.2 L729.7,1439.8 L726.6,1438.7 L724.6,1435.7 L721.0,1435.4 L718.8,1432.7 L715.9,1431.1 L712.8,1430.0 L710.8,1427.3 L708.0,1425.5 L705.3,1423.7 L702.6,1421.9 L699.5,1421.1 L696.3,1420.4 L693.4,1419.2 L690.6,1417.8 L687.8,1416.2 L685.0,1414.6 L681.5,1414.5 L679.1,1411.9 L675.9,1409.2 L675.8,1411.3 L672.8,1410.0 L671.9,1406.6 L673.3,1403.2 L672.6,1399.7 L672.8,1396.3 L670.6,1398.3 L669.2,1401.1 L666.5,1402.8 L664.4,1404.9 L662.8,1407.5 L659.6,1406.3 L656.2,1406.5 L652.8,1406.3 L650.3,1403.8 L647.8,1401.3 L644.1,1401.9 L640.4,1402.7 L636.6,1402.1 L632.9,1402.5 L629.5,1402.7 L626.1,1403.0 L622.8,1403.7 L619.4,1404.2 L616.2,1405.4 L612.9,1406.3 L610.3,1408.0 L607.9,1410.1 L605.2,1411.6 L602.9,1413.7 L605.1,1409.8 L607.9,1406.3 L605.1,1404.9 L603.2,1402.1 L600.0,1401.1 L597.9,1398.8 L595.1,1397.3 L591.8,1397.0 L588.9,1395.7 L585.9,1394.7 L582.9,1393.8 L580.1,1392.2 L577.6,1390.2 L575.3,1388.0 L573.2,1385.4 L570.4,1383.8 L566.9,1383.5 L563.3,1383.3 L559.8,1382.8 L556.5,1381.4 L552.9,1381.3 L550.4,1383.4 L548.6,1386.1 L546.3,1388.3 L544.3,1390.9 L542.9,1393.8 L544.0,1397.1 L545.3,1400.3 L545.3,1403.8 L546.9,1406.9 L547.4,1410.3 L547.9,1413.7 L544.9,1414.0 L542.1,1415.4 L538.8,1414.4 L535.9,1415.5 L533.0,1416.2 L530.7,1418.4 L529.0,1421.0 L525.9,1422.5 L524.2,1425.2 L522.0,1427.4 L519.3,1429.2 L517.8,1432.1 L514.8,1433.5 L513.0,1436.2 L510.1,1437.6 L507.1,1438.6 L504.1,1439.5 L501.4,1441.3 L498.4,1442.4 L495.5,1443.7 L497.9,1441.6 L498.4,1438.2 L500.3,1435.8 L503.2,1434.1 L504.7,1431.4 L506.0,1428.5 L508.0,1426.2 L504.9,1426.3 L501.8,1426.9 L498.6,1426.5 L495.5,1426.2 L495.1,1422.8 L495.9,1419.5 L497.4,1416.3 L497.0,1412.9 L497.8,1409.6 L498.0,1406.3 L500.1,1404.0 L502.3,1401.8 L504.2,1399.3 L505.0,1396.1 L506.6,1393.4 L509.0,1391.4 L511.0,1389.0 L511.9,1385.8 L514.7,1384.0 L515.7,1381.0 L518.0,1378.8 L520.9,1377.8 L523.8,1376.8 L526.7,1375.8 L529.2,1373.8 L526.5,1375.4 L523.4,1376.3 L520.3,1377.0 L517.9,1379.2 L516.0,1382.2 L514.9,1380.2 L512.2,1381.8 L509.4,1383.3 L505.9,1383.0 L503.1,1384.5 L500.5,1386.3 L498.6,1388.9 L495.7,1390.8 L493.8,1393.4 L491.9,1396.1 L490.7,1399.3 L488.0,1401.3 L485.6,1403.5 L484.4,1406.8 L482.0,1409.1 L479.5,1411.2 L478.9,1414.3 L476.2,1416.3 L475.9,1419.5 L474.8,1422.3 L473.4,1425.0 L471.5,1427.4 L470.2,1430.1 L469.0,1432.9 L466.9,1435.2 L465.7,1437.9 L465.2,1441.1 L463.7,1443.7 L462.0,1446.2 L460.7,1449.1 L459.8,1452.1 L458.5,1455.0 L458.0,1458.2 L456.6,1461.1 L456.0,1464.2 L453.8,1466.8 L453.6,1470.1 L452.5,1473.1 L453.3,1475.9 L449.8,1475.4 L449.5,1478.7 L447.3,1481.1 L444.3,1482.4 L442.5,1485.2 L439.8,1486.9 L437.1,1488.7 L434.1,1490.0 L432.2,1492.8 L429.4,1494.5 L427.4,1497.0 L424.6,1498.6 L421.8,1500.2 L420.1,1503.2 L417.2,1504.8 L414.1,1505.9 L411.9,1508.4 L410.1,1511.2 L406.7,1512.1 L405.2,1515.3 L402.3,1516.9 L399.6,1518.6 L396.8,1520.0 L395.1,1522.7 L392.3,1524.2 L389.7,1525.8 L387.6,1528.0 L384.2,1528.5 L382.4,1531.3 L379.4,1532.3 L377.3,1534.7 L374.6,1536.1 L371.5,1537.2 L370.3,1542.0 L369.5,1540.2 L366.6,1541.7 L363.5,1542.7 L360.3,1543.7 L357.6,1545.5 L354.8,1547.2 L352.8,1550.1 L349.6,1551.1 L346.6,1552.4 L343.3,1552.7 L340.1,1553.5 L337.3,1555.4 L334.0,1555.7 L331.1,1557.2 L327.8,1557.7 L324.7,1558.6 L321.6,1558.7 L319.4,1562.7 L318.9,1560.5 L316.1,1561.8 L313.1,1562.0 L310.0,1562.5 L307.2,1563.6 L304.2,1565.0 L301.1,1565.6 L298.0,1566.3 L294.7,1566.3 L291.7,1567.3 L288.4,1567.3 L285.4,1568.4 L282.2,1568.6 L282.3,1564.8 L282.2,1561.1 L285.0,1559.5 L288.1,1558.7 L290.9,1557.2 L293.5,1555.3 L296.5,1554.1 L299.7,1553.6 L302.6,1552.5 L305.0,1550.3 L308.2,1549.8 L310.9,1548.2 L313.9,1547.2 L316.0,1544.6 L319.3,1544.1 L322.3,1543.2 L324.7,1541.1 L327.9,1540.5 L331.2,1540.0 L334.0,1538.0 L337.1,1537.2 L340.0,1535.7 L343.3,1535.2 L346.5,1534.5 L349.6,1533.6 L353.1,1531.5 L357.1,1531.1 L359.8,1529.1 L362.5,1527.1 L364.1,1523.8 L367.3,1522.3 L369.6,1519.9 L372.4,1518.1 L375.2,1516.6 L378.6,1515.9 L381.1,1513.8 L384.4,1513.0 L387.1,1511.1 L389.6,1509.0 L391.5,1506.6 L392.4,1503.3 L394.6,1501.1 L396.9,1498.8 L399.1,1496.5 L402.7,1495.8 L404.9,1493.5 L407.1,1491.1 L407.8,1487.6 L408.4,1484.2 L409.4,1480.8 L408.5,1477.1 L409.6,1473.7 L410.8,1470.5 L411.7,1467.3 L413.9,1464.5 L414.6,1461.2 L415.4,1457.9 L416.6,1454.7 L417.7,1451.6 L419.6,1448.7 L416.7,1449.7 L413.7,1450.4 L411.3,1452.7 L408.5,1453.7 L405.6,1454.9 L402.7,1455.8 L399.6,1456.2 L399.6,1452.7 L398.5,1449.4 L397.1,1446.2 L395.8,1449.1 L394.7,1452.1 L393.6,1455.1 L391.3,1457.5 L390.0,1460.4 L389.6,1463.7 L385.4,1463.5 L387.5,1460.8 L384.6,1458.7 L382.5,1456.3 L379.9,1454.2 L379.3,1450.7 L377.1,1448.3 L374.6,1446.2 L371.5,1446.3 L368.7,1447.7 L365.6,1447.8 L362.5,1447.9 L359.6,1448.7 L356.4,1449.3 L353.3,1450.4 L350.5,1452.3 L347.1,1452.4 L345.8,1449.1 L346.0,1445.5 L345.8,1442.0 L344.6,1438.7 L346.3,1435.5 L347.9,1432.3 L348.4,1428.7 L346.9,1425.7 L346.1,1422.6 L345.4,1419.4 L344.6,1416.2 L340.7,1414.0 L337.2,1411.2 L333.7,1411.4 L330.1,1411.3 L326.6,1411.9 L323.2,1413.5 L319.7,1413.7 L317.9,1409.5 L314.7,1406.3 L312.7,1403.6 L309.8,1401.6 L308.2,1398.5 L305.2,1396.7 L303.4,1393.8 L304.3,1390.3 L306.3,1387.3 L307.2,1383.8 L306.3,1380.3 L303.8,1377.5 L303.4,1373.8 L302.4,1370.8 L301.3,1367.8 L299.8,1365.0 L298.7,1362.0 L297.1,1359.2 L295.9,1356.3 L297.3,1352.9 L300.2,1350.4 L300.8,1346.5 L303.4,1343.8 L305.9,1341.5 L308.1,1338.9 L310.2,1336.3 L312.1,1333.4 L314.8,1331.3 L317.2,1328.9 L319.6,1326.9 L321.2,1324.3 L322.1,1321.3 L323.4,1318.6 L324.9,1316.0 L327.2,1313.9 L329.9,1315.6 L332.6,1317.3 L336.0,1317.8 L338.4,1320.1 L341.2,1321.6 L341.3,1318.9 L344.3,1317.8 L347.1,1316.4 L349.8,1314.8 L352.5,1313.2 L355.1,1311.4 L357.1,1308.9 L360.1,1310.0 L363.4,1309.4 L366.4,1310.7 L369.6,1310.1 L371.2,1306.8 L374.0,1304.4 L375.9,1301.4 L374.9,1298.0 L373.8,1294.5 L373.4,1291.0 L372.4,1287.5 L372.1,1283.9 L374.1,1281.4 L374.7,1278.3 L376.4,1275.7 L377.1,1272.7 L373.8,1273.2 L370.4,1273.4 L367.1,1272.7 L365.0,1275.0 L361.8,1275.8 L360.1,1278.6 L356.7,1279.1 L354.6,1281.4 L352.5,1279.1 L349.4,1278.4 L347.1,1276.4 L343.9,1275.8 L340.7,1275.4 L337.5,1276.8 L334.3,1275.5 L331.1,1275.1 L327.9,1274.6 L324.7,1275.2 L321.7,1273.9 L320.2,1270.8 L316.8,1270.1 L314.9,1267.5 L312.0,1266.1 L309.7,1263.9 L310.2,1260.4 L309.5,1257.0 L308.4,1253.7 L308.4,1250.2 L305.9,1247.6 L303.0,1245.4 L299.7,1244.0 L297.6,1240.6 L294.8,1237.8 L293.4,1234.0 L296.3,1232.1 L300.0,1232.3 L303.0,1230.8 L306.0,1229.3 L309.3,1228.2 L312.2,1226.5 L315.2,1225.7 L317.7,1223.9 L321.0,1223.8 L323.6,1222.1 L326.3,1220.6 L329.6,1220.8 L332.2,1219.0 L335.7,1218.7 L339.2,1218.5 L342.7,1218.1 L346.1,1216.6 L349.6,1216.5 L349.7,1219.8 L348.8,1223.2 L349.6,1226.5 L352.8,1227.8 L356.4,1228.0 L359.5,1229.9 L363.0,1230.5 L366.4,1231.2 L369.6,1232.7 L374.2,1232.7 L372.9,1231.3 L376.3,1230.4 L379.6,1229.0 L382.3,1226.7 L384.9,1224.3 L386.6,1221.0 L389.6,1219.0 L387.5,1216.7 L384.4,1216.0 L381.7,1214.7 L379.2,1212.9 L377.0,1210.8 L374.6,1209.0 L371.6,1207.5 L368.4,1206.9 L365.5,1205.5 L362.1,1205.5 L358.6,1203.6 L354.6,1203.0 L353.9,1199.9 L352.8,1196.9 L351.7,1194.0 L351.3,1190.8 L349.6,1188.0 L347.5,1185.5 L345.2,1183.2 L343.3,1180.6 L341.6,1177.8 L338.6,1176.0 L337.2,1173.0 L335.1,1170.0 L331.7,1168.3 L329.6,1165.4 L327.8,1162.1 L324.7,1160.1 L327.0,1157.8 L328.6,1155.0 L329.3,1151.7 L331.0,1149.0 L333.4,1146.8 L336.4,1145.9 L339.5,1147.5 L342.5,1146.3 L345.5,1147.2 L348.5,1147.4 L351.6,1146.1 L354.6,1146.8 L357.4,1144.9 L359.2,1141.8 L362.1,1140.1 L364.1,1137.3 L367.1,1135.6 L368.6,1132.6 L369.6,1129.4 L370.3,1126.0 L372.1,1123.1 L375.1,1121.4 L376.9,1118.4 L379.5,1116.2 L382.0,1114.0 L384.6,1111.9 L388.0,1111.9 L391.4,1111.8 L394.6,1110.6 L397.6,1109.2 L399.1,1105.9 L402.2,1104.5 L404.4,1102.0 L407.5,1100.6 L409.6,1098.1 L412.7,1098.7 L415.8,1099.4 L419.0,1098.9 L422.1,1099.4 L424.2,1097.0 L427.3,1095.8 L430.0,1094.1 L431.8,1091.3 L434.9,1090.1 L436.9,1087.5 L439.5,1085.7 L443.7,1087.5 L447.0,1090.6 L449.7,1092.2 L451.8,1094.6 L454.3,1096.4 L457.0,1098.1 L460.5,1097.7 L464.0,1098.5 L467.5,1098.9 L471.0,1099.2 L474.5,1099.4 L477.6,1100.5 L479.6,1103.4 L482.7,1104.4 L485.3,1106.4 L488.0,1108.1 L490.9,1109.1 L494.0,1108.3 L497.0,1108.5 L499.9,1109.9 L503.0,1109.4 L506.6,1108.9 L510.0,1109.6 L514.0,1108.2 L513.5,1110.1 L517.0,1110.8 L520.5,1110.6 L523.6,1112.2 L526.8,1113.7 L529.8,1115.4 L533.0,1116.9 L536.4,1117.7 L539.9,1118.6 L543.4,1118.6 L547.0,1118.1 L550.4,1119.4 L553.6,1117.9 L556.8,1116.5 L560.6,1117.0 L563.5,1114.6 L567.3,1115.0 L570.4,1113.1 L573.6,1113.7 L576.3,1115.9 L579.7,1116.0 L582.8,1117.1 L585.6,1119.0 L588.9,1119.4 L592.1,1120.1 L593.7,1124.9 L594.9,1121.7 L597.9,1123.1 M232.3,1286.4 L234.6,1283.9 L235.7,1280.6 L237.3,1277.7 L240.3,1278.9 L243.2,1280.2 L246.1,1281.8 L248.9,1283.4 L252.2,1283.9 L254.2,1286.3 L256.3,1288.6 L258.0,1291.3 L259.7,1293.9 L262.9,1294.8 L265.2,1297.2 L267.8,1299.2 L271.0,1300.1 L268.4,1301.8 L265.3,1302.2 L262.9,1304.3 L259.7,1304.5 L257.2,1306.4 L254.8,1303.8 L252.1,1301.5 L249.2,1299.4 L247.2,1296.4 L244.2,1295.7 L241.9,1293.3 L238.6,1293.1 L236.0,1291.4 L234.3,1288.8 L232.3,1286.4 M269.7,1395.0 L272.9,1395.0 L275.7,1393.6 L278.7,1392.7 L281.7,1392.1 L284.7,1391.3 L286.9,1393.5 L289.2,1395.7 L292.3,1396.8 L294.7,1398.8 L294.5,1403.2 L293.4,1407.5 L289.7,1408.1 L286.0,1409.1 L282.2,1408.8 L279.8,1406.9 L277.6,1404.8 L274.7,1403.8 L272.6,1401.1 L271.7,1397.7 L269.7,1395.0" fill="none" stroke="#4d4d4d" stroke-width="1.3" stroke-linejoin="round"/><path d="M770.4,1479.6 L766.4,1478.5 L762.2,1473.1 L759.6,1467.6 L764.5,1469.7 L769.7,1475.5Z M749.1,1427.8 L748.1,1430.9 L743.9,1426.6 L741.8,1421.9 L742.3,1419.7 L741.2,1414.6 L745.7,1418.4 L749.8,1422.4 L752.7,1428.2Z M820.1,1514.6 L816.4,1512.5 L814.6,1511.6 L812.4,1509.9 L808.6,1506.8 L810.2,1506.1 L811.3,1505.4 L814.3,1507.6 L817.0,1509.5 L818.4,1511.8Z M768.5,1479.2 L765.3,1479.0 L760.6,1473.7 L759.3,1469.8 L756.9,1464.7 L760.2,1465.1 L765.2,1470.0 L767.5,1475.1Z M781.0,1468.0 L778.8,1468.3 L777.2,1466.6 L775.6,1465.5 L775.1,1463.5 L775.7,1461.5 L777.9,1461.9 L779.4,1462.8 L780.5,1464.0 L780.8,1465.6Z M762.8,1450.8 L760.5,1452.1 L755.7,1450.1 L751.6,1447.4 L752.5,1445.1 L757.4,1446.9 L760.3,1448.3Z M752.1,1459.5 L750.2,1460.9 L747.6,1459.3 L745.0,1458.0 L746.4,1456.4 L746.9,1454.3 L750.1,1454.7 L751.9,1457.1Z M828.9,1515.7 L828.0,1515.3 L826.8,1514.3 L827.0,1513.1 L827.4,1511.8 L828.9,1513.0 L829.1,1514.8Z M807.9,1499.9 L805.1,1499.4 L802.2,1497.7 L801.5,1495.5 L801.9,1493.9 L804.4,1495.6 L806.7,1497.2Z M833.6,1481.0 L832.8,1482.7 L830.1,1479.7 L828.1,1475.2 L827.6,1471.9 L828.7,1471.1 L830.2,1471.4 L832.0,1474.0 L833.2,1476.9 L835.1,1480.8Z M814.2,1512.9 L811.7,1512.5 L809.9,1512.3 L808.0,1510.9 L808.5,1508.5 L810.3,1507.2 L812.7,1505.9 L814.4,1508.1 L814.4,1510.4Z M848.7,1501.1 L844.9,1501.9 L840.5,1496.5 L838.5,1491.8 L843.2,1492.5 L846.8,1497.1Z M838.4,1494.9 L835.5,1494.3 L833.0,1493.5 L832.3,1492.3 L833.8,1492.1 L836.3,1493.2Z M805.9,1474.5 L804.6,1473.8 L802.6,1472.2 L802.4,1469.0 L804.2,1468.8 L805.7,1471.2 L807.0,1473.5Z M808.3,1470.5 L805.3,1470.4 L801.5,1466.6 L802.2,1463.6 L805.3,1463.3 L808.5,1467.5Z M782.4,1461.1 L776.5,1458.9 L771.4,1456.6 L768.4,1452.5 L764.0,1447.1 L768.8,1447.6 L775.7,1450.9 L781.4,1456.9Z M811.0,1493.7 L807.7,1491.6 L804.7,1487.4 L804.4,1483.5 L807.9,1484.9 L811.5,1490.3Z M719.1,1422.0 L718.5,1424.1 L714.9,1420.7 L711.8,1416.9 L713.6,1416.2 L714.3,1414.4 L718.5,1417.3 L719.1,1420.6Z M761.9,1476.1 L758.6,1475.6 L754.4,1469.3 L755.7,1465.1 L757.3,1462.5 L761.6,1466.0 L763.2,1473.0Z M773.8,1472.5 L772.6,1473.9 L771.0,1471.8 L769.5,1470.8 L769.2,1469.0 L769.6,1467.2 L771.2,1466.2 L773.1,1467.8 L774.9,1469.3 L773.9,1471.0Z M826.8,1486.8 L824.8,1486.4 L822.8,1483.9 L820.1,1481.3 L819.6,1478.0 L821.0,1477.1 L822.5,1476.4 L825.0,1478.7 L828.2,1482.1 L827.1,1484.6Z M804.2,1461.3 L807.0,1464.9 L800.2,1463.5 L793.1,1460.9 L792.7,1458.1 L786.2,1454.2 L789.4,1453.0 L796.1,1454.6 L802.7,1456.9 L803.5,1459.7Z M751.4,1438.7 L746.2,1437.7 L741.8,1438.6 L739.3,1434.6 L739.2,1432.6 L740.8,1431.5 L744.7,1432.8 L750.9,1435.3Z M736.4,1441.0 L730.4,1438.8 L725.5,1436.0 L723.9,1431.8 L728.3,1431.5 L733.3,1435.9Z M770.5,1468.3 L769.6,1468.9 L768.0,1468.3 L766.6,1467.5 L766.0,1466.4 L767.1,1465.8 L768.9,1466.4 L770.2,1467.3Z M815.4,1485.4 L813.0,1487.0 L805.7,1484.6 L798.6,1480.5 L797.7,1477.2 L803.4,1478.0 L808.3,1479.0 L816.0,1482.6Z M826.5,1483.2 L820.9,1482.0 L814.6,1480.8 L813.2,1477.0 L813.2,1474.8 L818.0,1475.0 L824.4,1479.4Z M793.9,1482.1 L792.4,1482.0 L790.0,1480.2 L788.3,1476.6 L789.0,1475.0 L791.1,1476.3 L793.2,1478.0 L794.0,1480.5Z M813.6,1471.7 L810.6,1473.9 L805.6,1471.4 L805.0,1467.1 L809.0,1465.8 L812.3,1468.7Z M790.2,1471.9 L788.6,1471.8 L787.1,1471.2 L785.5,1469.9 L786.3,1468.9 L787.0,1467.8 L788.6,1469.2 L789.8,1470.3Z M792.8,1487.5 L789.9,1488.0 L787.6,1489.6 L785.6,1487.1 L784.8,1485.3 L784.2,1482.8 L787.2,1483.0 L790.4,1482.5 L791.2,1485.2Z M837.8,1520.0 L829.6,1514.5 L821.5,1508.2 L820.5,1502.1 L827.4,1506.4 L833.6,1511.9Z M845.8,1489.2 L844.2,1489.4 L841.8,1488.0 L842.3,1485.3 L843.3,1483.5 L845.5,1482.5 L847.1,1485.6 L848.5,1489.0Z M780.2,1488.1 L778.6,1487.7 L776.6,1485.7 L774.9,1482.4 L775.6,1480.8 L776.8,1481.0 L778.1,1481.5 L780.6,1483.7 L780.2,1486.1Z M744.4,1427.5 L742.5,1427.6 L741.2,1426.1 L739.9,1424.0 L741.8,1423.4 L743.5,1424.0 L744.0,1425.6Z M843.8,1507.0 L842.6,1507.0 L841.6,1506.4 L841.1,1505.7 L840.1,1504.4 L841.2,1504.1 L842.3,1503.5 L843.4,1504.6 L844.6,1505.9Z M756.8,1435.8 L756.1,1436.9 L754.0,1435.8 L753.3,1433.6 L754.4,1433.1 L755.3,1432.9 L756.4,1433.7 L757.2,1434.9Z M808.0,1508.9 L807.3,1509.7 L805.5,1508.7 L803.7,1507.6 L803.2,1506.1 L804.1,1505.6 L805.3,1505.0 L806.8,1506.8 L808.1,1507.9Z M791.2,1471.1 L789.2,1472.1 L784.9,1470.3 L780.3,1468.2 L780.2,1466.0 L780.7,1464.6 L783.6,1465.2 L787.4,1466.0 L789.7,1468.6Z M755.5,1433.6 L752.0,1429.2 L750.2,1427.7 L747.2,1424.6 L746.1,1420.1 L748.9,1421.0 L749.7,1418.8 L752.6,1421.8 L754.0,1425.9 L755.5,1429.9Z M826.9,1510.1 L825.4,1510.5 L824.3,1510.2 L823.4,1509.5 L822.7,1508.2 L823.9,1507.3 L825.2,1508.1 L826.3,1508.7Z M827.6,1479.6 L824.8,1477.4 L822.4,1478.0 L820.4,1474.2 L818.7,1470.3 L821.6,1470.7 L822.3,1467.6 L825.0,1471.6 L826.3,1474.1 L827.8,1477.0Z M832.0,1485.2 L831.2,1485.5 L829.7,1483.8 L829.0,1482.2 L827.6,1479.8 L828.7,1479.7 L830.1,1480.3 L831.3,1482.6 L832.4,1484.5Z M793.2,1490.8 L791.0,1491.9 L789.5,1488.9 L789.6,1486.8 L791.7,1487.3 L793.2,1488.8Z M824.6,1511.9 L819.8,1510.2 L816.1,1507.8 L811.5,1505.3 L809.9,1501.5 L807.5,1497.0 L810.6,1496.0 L816.3,1500.3 L820.7,1503.8 L820.6,1506.6Z M746.0,1433.5 L741.5,1432.3 L738.1,1429.5 L736.6,1426.7 L739.4,1426.6 L742.9,1429.7Z M856.5,1508.3 L854.7,1509.3 L850.5,1505.1 L846.2,1501.1 L849.3,1501.4 L852.3,1503.3 L855.5,1505.7Z M823.6,1512.9 L820.2,1512.9 L817.2,1511.2 L815.8,1509.1 L817.6,1507.4 L822.1,1510.1Z M775.2,1445.7 L774.8,1446.2 L773.9,1445.3 L773.0,1444.3 L773.1,1443.4 L773.6,1443.2 L774.1,1443.2 L775.0,1442.9 L775.2,1444.3 L776.0,1445.5Z M820.3,1502.5 L819.0,1502.4 L817.1,1502.3 L815.3,1500.0 L815.7,1497.9 L818.1,1498.3 L820.2,1499.2 L822.0,1501.6Z M773.8,1465.4 L772.2,1465.5 L770.7,1465.8 L770.2,1464.4 L770.8,1463.6 L771.9,1463.4 L772.9,1464.1Z M791.6,1473.9 L789.1,1473.7 L786.0,1470.8 L786.4,1469.7 L787.4,1469.1 L790.3,1471.4Z M816.3,1510.6 L814.3,1510.7 L812.0,1508.7 L812.2,1507.5 L813.3,1506.7 L814.9,1508.6Z M762.1,1439.7 L759.5,1440.0 L756.2,1439.0 L751.0,1436.0 L754.2,1434.3 L756.0,1433.1 L759.3,1434.6 L761.2,1437.1Z M792.7,1499.6 L787.5,1495.0 L781.5,1485.5 L783.5,1481.4 L787.9,1485.1 L792.4,1493.0Z M739.8,1426.9 L737.9,1426.5 L735.1,1426.2 L733.7,1422.3 L733.1,1419.9 L732.8,1416.4 L736.4,1417.9 L738.6,1422.6 L742.8,1426.9Z M733.2,1425.9 L731.6,1424.0 L730.5,1423.1 L730.3,1421.6 L730.2,1420.1 L731.4,1421.2 L732.6,1422.0 L733.6,1424.4Z M780.5,1456.1 L777.0,1454.8 L774.2,1453.9 L770.8,1450.7 L771.0,1448.0 L774.5,1449.4 L777.7,1449.7 L780.4,1453.4Z M737.8,1437.4 L736.4,1437.2 L735.2,1436.4 L735.9,1435.3 L737.0,1435.1 L738.0,1435.9Z M780.8,1473.7 L779.5,1473.8 L778.2,1473.1 L777.1,1471.9 L776.2,1470.4 L776.0,1468.6 L777.6,1468.3 L779.5,1469.3 L781.0,1471.0 L780.7,1472.4Z M785.7,1470.7 L782.4,1469.3 L780.1,1469.3 L776.4,1467.0 L774.9,1463.3 L777.8,1463.0 L777.9,1459.8 L781.5,1462.8 L785.5,1464.9 L785.2,1468.0Z M838.8,1488.1 L837.7,1489.4 L835.0,1487.8 L834.4,1485.9 L833.6,1484.2 L835.3,1484.1 L836.9,1485.3 L838.0,1486.4Z M779.8,1450.4 L778.5,1452.9 L773.4,1448.1 L770.6,1444.1 L770.9,1440.8 L776.5,1444.6 L779.7,1448.1Z M729.0,1413.2 L725.6,1411.7 L722.4,1408.8 L720.3,1405.2 L723.8,1406.2 L729.1,1410.5Z M763.3,1442.0 L757.4,1441.6 L749.8,1439.2 L749.2,1436.0 L751.8,1433.9 L759.9,1437.9Z M806.1,1506.2 L805.8,1507.3 L804.0,1506.1 L801.6,1505.2 L802.0,1503.9 L803.2,1503.3 L805.0,1504.4 L806.2,1505.3Z M825.1,1510.1 L823.6,1511.1 L821.8,1510.9 L819.1,1511.1 L819.5,1508.6 L818.4,1506.3 L820.1,1504.5 L822.6,1506.2 L825.3,1505.8 L825.3,1508.3Z M745.7,1428.9 L744.8,1429.2 L742.9,1428.1 L741.5,1427.2 L741.0,1426.4 L741.2,1425.8 L742.3,1425.9 L743.6,1426.9 L745.9,1428.1Z M757.4,1427.4 L756.3,1427.5 L755.4,1426.5 L754.3,1425.6 L754.7,1424.6 L755.2,1424.0 L756.4,1424.1 L757.4,1425.1 L757.5,1426.3Z M842.2,1486.5 L840.8,1485.5 L840.0,1484.3 L838.8,1483.1 L839.2,1482.0 L839.4,1480.6 L840.6,1480.9 L841.3,1482.4 L842.3,1483.4 L842.8,1485.2Z M783.2,1468.7 L781.7,1470.4 L779.3,1469.9 L777.3,1468.2 L776.4,1465.4 L778.7,1463.9 L781.1,1463.5 L783.4,1464.5 L783.6,1466.9Z M761.9,1458.3 L758.8,1458.4 L756.1,1453.8 L755.1,1449.7 L756.6,1448.1 L758.8,1448.1 L761.1,1451.2 L764.0,1456.0Z M785.0,1470.2 L783.1,1470.3 L780.8,1469.3 L780.0,1467.0 L778.6,1464.8 L780.5,1464.9 L781.9,1464.4 L783.3,1466.4 L784.7,1468.1Z M753.8,1464.1 L750.9,1462.9 L749.3,1460.6 L749.8,1458.4 L751.4,1455.8 L753.3,1458.7 L754.8,1461.1Z M826.8,1491.2 L823.5,1493.1 L822.3,1488.3 L823.8,1486.1 L827.0,1484.6 L827.9,1489.0Z M778.5,1472.8 L776.1,1473.0 L773.4,1471.5 L771.2,1470.1 L768.6,1467.7 L770.8,1467.3 L772.4,1466.1 L775.7,1468.3 L779.4,1470.9Z M837.1,1492.2 L833.6,1490.3 L831.6,1487.6 L831.3,1485.5 L833.2,1484.5 L835.2,1488.3Z M831.0,1490.9 L829.1,1490.0 L827.0,1487.8 L825.1,1484.2 L828.3,1486.0 L831.2,1489.2Z M777.4,1482.3 L776.4,1482.9 L775.0,1481.9 L774.0,1480.4 L774.9,1479.3 L777.0,1479.0 L777.7,1481.3Z M782.1,1467.3 L781.6,1468.9 L777.8,1467.3 L773.3,1464.2 L773.0,1461.7 L771.6,1459.2 L773.4,1458.6 L777.1,1460.8 L781.9,1463.0 L785.1,1467.0Z M757.5,1466.6 L756.5,1466.6 L755.9,1465.8 L754.7,1465.0 L755.4,1464.0 L756.2,1463.8 L756.9,1463.2 L757.4,1464.2 L758.4,1464.9 L758.5,1466.2Z M793.4,1494.9 L791.6,1496.6 L787.1,1493.6 L785.0,1491.9 L783.7,1489.4 L788.0,1489.4 L791.9,1492.5Z M818.1,1472.2 L816.8,1472.8 L813.7,1471.6 L809.9,1468.8 L808.3,1466.1 L810.8,1466.3 L813.0,1467.1 L815.5,1468.5 L818.2,1470.8Z M819.4,1475.4 L817.9,1476.2 L815.7,1476.9 L812.1,1475.9 L811.1,1473.6 L810.9,1471.9 L812.3,1470.9 L814.7,1470.6 L817.4,1472.1 L820.5,1473.8Z M769.2,1466.4 L768.1,1466.9 L767.3,1465.8 L767.5,1464.7 L768.3,1464.1 L769.3,1464.4 L769.8,1465.5Z M801.4,1461.5 L801.3,1462.6 L799.8,1461.2 L798.4,1459.4 L797.3,1457.4 L798.6,1457.8 L798.8,1456.7 L800.3,1457.8 L801.0,1459.7 L802.1,1461.3Z M839.4,1510.6 L836.6,1510.9 L832.4,1509.4 L830.0,1506.7 L832.1,1506.2 L834.4,1505.7 L838.3,1508.1Z M763.5,1469.5 L761.6,1469.6 L760.5,1468.8 L759.7,1467.1 L761.6,1467.1 L763.4,1467.6Z M762.3,1441.5 L762.7,1442.8 L760.6,1442.5 L758.8,1440.9 L757.9,1439.8 L757.5,1438.8 L757.8,1438.0 L759.8,1438.2 L761.7,1439.8 L762.8,1441.0Z M763.1,1432.5 L762.4,1433.0 L761.3,1431.9 L760.1,1430.6 L759.4,1428.8 L760.2,1428.2 L761.3,1428.3 L762.3,1429.4 L763.2,1430.6 L763.2,1431.6Z M818.0,1497.6 L815.1,1497.6 L811.8,1498.1 L811.5,1495.0 L813.0,1493.4 L815.3,1493.1 L816.9,1495.1Z M759.2,1468.7 L757.9,1469.6 L756.0,1469.2 L756.4,1467.3 L757.0,1466.4 L757.8,1464.9 L759.1,1466.1 L760.4,1467.4Z M785.4,1488.3 L782.2,1487.3 L780.2,1486.8 L777.5,1485.5 L776.1,1483.3 L774.9,1480.9 L776.6,1479.8 L780.1,1482.1 L783.8,1483.3 L787.0,1486.7Z M759.3,1450.0 L757.6,1448.2 L756.5,1447.0 L756.4,1445.8 L756.4,1444.4 L757.9,1446.1 L759.2,1448.2Z M815.4,1507.5 L810.6,1507.0 L806.5,1504.9 L805.2,1502.8 L807.4,1501.8 L813.6,1504.0Z M759.2,1446.6 L757.3,1449.1 L752.5,1443.0 L749.5,1436.8 L753.0,1436.5 L757.5,1438.9 L760.9,1444.7Z M782.1,1479.6 L779.9,1479.2 L776.3,1478.1 L776.2,1473.9 L777.4,1471.7 L780.0,1471.4 L783.2,1474.0 L783.3,1477.7Z M818.2,1474.3 L817.6,1475.1 L816.1,1475.2 L815.0,1473.8 L813.3,1472.2 L814.2,1471.0 L815.6,1470.7 L817.2,1470.8 L818.6,1472.1 L819.4,1473.7Z M785.7,1469.1 L784.2,1470.3 L780.1,1464.8 L778.4,1459.2 L781.0,1459.7 L784.0,1463.2 L787.9,1468.6Z M817.8,1515.3 L817.5,1518.4 L813.4,1517.0 L810.5,1515.2 L810.9,1512.8 L812.0,1510.4 L815.9,1510.3 L818.8,1512.9Z M798.8,1464.5 L797.1,1464.6 L794.9,1466.2 L793.9,1462.9 L790.9,1460.5 L793.3,1459.6 L794.4,1458.2 L796.8,1459.3 L798.4,1461.1 L799.7,1463.1Z M787.0,1467.8 L786.7,1468.1 L785.5,1467.7 L783.7,1467.1 L782.4,1465.8 L782.6,1465.2 L783.9,1465.5 L784.9,1465.6 L786.6,1466.4 L786.7,1467.2Z M852.5,1504.6 L849.8,1505.3 L844.8,1503.4 L838.3,1503.0 L833.8,1499.0 L835.3,1497.0 L839.5,1497.4 L842.1,1496.1 L847.7,1499.2 L850.5,1502.0Z M763.4,1454.0 L762.4,1454.2 L761.2,1453.0 L761.2,1451.9 L761.8,1451.4 L762.9,1451.8 L763.3,1453.0Z M839.4,1509.8 L837.7,1508.4 L836.2,1506.5 L834.5,1504.2 L834.9,1503.1 L834.8,1501.3 L836.7,1503.0 L838.6,1505.5 L838.9,1507.6Z M799.0,1458.0 L798.4,1459.5 L794.2,1459.2 L788.8,1456.7 L787.5,1454.3 L784.1,1451.5 L787.6,1451.5 L790.9,1451.2 L796.2,1453.8 L797.8,1456.2Z M752.1,1437.8 L748.0,1438.0 L746.5,1433.3 L748.5,1430.1 L752.4,1430.2 L752.5,1434.4Z M829.8,1479.2 L826.7,1478.6 L823.8,1478.9 L823.0,1476.1 L820.8,1473.0 L823.7,1472.5 L827.1,1474.0 L828.5,1476.5Z M797.5,1496.2 L795.6,1496.3 L795.0,1494.7 L794.6,1493.2 L796.0,1491.5 L798.0,1492.6 L798.2,1494.5Z M821.6,1500.6 L820.1,1501.6 L819.1,1499.9 L818.0,1498.2 L819.2,1496.5 L821.0,1497.3 L822.5,1497.9 L823.1,1499.8Z M729.3,1416.0 L726.1,1416.0 L723.3,1415.9 L721.3,1413.2 L723.5,1411.9 L725.8,1411.7 L728.5,1413.2Z M839.8,1478.9 L839.2,1479.7 L838.0,1479.9 L836.9,1479.4 L836.5,1478.5 L836.1,1477.5 L836.9,1476.9 L838.0,1476.9 L838.9,1477.3 L839.0,1478.1Z M820.1,1507.8 L819.2,1508.5 L817.8,1508.4 L817.0,1507.4 L816.3,1506.5 L817.0,1505.8 L817.5,1505.3 L818.4,1505.2 L819.6,1505.5 L819.4,1506.6Z M831.5,1502.3 L830.0,1505.5 L826.4,1501.4 L825.6,1496.7 L825.1,1492.8 L828.0,1494.2 L830.2,1494.3 L831.6,1497.8 L832.6,1500.9Z M814.1,1481.9 L810.5,1479.2 L808.0,1474.7 L808.3,1472.2 L810.6,1472.4 L813.0,1477.3Z M797.7,1469.6 L795.5,1470.3 L793.2,1469.2 L793.3,1467.1 L794.0,1465.5 L795.9,1466.1 L798.7,1467.1Z M761.5,1437.1 L759.6,1436.5 L757.9,1436.2 L755.0,1434.3 L755.1,1432.8 L753.6,1430.8 L755.0,1430.7 L757.4,1432.0 L759.2,1433.8 L761.1,1435.6Z M761.0,1454.1 L758.2,1454.2 L755.2,1453.0 L750.6,1451.5 L751.3,1449.9 L753.0,1449.3 L756.6,1449.8 L759.1,1452.1Z M796.9,1478.0 L794.4,1478.0 L791.8,1474.4 L789.1,1469.7 L793.2,1470.4 L797.6,1475.7Z M840.9,1488.9 L840.5,1489.7 L838.9,1488.7 L838.3,1487.3 L838.2,1486.7 L837.6,1485.1 L839.2,1486.2 L840.1,1487.2 L840.7,1488.1Z M557.3,1385.6 L556.3,1386.4 L554.7,1387.0 L554.7,1385.3 L554.5,1384.1 L555.8,1383.8 L557.3,1384.1Z M583.5,1393.2 L581.9,1393.2 L580.3,1391.5 L580.9,1390.1 L581.4,1388.9 L583.0,1389.7 L583.7,1391.6Z M551.2,1399.4 L550.8,1398.9 L551.3,1398.4 L551.7,1397.8 L552.3,1398.3 L552.8,1398.5 L552.8,1399.1 L552.7,1399.7 L552.1,1399.8 L551.6,1399.8Z M571.8,1405.6 L572.9,1404.3 L574.7,1403.3 L576.0,1404.8 L576.2,1406.3 L574.8,1408.0 L572.8,1407.0Z M558.2,1411.1 L556.3,1411.4 L553.9,1411.2 L552.9,1409.6 L551.5,1407.1 L555.2,1408.2 L558.4,1409.3Z M559.6,1395.1 L559.8,1393.3 L561.0,1391.7 L562.5,1392.0 L563.0,1392.8 L562.9,1394.1 L561.5,1394.6Z M539.9,1387.7 L541.3,1386.4 L543.3,1384.7 L545.1,1386.5 L545.7,1387.6 L546.3,1389.5 L543.3,1390.0 L540.0,1389.8Z M577.7,1401.7 L578.0,1400.1 L579.8,1400.0 L581.9,1399.9 L581.9,1401.7 L581.0,1402.8 L579.8,1403.5 L578.8,1402.6Z M567.8,1392.6 L566.2,1391.9 L565.9,1390.2 L566.9,1388.8 L569.1,1387.7 L569.5,1390.2 L569.1,1391.6Z M595.3,1403.1 L596.7,1401.0 L600.0,1400.8 L602.4,1400.2 L604.4,1401.2 L606.2,1403.0 L603.3,1404.5 L600.1,1406.0 L598.4,1404.0Z M556.2,1401.2 L556.1,1398.9 L558.5,1397.2 L561.3,1395.1 L563.8,1396.2 L561.8,1398.9 L561.5,1401.7 L558.0,1402.8Z M544.6,1390.1 L543.2,1390.4 L542.9,1388.4 L542.9,1387.0 L542.9,1385.2 L544.1,1385.3 L545.2,1385.4 L546.5,1386.3 L546.1,1388.2 L545.4,1389.3Z M548.3,1406.3 L549.0,1404.5 L549.5,1403.4 L550.2,1401.5 L552.1,1401.3 L554.2,1401.2 L554.1,1403.2 L552.6,1404.8 L551.5,1406.2 L549.5,1407.4Z M547.1,1404.8 L545.6,1403.6 L544.9,1402.0 L543.7,1399.8 L544.8,1398.5 L546.3,1399.7 L547.9,1400.9 L547.5,1403.0Z M585.1,1401.3 L584.9,1399.0 L585.2,1396.3 L587.2,1394.8 L588.3,1395.8 L589.1,1398.0 L587.0,1400.4Z M551.4,1407.4 L550.7,1406.2 L550.6,1404.8 L551.3,1403.2 L552.2,1404.7 L552.5,1406.6Z M600.5,1405.9 L601.1,1404.2 L602.9,1403.1 L605.0,1401.9 L606.6,1402.8 L607.4,1403.9 L607.5,1405.2 L605.9,1406.2 L604.2,1406.5 L602.2,1406.8Z M571.6,1405.8 L570.7,1406.8 L568.6,1406.0 L566.3,1405.1 L566.3,1403.5 L565.5,1402.0 L565.9,1400.4 L568.6,1402.2 L570.9,1402.8 L571.5,1404.5Z M548.2,1403.2 L548.6,1401.8 L550.2,1401.9 L551.2,1401.5 L552.6,1401.8 L552.2,1403.1 L552.6,1404.3 L551.4,1405.0 L550.0,1405.3 L549.0,1404.4Z M572.0,1391.8 L570.7,1391.4 L570.7,1389.4 L571.1,1387.2 L572.5,1387.6 L573.4,1388.1 L573.8,1389.8 L573.0,1391.0Z M569.1,1396.4 L568.4,1396.9 L567.1,1396.9 L566.0,1396.5 L565.6,1396.0 L565.2,1395.5 L565.6,1395.2 L566.2,1394.5 L567.6,1394.9 L568.6,1395.6Z M552.5,1391.6 L550.6,1391.9 L547.8,1390.8 L548.3,1389.2 L549.6,1388.5 L551.3,1389.9Z M560.6,1387.0 L560.2,1386.5 L560.1,1385.5 L560.8,1384.9 L561.6,1384.1 L561.7,1385.3 L561.8,1386.2 L561.1,1386.7Z M569.2,1389.8 L568.1,1390.2 L567.4,1390.6 L566.3,1390.7 L565.3,1390.0 L565.8,1389.0 L566.2,1388.4 L567.0,1388.0 L567.7,1388.6 L569.0,1388.7Z M553.0,1389.6 L550.3,1390.4 L548.2,1387.4 L546.9,1384.1 L550.3,1383.4 L553.5,1386.8Z M592.8,1403.8 L593.0,1403.0 L593.9,1402.5 L594.7,1402.0 L595.7,1402.1 L595.7,1402.9 L596.0,1403.5 L595.5,1404.3 L594.5,1404.4 L593.5,1404.4Z M555.0,1395.2 L554.7,1393.5 L555.3,1392.4 L556.3,1391.4 L556.9,1392.7 L556.4,1394.2Z M580.0,1391.9 L578.9,1391.8 L577.8,1390.3 L578.0,1388.4 L579.8,1388.9 L581.0,1391.1Z M543.4,1390.3 L543.2,1389.0 L545.7,1388.5 L547.1,1389.0 L547.0,1390.5 L544.3,1391.1Z M578.9,1396.6 L580.1,1395.8 L581.0,1395.1 L582.6,1395.0 L583.7,1395.7 L583.4,1396.6 L582.3,1397.1 L581.3,1397.1 L579.5,1397.5Z M590.9,1398.7 L589.8,1399.3 L588.6,1397.5 L587.6,1396.2 L587.7,1394.7 L588.2,1392.7 L590.0,1394.9 L591.8,1395.9 L591.2,1397.5Z M543.9,1390.1 L543.9,1388.3 L546.4,1386.7 L550.2,1386.3 L549.1,1389.1 L547.7,1390.8 L544.4,1392.5Z M490.8,1505.9 L487.2,1509.0 L483.1,1511.7 L478.7,1508.4 L474.3,1507.4 L474.5,1504.4 L474.6,1501.2 L478.6,1499.5 L482.4,1502.0 L485.7,1503.0Z M460.5,1519.9 L459.9,1515.3 L463.0,1512.6 L467.7,1509.2 L468.1,1514.8 L470.0,1519.3 L465.1,1522.9Z M488.2,1498.2 L489.4,1496.3 L492.9,1495.8 L495.4,1496.6 L495.3,1498.2 L493.4,1499.8 L489.3,1500.2Z M489.9,1491.7 L487.3,1492.7 L485.6,1489.9 L487.1,1487.3 L488.4,1485.6 L490.4,1485.0 L492.0,1486.8 L492.5,1489.0 L492.5,1492.0Z M479.3,1505.4 L474.7,1507.3 L470.1,1506.5 L465.9,1502.8 L469.6,1499.9 L473.3,1498.5 L477.6,1500.7Z M485.0,1482.1 L484.9,1480.0 L486.5,1477.9 L489.0,1479.1 L491.7,1479.6 L491.3,1482.1 L489.7,1483.6 L487.9,1484.3 L486.3,1483.4Z M486.7,1513.9 L484.3,1516.0 L478.9,1513.7 L475.6,1511.3 L470.1,1507.6 L473.4,1505.8 L477.9,1507.0 L482.9,1506.7 L485.1,1510.6Z M484.6,1481.5 L482.3,1482.7 L480.2,1480.4 L480.5,1477.6 L481.8,1475.8 L483.7,1475.6 L485.0,1476.9 L486.1,1478.3 L486.8,1480.8Z M486.0,1489.7 L486.1,1483.8 L487.0,1477.8 L492.3,1475.3 L496.8,1474.3 L499.7,1477.8 L496.8,1484.6 L491.5,1487.3Z M487.6,1496.7 L482.3,1496.6 L478.7,1489.8 L475.1,1482.9 L477.8,1477.7 L483.5,1479.4 L489.3,1484.3 L491.2,1492.6Z M471.7,1492.5 L472.5,1490.3 L475.3,1488.9 L477.5,1490.0 L480.2,1490.9 L478.9,1493.0 L476.4,1494.5 L473.8,1493.8Z M487.1,1511.6 L481.2,1511.1 L474.5,1508.4 L476.2,1503.9 L479.9,1500.9 L487.8,1505.5Z M499.9,1473.4 L495.6,1472.6 L491.3,1468.9 L493.8,1463.9 L499.6,1463.1 L503.4,1469.2Z M470.8,1483.9 L471.3,1479.6 L475.0,1476.6 L478.5,1476.3 L482.6,1476.4 L482.6,1480.1 L480.2,1484.7 L474.4,1486.5Z M375.7,1547.2 L374.6,1549.7 L372.1,1551.9 L369.7,1552.1 L371.0,1549.7 L373.1,1547.5Z M439.4,1490.0 L439.6,1492.4 L435.5,1493.3 L433.8,1491.2 L435.6,1489.4 L438.0,1488.7Z M324.7,1560.4 L324.9,1562.8 L322.9,1564.9 L320.5,1564.3 L320.6,1562.0 L322.3,1560.1Z M370.7,1551.2 L369.7,1553.1 L367.6,1553.9 L365.2,1554.1 L366.5,1552.1 L368.5,1550.8Z M364.7,1562.5 L364.7,1564.2 L361.9,1565.8 L359.0,1566.6 L357.7,1565.6 L358.4,1563.9 L360.6,1562.7 L363.7,1560.9Z M403.4,1541.6 L404.1,1542.6 L402.0,1543.2 L399.9,1543.3 L397.9,1542.9 L399.3,1541.8 L399.7,1540.8 L401.7,1540.5 L403.6,1540.6Z M462.0,1475.3 L460.8,1477.4 L458.4,1478.9 L457.2,1478.3 L457.3,1477.0 L459.4,1475.9Z M403.6,1531.0 L403.5,1532.2 L402.3,1532.1 L401.8,1531.6 L401.6,1530.6 L402.8,1530.2Z M464.3,1477.2 L463.9,1478.9 L460.3,1480.4 L457.7,1479.4 L453.9,1479.1 L455.4,1476.9 L459.6,1476.1 L463.5,1475.6Z M339.1,1569.8 L339.6,1570.6 L337.6,1571.8 L336.6,1572.4 L334.8,1573.2 L335.2,1571.9 L336.6,1570.5 L337.8,1570.2Z M396.4,1551.7 L394.2,1553.3 L391.8,1555.5 L388.7,1554.8 L387.3,1553.3 L391.2,1551.8 L394.0,1551.2Z M388.6,1547.5 L387.9,1548.5 L386.7,1548.6 L385.9,1548.2 L384.9,1547.2 L386.4,1546.8 L387.9,1546.3Z M474.4,1463.4 L473.7,1465.1 L473.2,1467.3 L470.2,1467.9 L467.9,1467.2 L468.6,1465.0 L468.7,1463.3 L471.0,1462.6 L473.6,1461.7Z M467.8,1460.1 L467.7,1461.6 L465.4,1463.4 L462.9,1464.5 L461.6,1463.9 L459.3,1462.8 L463.7,1460.6 L467.2,1458.2Z M398.7,1525.9 L397.9,1526.8 L397.3,1528.4 L395.6,1527.6 L394.6,1527.0 L394.5,1526.0 L394.3,1524.3 L396.5,1525.0 L397.8,1525.0Z M380.3,1561.7 L380.0,1563.5 L376.9,1564.2 L374.9,1565.9 L372.3,1565.5 L371.1,1564.1 L372.8,1562.4 L374.3,1561.4 L376.1,1561.2 L378.1,1561.0Z M447.7,1501.1 L447.6,1502.0 L447.3,1502.9 L446.4,1503.1 L445.7,1503.1 L445.2,1502.5 L445.8,1501.3 L446.8,1501.3Z M464.4,1464.1 L464.7,1465.4 L461.7,1466.2 L459.3,1466.3 L456.6,1466.1 L455.5,1464.8 L458.9,1463.7 L461.1,1463.5 L464.0,1463.0Z M471.8,1465.9 L471.6,1469.5 L468.3,1471.2 L464.7,1472.2 L466.2,1468.8 L468.3,1467.1Z M311.6,1574.0 L311.5,1575.3 L308.8,1576.0 L307.4,1576.0 L304.8,1576.2 L307.0,1574.9 L308.0,1573.5 L310.2,1573.6Z M447.8,1500.1 L447.3,1503.1 L443.4,1506.7 L438.9,1507.8 L439.7,1504.7 L439.9,1501.7 L444.3,1500.4Z M384.4,1555.8 L385.0,1556.6 L384.6,1557.8 L383.5,1558.0 L382.6,1557.5 L381.3,1556.6 L382.1,1555.1 L383.7,1554.2Z M397.0,1530.7 L398.5,1531.5 L395.9,1534.3 L392.9,1536.2 L391.0,1536.1 L390.8,1534.2 L393.5,1531.5 L396.6,1528.9Z M432.2,1505.1 L433.0,1507.1 L430.3,1509.2 L428.7,1511.5 L427.8,1510.1 L426.8,1509.2 L428.3,1507.4 L430.0,1505.1Z M371.1,1554.0 L371.1,1555.4 L369.7,1556.5 L367.8,1556.2 L367.3,1554.6 L368.4,1553.0 L370.1,1553.2Z M333.6,1566.3 L332.4,1567.7 L331.7,1569.2 L329.9,1569.1 L328.7,1568.8 L328.3,1567.6 L330.3,1566.6 L332.1,1565.8Z M444.6,1485.3 L443.1,1487.6 L439.6,1488.3 L436.2,1489.2 L435.6,1487.5 L434.9,1485.5 L438.7,1484.3 L441.5,1484.6Z M407.6,1524.7 L407.9,1525.6 L408.1,1527.3 L406.2,1528.6 L404.9,1527.8 L404.4,1527.0 L404.2,1525.8 L405.6,1524.9 L407.0,1523.5Z M382.0,1547.9 L381.7,1549.3 L381.3,1550.7 L379.6,1551.7 L378.6,1550.7 L377.4,1550.5 L377.0,1549.6 L378.1,1548.5 L379.3,1547.4 L380.3,1548.1Z M411.3,1529.7 L410.0,1530.8 L408.7,1531.6 L406.6,1532.4 L404.8,1531.7 L404.0,1530.5 L406.2,1529.3 L408.2,1528.3 L410.5,1528.6Z M388.7,1558.2 L387.9,1559.8 L385.6,1560.8 L382.9,1561.3 L382.0,1559.9 L381.2,1559.2 L380.3,1557.9 L382.5,1556.9 L384.7,1557.4 L386.6,1557.4Z M323.9,1560.5 L323.9,1561.6 L322.4,1563.3 L318.6,1564.6 L317.7,1562.8 L315.1,1561.9 L318.6,1560.3 L321.1,1559.4 L324.2,1558.8Z M431.0,1506.5 L431.4,1507.8 L430.0,1509.8 L427.8,1510.5 L425.1,1511.9 L426.0,1509.7 L424.9,1508.3 L427.7,1506.8 L429.8,1505.9Z M297.5,1565.7 L297.4,1566.9 L296.2,1566.8 L295.6,1566.5 L294.6,1565.8 L295.5,1564.8 L296.7,1564.7Z M331.5,1563.6 L330.2,1565.8 L326.5,1565.8 L323.7,1564.8 L325.4,1562.7 L329.8,1561.7Z M426.1,1525.8 L424.7,1527.0 L423.5,1527.8 L421.3,1528.4 L420.9,1527.3 L421.5,1526.3 L422.9,1525.8 L424.4,1525.4Z M352.5,1554.7 L351.8,1557.6 L349.0,1561.9 L346.8,1561.1 L346.9,1558.6 L349.7,1555.2Z M439.7,1512.2 L438.1,1514.3 L435.5,1515.9 L433.2,1516.6 L431.2,1517.0 L430.5,1516.3 L429.1,1515.5 L431.4,1513.7 L434.3,1512.1 L436.4,1512.5Z M423.1,1523.6 L422.9,1524.8 L420.6,1525.9 L417.6,1527.1 L416.5,1525.8 L415.4,1524.7 L416.4,1522.9 L419.8,1522.9 L423.9,1521.4Z M424.0,1514.1 L422.5,1516.1 L419.9,1518.2 L416.8,1518.3 L414.1,1517.2 L417.6,1514.0 L421.6,1513.9Z M357.3,1555.1 L357.5,1557.0 L355.2,1558.1 L353.9,1558.4 L351.9,1558.3 L353.8,1556.5 L355.5,1554.6Z M405.5,1526.9 L406.7,1527.6 L405.6,1529.2 L404.4,1531.1 L403.0,1530.5 L401.4,1530.3 L401.4,1528.4 L402.8,1526.4 L404.9,1525.3Z M455.7,1472.6 L454.8,1473.5 L453.8,1473.9 L452.8,1474.3 L452.0,1473.8 L451.4,1473.1 L451.8,1472.3 L452.6,1471.8 L453.7,1471.0 L454.4,1472.0Z M323.5,1566.8 L323.1,1569.7 L320.3,1571.5 L318.0,1572.3 L317.3,1570.0 L320.6,1566.9Z M447.9,1481.3 L448.3,1481.8 L447.5,1483.0 L445.9,1484.1 L445.4,1483.5 L444.0,1483.7 L444.7,1482.4 L446.1,1481.1 L447.3,1481.1Z M456.3,1483.9 L456.4,1485.4 L454.9,1485.9 L453.8,1485.3 L453.7,1483.9 L455.1,1483.6Z M446.5,1491.1 L448.1,1492.9 L445.9,1494.5 L443.3,1494.6 L442.0,1491.9 L444.6,1489.7Z M367.5,1545.3 L365.5,1547.6 L360.0,1548.8 L356.5,1546.9 L360.8,1544.9 L364.5,1544.0Z M408.8,1531.9 L408.0,1532.6 L407.5,1533.0 L406.9,1533.3 L405.8,1533.4 L405.6,1532.5 L405.7,1531.5 L406.4,1531.0 L407.2,1531.2 L407.8,1531.4Z M462.3,1477.3 L462.2,1478.1 L461.4,1478.7 L460.4,1478.6 L459.8,1478.5 L459.2,1478.2 L458.6,1477.5 L459.8,1476.9 L460.8,1477.0 L461.8,1476.8Z M351.1,1549.2 L351.4,1550.9 L348.3,1553.0 L345.3,1554.0 L344.6,1552.7 L346.6,1550.5 L349.0,1549.7Z M419.6,1527.8 L419.9,1528.7 L418.8,1529.0 L417.9,1528.8 L416.9,1528.6 L416.8,1527.6 L417.9,1527.3 L418.5,1526.7 L419.5,1527.0Z M455.2,1485.5 L455.2,1486.2 L454.7,1486.8 L453.7,1487.6 L452.8,1487.0 L452.8,1486.2 L452.5,1485.5 L453.4,1485.1 L454.1,1484.2 L455.2,1484.6Z M374.2,1553.0 L374.0,1554.6 L372.6,1556.4 L370.5,1558.3 L369.5,1557.6 L369.5,1556.3 L370.4,1554.1 L372.8,1552.8Z M348.8,1567.8 L349.8,1568.8 L348.1,1571.2 L345.6,1572.1 L343.8,1572.0 L344.6,1570.1 L344.9,1567.5 L347.7,1567.3Z M329.3,1565.4 L328.3,1566.6 L326.6,1568.0 L324.5,1567.4 L321.5,1567.9 L322.0,1566.7 L323.4,1565.6 L325.7,1564.7 L328.1,1564.6Z M348.7,1554.3 L349.2,1554.9 L348.2,1556.0 L347.8,1556.9 L347.1,1557.0 L346.5,1557.1 L346.6,1556.4 L346.6,1555.8 L347.2,1555.0 L347.8,1554.8Z M466.0,1469.8 L466.1,1472.2 L465.3,1474.8 L462.8,1476.0 L460.6,1476.2 L460.2,1474.0 L462.0,1472.1 L463.5,1470.9Z M321.5,1559.2 L319.4,1561.7 L315.9,1564.1 L312.6,1563.4 L311.5,1562.5 L310.0,1560.9 L314.3,1559.2 L318.4,1558.4Z M300.6,1566.9 L299.6,1568.4 L297.2,1568.7 L294.9,1569.2 L295.3,1568.0 L296.2,1566.6 L298.5,1566.7Z M370.4,1552.5 L371.3,1553.8 L368.8,1556.7 L365.8,1558.0 L364.7,1557.2 L363.7,1556.1 L365.6,1552.8 L369.7,1550.8Z M344.8,1557.2 L344.0,1558.9 L340.6,1559.6 L337.9,1559.7 L336.1,1559.1 L338.1,1557.8 L340.0,1556.8 L343.1,1556.3Z M353.8,1548.7 L353.9,1549.5 L354.0,1550.7 L352.8,1551.2 L352.1,1550.2 L351.2,1549.7 L351.9,1548.9 L352.3,1548.1 L353.2,1548.3Z M448.4,1481.1 L448.4,1482.3 L449.3,1483.8 L447.5,1484.0 L446.4,1484.8 L445.8,1483.6 L444.7,1483.0 L445.4,1481.9 L446.2,1481.2 L447.3,1480.6Z M452.3,1490.8 L452.5,1492.0 L450.5,1492.4 L449.4,1492.5 L447.5,1492.8 L447.8,1491.6 L448.9,1490.9 L449.9,1490.4 L451.5,1489.8Z M466.6,1473.2 L467.5,1473.8 L466.6,1474.6 L465.8,1475.2 L464.7,1475.1 L464.4,1473.9 L465.3,1473.2 L466.0,1472.1Z M459.4,1484.9 L459.4,1486.3 L458.2,1487.0 L457.0,1486.9 L456.6,1485.5 L458.1,1484.6Z M324.4,1569.9 L324.6,1570.9 L323.7,1571.5 L322.8,1571.6 L322.5,1570.9 L322.5,1570.0 L323.5,1569.6Z M334.5,1561.8 L334.6,1563.4 L332.5,1564.7 L331.5,1563.8 L331.3,1562.6 L333.0,1561.9Z M466.9,1466.0 L465.9,1468.4 L465.1,1469.7 L463.8,1471.1 L461.6,1472.2 L462.5,1469.9 L463.0,1467.9 L465.1,1466.0Z M296.1,1565.3 L295.6,1566.6 L293.8,1568.1 L290.6,1569.5 L288.3,1569.1 L289.7,1567.3 L289.4,1565.9 L292.5,1564.8 L294.3,1565.1Z M402.8,1526.8 L402.3,1528.7 L402.2,1530.3 L400.6,1532.0 L398.6,1531.9 L396.8,1531.5 L396.3,1529.7 L398.4,1528.3 L399.0,1525.6 L401.5,1525.2Z M435.9,1503.1 L436.8,1504.2 L435.5,1505.2 L434.4,1505.5 L432.9,1505.5 L433.3,1504.0 L434.1,1503.2 L435.2,1501.9Z M308.2,1568.3 L308.7,1568.9 L308.3,1569.9 L307.2,1570.2 L306.5,1570.1 L306.0,1569.6 L306.1,1568.8 L306.9,1568.4 L307.6,1568.1Z M342.8,1552.3 L342.6,1554.0 L340.8,1554.6 L339.1,1554.1 L339.6,1552.3 L341.3,1552.0Z M365.7,1543.3 L365.8,1544.1 L365.1,1545.2 L363.7,1545.1 L361.8,1545.4 L362.3,1544.0 L362.7,1542.9 L364.0,1542.2 L365.5,1542.3Z M467.6,1472.9 L466.2,1474.4 L464.7,1475.2 L463.1,1476.4 L461.3,1476.4 L460.6,1475.6 L461.8,1474.1 L464.0,1473.1 L465.3,1473.3Z M308.6,1571.3 L306.3,1572.5 L305.0,1573.0 L303.5,1572.8 L301.9,1572.2 L302.0,1570.6 L304.6,1569.8 L307.0,1570.1Z M361.2,1552.9 L360.9,1553.8 L361.1,1555.1 L358.8,1556.1 L356.7,1557.2 L356.0,1556.4 L355.3,1555.5 L357.7,1554.0 L359.0,1553.2 L360.7,1552.1Z M353.6,1548.7 L352.5,1549.9 L351.3,1550.8 L349.6,1551.5 L346.5,1552.0 L345.8,1550.5 L347.9,1548.7 L350.5,1547.3 L353.5,1547.1Z M454.5,1483.0 L454.2,1484.0 L453.6,1484.6 L452.3,1484.8 L452.7,1483.5 L453.5,1482.9Z M332.0,1558.6 L328.5,1561.8 L328.0,1563.6 L325.0,1565.3 L320.9,1567.4 L321.9,1564.6 L321.3,1563.5 L321.8,1561.2 L325.7,1559.9 L329.3,1558.3Z M333.0,1568.9 L332.8,1571.7 L326.8,1573.7 L322.0,1573.7 L320.7,1571.3 L325.1,1568.3 L329.4,1568.6Z M326.6,1562.5 L326.6,1563.1 L326.3,1563.9 L325.1,1564.2 L324.7,1563.6 L324.2,1563.3 L324.2,1562.5 L325.3,1562.3 L326.2,1561.9Z M423.1,1512.0 L422.2,1513.3 L420.0,1513.3 L418.2,1512.8 L419.2,1511.4 L421.5,1511.3Z M376.7,1539.2 L374.4,1542.2 L367.8,1544.0 L365.6,1541.9 L367.3,1539.3 L373.2,1537.6Z M324.9,1570.0 L325.2,1570.8 L323.5,1571.4 L321.8,1571.9 L321.3,1571.1 L320.6,1570.5 L321.8,1569.9 L323.0,1569.7 L324.5,1569.3Z M367.1,1544.0 L364.9,1546.6 L361.2,1548.0 L357.4,1548.1 L359.4,1545.3 L363.5,1543.9Z M398.5,1545.3 L399.1,1545.9 L398.0,1546.6 L396.8,1547.1 L395.2,1547.5 L395.0,1546.6 L394.7,1545.8 L396.0,1545.0 L397.3,1544.6 L398.6,1544.5Z M375.7,1548.2 L375.9,1549.2 L374.2,1549.8 L372.7,1549.9 L370.9,1549.8 L370.8,1548.7 L371.7,1547.5 L373.7,1547.1 L375.5,1547.2Z M243.4,1577.1 L243.3,1578.2 L243.3,1579.4 L241.9,1579.5 L240.7,1580.2 L239.2,1579.8 L239.3,1578.2 L240.0,1576.9 L241.3,1576.9 L242.6,1576.1Z M236.5,1584.7 L235.9,1587.2 L233.1,1588.3 L230.3,1589.0 L229.0,1586.9 L228.2,1585.5 L228.3,1583.8 L229.4,1581.3 L232.5,1581.7 L234.6,1583.0Z M249.9,1580.9 L248.8,1583.4 L245.6,1585.3 L242.3,1583.8 L242.9,1581.2 L244.1,1578.3 L247.4,1579.8Z M277.2,1574.0 L276.8,1575.9 L274.7,1578.4 L269.8,1581.5 L267.2,1579.4 L261.2,1579.8 L264.6,1576.3 L267.0,1573.2 L272.8,1570.8 L277.2,1571.4Z M229.2,1587.5 L228.6,1590.1 L225.3,1592.4 L223.5,1589.4 L222.1,1587.0 L224.4,1584.6 L228.7,1584.1Z M281.4,1569.0 L279.9,1570.7 L278.5,1571.6 L277.1,1570.7 L276.1,1569.1 L277.4,1567.3 L279.4,1567.8Z M220.3,1592.0 L213.8,1600.0 L201.8,1604.4 L195.7,1601.9 L199.2,1596.2 L209.5,1591.7Z M251.1,1582.7 L249.3,1583.6 L247.8,1584.0 L245.8,1584.1 L244.6,1583.0 L243.2,1581.4 L246.1,1581.1 L247.9,1581.2 L251.3,1580.8Z M214.7,1591.6 L215.4,1594.5 L213.1,1597.4 L209.8,1599.0 L206.4,1599.0 L204.4,1597.1 L205.9,1594.4 L206.4,1592.0 L209.1,1591.1 L211.0,1592.0Z M226.8,1590.3 L228.9,1594.5 L219.1,1594.5 L214.0,1594.7 L207.9,1593.9 L208.6,1590.6 L211.8,1587.4 L219.2,1584.2 L225.8,1586.8Z M236.9,1589.0 L229.9,1593.1 L221.1,1592.4 L212.5,1589.5 L220.3,1585.8 L231.0,1584.2Z M212.5,1593.0 L216.8,1595.4 L211.1,1601.5 L205.3,1601.4 L198.5,1603.1 L202.0,1597.3 L203.4,1590.9 L210.1,1591.3Z M269.2,1570.2 L267.7,1575.6 L262.8,1581.3 L257.2,1582.4 L253.7,1580.7 L256.9,1574.5 L262.9,1572.8Z M244.1,1580.4 L244.9,1582.1 L245.1,1584.9 L242.1,1585.7 L238.8,1589.3 L238.2,1585.4 L236.6,1583.7 L235.6,1580.0 L239.7,1578.1 L242.6,1579.0Z M26.6,1585.6 L24.9,1588.0 L21.9,1588.8 L18.6,1587.0 L20.1,1583.7 L22.5,1581.9 L26.0,1582.2Z M31.3,1580.7 L28.6,1581.8 L25.8,1580.9 L25.0,1579.8 L25.3,1577.9 L28.9,1579.0Z M119.8,1599.9 L116.5,1601.0 L112.4,1601.9 L107.4,1599.8 L106.9,1597.3 L108.9,1595.7 L113.7,1595.1 L118.5,1597.3Z M130.0,1600.5 L130.5,1602.1 L128.6,1603.1 L126.2,1603.6 L124.3,1602.6 L121.9,1601.1 L122.6,1598.7 L126.1,1598.5 L128.3,1597.9 L129.8,1599.1Z M130.3,1605.3 L129.3,1606.4 L128.1,1606.4 L127.1,1606.0 L127.3,1604.8 L128.1,1603.9 L129.3,1604.1Z M87.8,1593.8 L85.8,1595.8 L82.7,1596.1 L79.2,1595.7 L81.7,1593.6 L84.7,1593.3Z M65.0,1587.2 L66.8,1588.7 L63.2,1589.7 L59.2,1590.0 L57.7,1588.5 L58.8,1587.2 L58.9,1585.4 L62.7,1585.6 L64.4,1586.4Z M93.5,1599.7 L90.5,1600.3 L88.0,1600.4 L85.1,1599.7 L83.0,1598.3 L84.1,1597.1 L84.9,1595.2 L89.7,1595.2 L93.2,1597.5Z M189.3,1598.8 L189.3,1600.6 L187.3,1601.6 L185.4,1600.7 L183.1,1601.0 L181.5,1599.5 L182.5,1597.6 L184.3,1596.1 L187.0,1595.7 L188.0,1597.7Z M183.0,1603.4 L180.4,1603.7 L178.4,1603.8 L175.4,1602.8 L175.2,1600.3 L177.7,1599.8 L179.8,1600.1 L182.2,1601.2Z M182.8,1599.6 L183.7,1602.0 L179.4,1601.8 L176.4,1600.2 L174.2,1599.0 L172.1,1597.2 L172.5,1594.9 L176.5,1594.1 L181.1,1595.6 L183.9,1597.8Z M57.7,1585.0 L57.2,1586.9 L53.2,1587.3 L49.4,1587.9 L46.6,1586.6 L47.9,1584.8 L49.4,1583.3 L53.2,1582.5 L57.5,1583.0Z M176.6,1600.0 L176.9,1600.8 L176.1,1601.5 L174.9,1601.3 L173.7,1601.1 L173.9,1600.3 L173.8,1599.5 L174.3,1598.4 L175.6,1599.2 L177.1,1599.0Z M145.1,1606.1 L143.5,1606.2 L141.2,1605.6 L141.6,1604.3 L142.5,1603.4 L144.2,1604.8Z M44.8,1585.6 L42.7,1586.7 L38.4,1586.3 L34.0,1583.1 L33.4,1580.0 L37.9,1580.7 L40.9,1581.1 L43.9,1583.2Z M120.5,1596.7 L118.1,1597.8 L114.8,1598.3 L111.5,1596.6 L110.1,1595.1 L108.8,1593.3 L112.2,1593.1 L115.3,1593.8 L118.7,1594.8Z M150.8,1601.1 L148.7,1603.5 L146.1,1603.1 L144.8,1601.2 L146.4,1599.7 L149.1,1598.0Z M185.5,1601.0 L187.8,1604.2 L181.3,1601.9 L177.0,1602.1 L173.1,1599.9 L170.3,1597.0 L175.4,1596.6 L178.3,1595.0 L183.7,1597.1 L186.6,1599.4Z M41.9,1586.9 L40.7,1588.1 L37.4,1586.9 L34.7,1584.8 L33.6,1582.4 L36.3,1582.1 L39.5,1583.1 L40.6,1585.1Z M99.4,1592.6 L97.6,1593.5 L94.5,1592.9 L93.2,1591.5 L92.4,1589.9 L95.4,1590.3 L98.5,1590.9Z M94.0,1595.9 L91.9,1597.2 L89.7,1598.2 L86.9,1597.7 L85.1,1596.5 L85.4,1595.0 L86.9,1593.7 L89.9,1593.2 L91.5,1594.8Z M30.4,1579.5 L29.8,1580.9 L28.1,1581.5 L26.3,1580.5 L26.3,1578.5 L28.2,1577.7 L30.0,1577.8Z M172.6,1598.1 L170.5,1600.3 L164.0,1599.9 L161.0,1597.5 L162.3,1596.0 L165.3,1595.5 L170.4,1595.7Z M182.8,1597.0 L182.6,1598.2 L181.5,1599.3 L180.2,1598.2 L178.8,1597.9 L179.2,1596.6 L179.8,1595.8 L180.6,1595.5 L181.9,1594.6 L182.4,1596.0Z M65.3,1586.7 L64.4,1587.0 L62.6,1587.2 L60.8,1585.9 L61.2,1584.7 L63.4,1584.5 L64.8,1585.8Z M176.9,1604.6 L173.6,1604.8 L170.0,1603.9 L167.0,1601.7 L166.3,1599.9 L165.1,1597.4 L168.7,1597.8 L171.7,1599.9 L173.9,1601.7Z M1832.0,391.5 L1831.5,391.8 L1831.2,391.0 L1831.1,390.2 L1831.5,389.9 L1831.7,389.0 L1832.3,389.2 L1832.5,390.1 L1832.4,390.7 L1832.2,391.1Z M1828.7,393.2 L1829.8,390.5 L1831.5,388.7 L1834.2,388.5 L1834.4,391.3 L1831.6,393.1Z M1871.5,355.6 L1869.9,356.2 L1868.8,357.1 L1866.4,357.1 L1866.7,355.3 L1865.9,353.8 L1867.9,353.6 L1869.6,353.0 L1871.8,353.9Z M1857.5,349.8 L1857.7,348.7 L1859.7,347.6 L1862.2,348.0 L1862.4,349.7 L1860.4,351.1 L1857.8,351.1Z M1828.2,391.8 L1826.9,392.5 L1825.1,391.6 L1824.2,390.2 L1824.7,389.0 L1826.5,388.9 L1827.3,390.4Z M1845.8,377.3 L1845.1,377.3 L1844.2,376.9 L1844.5,376.3 L1845.0,375.8 L1845.6,376.7Z M1840.2,384.4 L1839.4,385.6 L1837.0,384.8 L1836.3,383.6 L1836.3,382.6 L1837.8,382.0 L1840.1,382.9Z M1821.7,395.1 L1824.0,393.8 L1825.7,393.1 L1827.9,392.9 L1829.5,393.8 L1829.1,395.4 L1826.4,397.0 L1823.7,396.0Z M1831.4,374.9 L1831.1,374.2 L1831.9,373.6 L1832.9,373.5 L1833.2,374.5 L1832.2,375.4Z M1841.0,376.8 L1839.9,377.3 L1838.8,377.9 L1838.3,376.7 L1837.3,375.6 L1838.7,375.0 L1839.6,375.2 L1840.5,375.7Z M1849.1,375.9 L1848.5,375.0 L1848.0,373.5 L1849.0,372.1 L1850.2,372.3 L1850.6,373.9 L1850.0,375.4Z M1855.1,372.7 L1854.8,371.9 L1854.9,371.0 L1855.1,370.2 L1855.5,369.2 L1856.1,369.6 L1856.4,370.1 L1856.7,370.6 L1856.5,371.6 L1855.9,372.4Z M1828.3,385.8 L1828.0,386.9 L1825.7,387.4 L1823.6,386.7 L1824.0,385.6 L1824.2,384.9 L1825.7,384.7 L1827.8,384.7Z M1851.1,373.3 L1849.8,373.3 L1848.6,372.5 L1848.3,370.8 L1850.0,371.3 L1850.9,372.0Z M1867.8,348.4 L1867.3,348.1 L1867.3,347.3 L1867.6,346.2 L1868.7,345.9 L1869.4,346.8 L1869.5,348.0 L1868.7,349.1Z M1877.8,351.1 L1876.5,351.1 L1875.7,349.5 L1876.5,348.3 L1877.4,348.5 L1878.2,349.0 L1878.5,350.2Z M1866.8,351.4 L1865.5,351.8 L1864.9,349.3 L1865.4,347.5 L1865.5,345.0 L1866.8,345.9 L1868.0,346.7 L1867.8,348.8 L1867.4,350.1Z M1873.8,348.1 L1873.7,347.0 L1874.1,345.8 L1875.1,345.6 L1875.9,345.9 L1876.0,347.1 L1874.9,347.9Z M1866.4,354.8 L1865.7,354.2 L1866.0,353.4 L1866.6,352.7 L1867.5,353.0 L1867.7,353.8 L1867.5,354.3 L1867.1,354.9Z M1860.8,357.6 L1860.4,356.9 L1860.6,355.9 L1861.6,355.5 L1862.7,355.6 L1863.0,356.8 L1862.4,357.6 L1861.5,357.9Z M1867.0,352.9 L1866.6,353.8 L1865.0,353.6 L1863.5,352.5 L1863.0,351.1 L1863.4,350.3 L1864.6,350.5 L1865.5,349.8 L1866.5,351.1 L1867.2,352.1Z M1875.7,350.3 L1875.3,349.3 L1876.6,347.3 L1878.5,347.1 L1879.4,347.8 L1878.8,349.7 L1876.8,350.3Z M1826.2,392.0 L1825.9,390.4 L1826.3,388.8 L1827.6,388.4 L1829.3,388.1 L1828.7,390.1 L1827.9,391.6Z M1859.9,364.4 L1859.0,363.0 L1860.4,360.8 L1861.3,358.8 L1863.3,357.5 L1864.4,358.6 L1865.6,359.5 L1863.8,361.4 L1863.6,363.9 L1861.8,363.3Z M1860.3,374.0 L1858.5,373.4 L1857.4,372.4 L1856.6,371.3 L1857.0,370.6 L1857.7,369.7 L1859.0,370.8 L1860.6,372.3Z M1831.1,378.8 L1832.3,377.4 L1833.6,375.9 L1835.3,376.9 L1838.0,377.6 L1835.7,379.1 L1834.4,380.0 L1832.6,379.8Z M1872.5,349.8 L1872.7,348.8 L1873.4,347.9 L1874.4,348.3 L1875.3,348.7 L1875.8,349.8 L1874.8,350.4 L1874.0,350.8 L1872.8,350.8Z M1827.6,398.1 L1826.4,397.6 L1825.3,397.4 L1825.3,396.2 L1825.0,395.3 L1825.4,394.4 L1826.5,394.8 L1827.2,395.8 L1827.4,396.7Z M1864.5,348.7 L1863.9,348.6 L1863.2,348.2 L1863.3,347.3 L1864.0,346.7 L1864.9,346.8 L1864.9,347.7 L1864.8,348.2Z M1832.5,375.7 L1832.1,376.4 L1831.0,376.6 L1830.3,375.7 L1829.4,375.3 L1829.6,374.7 L1829.6,373.9 L1830.7,374.1 L1831.4,374.6 L1832.0,375.0Z M1838.6,385.9 L1837.5,384.9 L1837.9,383.1 L1838.4,381.6 L1839.7,380.6 L1841.0,381.0 L1841.2,382.3 L1841.8,383.3 L1841.5,385.1 L1840.0,386.0Z M1855.4,374.4 L1855.3,373.4 L1855.9,372.6 L1856.3,371.9 L1857.1,371.3 L1857.2,372.2 L1858.0,372.6 L1857.2,373.6 L1856.3,374.3Z M1849.9,374.2 L1848.3,373.8 L1846.6,373.2 L1846.8,371.5 L1847.7,370.7 L1848.9,369.5 L1850.7,370.7 L1850.2,372.6Z M1829.0,375.7 L1828.2,375.0 L1828.9,373.1 L1830.3,371.9 L1830.7,373.7 L1829.8,375.3Z M1833.4,385.7 L1831.3,387.0 L1828.6,387.1 L1825.2,387.3 L1825.5,385.5 L1825.0,383.5 L1828.7,384.1 L1832.2,383.8Z M1831.4,380.0 L1831.5,378.5 L1832.4,376.8 L1833.8,376.2 L1834.8,376.4 L1834.0,378.1 L1832.9,379.2Z M1860.1,360.4 L1859.7,358.4 L1861.8,356.5 L1863.6,355.9 L1865.7,356.3 L1864.4,359.0 L1862.0,361.7Z M1870.1,357.6 L1868.9,359.1 L1867.2,358.2 L1866.9,356.5 L1868.3,355.5 L1869.9,355.9Z M1860.9,363.3 L1860.0,362.5 L1861.3,361.8 L1862.1,361.4 L1862.8,361.8 L1863.7,362.6 L1862.7,363.7 L1861.5,363.6Z M1827.9,393.9 L1827.5,393.3 L1827.3,392.4 L1828.0,391.9 L1828.6,391.4 L1829.0,392.1 L1829.0,392.9 L1828.7,394.1Z M1826.9,385.1 L1826.5,383.9 L1825.9,383.0 L1826.7,382.3 L1827.3,382.2 L1827.8,382.4 L1827.8,383.2 L1827.9,384.5Z M1837.1,375.8 L1835.9,376.4 L1834.1,375.8 L1833.3,375.1 L1832.6,374.3 L1833.6,374.1 L1834.7,374.1 L1835.9,374.7Z M1867.8,358.2 L1867.3,357.6 L1867.0,356.8 L1867.4,356.2 L1868.2,356.2 L1868.5,357.7Z M1852.9,363.5 L1852.2,362.5 L1852.3,361.3 L1852.2,359.8 L1853.5,359.7 L1854.4,360.0 L1854.8,360.9 L1855.0,362.2 L1854.0,362.9Z M1853.5,362.0 L1852.2,360.1 L1851.0,359.2 L1850.4,356.9 L1851.2,355.7 L1852.2,355.8 L1853.1,356.9 L1853.5,358.3 L1853.4,359.4Z M1824.6,384.8 L1824.9,382.5 L1827.0,380.8 L1828.9,381.4 L1828.1,383.2 L1826.9,384.6Z M1877.2,347.5 L1876.2,348.0 L1875.2,348.6 L1874.1,347.8 L1874.2,347.0 L1874.3,346.0 L1875.6,346.2 L1876.6,346.7Z M1865.3,368.7 L1864.3,368.5 L1864.3,367.4 L1864.3,366.6 L1865.0,366.1 L1865.7,366.2 L1866.2,366.5 L1867.2,367.0 L1867.0,368.1 L1866.2,368.6Z M1855.2,348.1 L1855.2,346.6 L1857.2,346.1 L1859.0,346.8 L1858.2,348.1 L1857.4,348.9 L1856.0,349.0Z M1844.0,371.2 L1842.5,371.7 L1840.5,371.0 L1838.1,369.6 L1839.0,368.1 L1839.7,367.3 L1840.9,366.6 L1843.5,367.4 L1845.3,369.9Z M1866.4,357.6 L1865.8,356.9 L1866.2,355.6 L1867.3,355.3 L1867.8,355.4 L1868.0,355.9 L1867.8,356.6 L1867.3,357.8Z M1857.0,366.8 L1858.1,364.9 L1859.5,363.7 L1861.6,363.0 L1862.9,364.1 L1862.2,365.8 L1861.1,367.2 L1858.7,368.1Z M1831.0,391.4 L1829.4,392.6 L1827.0,391.9 L1825.9,389.7 L1828.0,388.7 L1830.3,389.5Z M1832.2,390.6 L1831.2,390.1 L1831.5,388.0 L1832.7,387.0 L1833.3,388.6 L1833.5,390.5Z M1832.5,381.6 L1831.8,381.4 L1832.1,380.5 L1832.8,379.8 L1833.6,379.6 L1833.9,380.1 L1834.0,380.5 L1833.8,381.0 L1833.4,381.4 L1832.8,381.9Z M1852.5,367.7 L1851.8,368.2 L1851.1,368.4 L1850.9,367.6 L1851.2,366.9 L1852.1,366.9Z M1833.8,383.9 L1832.5,385.6 L1830.4,384.4 L1829.0,383.6 L1829.5,382.3 L1830.8,380.7 L1833.2,381.8Z M1838.9,382.2 L1839.9,381.2 L1840.7,380.7 L1841.6,381.0 L1842.7,381.6 L1842.2,382.7 L1841.1,383.2 L1840.0,383.0Z M1853.3,376.4 L1852.2,376.1 L1851.3,375.7 L1851.6,374.6 L1852.7,374.6 L1853.4,375.2Z M1825.5,388.1 L1823.2,388.4 L1824.8,385.2 L1825.4,382.6 L1827.3,381.6 L1828.4,383.5 L1828.4,386.2 L1826.9,388.2Z M1852.6,364.5 L1852.0,363.9 L1852.0,362.9 L1853.0,362.7 L1853.5,362.1 L1854.5,362.0 L1854.2,363.1 L1854.9,363.8 L1854.3,364.7 L1853.4,364.3Z M1854.7,369.3 L1853.0,369.0 L1851.8,368.3 L1849.9,367.4 L1849.3,365.4 L1850.4,364.3 L1852.4,365.6 L1853.8,366.3 L1854.7,367.8Z M1823.1,392.3 L1823.2,390.4 L1826.5,388.8 L1828.0,390.4 L1828.4,391.4 L1827.9,393.7 L1824.8,392.9Z M1831.1,390.5 L1830.3,389.6 L1829.4,388.1 L1829.9,385.9 L1831.1,385.7 L1832.0,386.5 L1832.5,388.1 L1832.1,390.0Z M1876.1,359.9 L1875.2,359.7 L1874.7,360.0 L1874.3,359.4 L1873.6,359.0 L1874.1,358.7 L1874.3,358.4 L1874.8,358.6 L1875.3,358.8 L1876.2,359.3Z M1837.0,382.7 L1836.2,381.4 L1836.6,379.8 L1836.1,378.2 L1837.3,377.3 L1838.6,376.6 L1839.2,378.1 L1839.7,379.2 L1839.2,380.8 L1838.3,381.9Z M1830.9,391.1 L1829.9,392.2 L1828.5,391.5 L1827.3,390.8 L1827.0,389.4 L1827.7,388.1 L1829.2,388.1 L1830.7,388.3 L1830.8,389.8Z M1863.1,351.4 L1863.4,349.0 L1865.2,347.4 L1867.2,348.4 L1868.0,349.9 L1867.3,351.7 L1865.1,352.9Z M1867.8,356.3 L1866.6,355.8 L1865.6,353.9 L1866.2,352.2 L1867.2,351.5 L1868.3,353.3 L1868.6,355.5Z M1850.5,363.2 L1853.2,361.6 L1856.0,360.1 L1857.8,361.7 L1856.6,363.7 L1853.5,363.7Z M1865.4,368.8 L1864.5,368.5 L1864.0,367.3 L1864.0,366.3 L1864.0,365.0 L1864.8,364.8 L1865.6,365.5 L1866.0,366.8 L1865.9,367.9Z M1844.1,375.6 L1844.8,374.7 L1845.2,374.2 L1845.9,373.8 L1846.7,373.8 L1847.3,374.2 L1847.3,375.0 L1847.1,376.1 L1845.9,375.7 L1844.6,376.4Z M1847.6,368.7 L1848.8,367.3 L1850.9,366.4 L1852.5,367.5 L1851.0,368.9 L1849.0,369.7Z M1857.8,350.8 L1858.2,350.3 L1858.7,349.8 L1859.5,349.9 L1859.8,350.5 L1859.8,351.3 L1858.8,351.3 L1858.2,351.2Z M1865.7,349.7 L1865.2,347.8 L1865.4,345.4 L1867.6,346.0 L1868.1,347.5 L1867.7,349.4Z M1845.4,369.9 L1844.7,370.4 L1843.3,369.6 L1842.7,367.4 L1843.0,365.7 L1844.1,366.0 L1845.0,364.4 L1845.8,366.7 L1846.7,368.3 L1845.9,369.2Z M1856.0,369.9 L1855.2,369.1 L1854.5,367.7 L1855.1,366.3 L1856.2,366.2 L1857.2,367.4 L1857.0,369.3Z M1855.8,373.3 L1854.7,372.9 L1853.8,373.1 L1852.9,372.0 L1853.4,371.3 L1853.5,370.4 L1854.5,370.9 L1855.0,371.6 L1855.3,372.2Z M1843.9,382.6 L1843.4,380.2 L1842.3,378.1 L1844.0,376.3 L1845.7,374.7 L1846.1,377.3 L1847.0,379.2 L1845.7,381.9Z M1874.5,352.7 L1872.5,351.8 L1871.4,349.7 L1872.3,347.8 L1872.2,345.3 L1874.0,345.8 L1875.7,346.5 L1876.0,348.8 L1875.0,350.1Z M1834.9,377.6 L1834.2,378.5 L1832.6,377.5 L1832.0,376.4 L1833.2,376.1 L1835.1,376.5Z M1828.8,385.5 L1829.0,384.3 L1829.0,383.6 L1829.6,382.7 L1830.3,382.4 L1831.2,382.4 L1830.7,383.6 L1830.3,384.4 L1829.6,385.4Z M1867.0,362.3 L1867.1,361.7 L1867.1,361.1 L1867.7,360.7 L1868.2,360.8 L1868.6,361.2 L1868.4,361.7 L1868.3,362.4 L1867.6,362.4Z M1861.6,355.9 L1859.4,354.2 L1857.9,351.8 L1857.9,349.0 L1860.2,351.0 L1861.7,353.2Z M1828.6,377.3 L1828.9,376.2 L1829.5,374.7 L1831.5,374.5 L1831.9,375.8 L1832.7,377.0 L1831.3,378.6 L1829.7,377.7Z M1863.4,360.4 L1863.0,359.0 L1864.9,357.1 L1866.5,357.4 L1866.3,359.0 L1864.8,360.2Z M1852.5,375.5 L1852.1,374.6 L1852.8,373.9 L1853.7,373.1 L1854.7,373.8 L1855.0,374.9 L1854.3,375.9 L1853.3,375.6Z M1835.6,382.2 L1835.9,381.1 L1835.7,380.4 L1836.4,379.5 L1837.3,378.8 L1838.1,378.8 L1837.9,379.9 L1837.9,380.6 L1837.4,381.8 L1836.5,381.8Z M1834.5,380.4 L1833.1,380.0 L1833.2,378.0 L1834.1,376.4 L1835.7,376.7 L1836.6,378.3 L1835.5,379.6Z M1853.8,367.8 L1853.1,365.5 L1854.1,362.9 L1856.4,362.2 L1858.1,363.2 L1857.3,365.4 L1856.0,366.5Z M1268.2,1138.4 L1268.4,1140.4 L1265.4,1140.3 L1264.1,1138.7 L1264.1,1137.2 L1266.1,1136.9 L1268.0,1137.1Z M1231.1,1139.6 L1230.2,1139.0 L1230.9,1137.1 L1232.6,1136.1 L1233.4,1137.1 L1232.7,1138.6 L1231.9,1139.4Z M1274.1,1112.7 L1273.0,1112.5 L1271.9,1111.1 L1271.7,1108.7 L1273.2,1108.3 L1274.1,1108.6 L1275.0,1109.0 L1275.6,1110.7 L1274.7,1111.7Z M1277.7,1135.8 L1278.4,1134.7 L1279.8,1134.2 L1281.5,1134.4 L1281.1,1135.7 L1280.1,1136.4 L1278.5,1136.8Z M1268.1,1137.4 L1266.9,1136.8 L1265.3,1136.7 L1265.7,1135.2 L1266.3,1134.4 L1267.3,1134.1 L1268.0,1135.1 L1269.2,1136.5Z M1238.3,1144.2 L1236.9,1144.2 L1236.5,1141.9 L1237.3,1139.9 L1238.6,1139.1 L1240.1,1139.8 L1240.5,1142.2 L1239.7,1144.4Z M1272.5,1131.7 L1272.2,1130.9 L1272.8,1130.0 L1273.9,1129.7 L1274.9,1130.1 L1275.8,1130.8 L1275.3,1131.8 L1274.9,1132.8 L1273.7,1133.3 L1272.8,1132.5Z M1268.9,1137.0 L1268.7,1133.2 L1268.7,1129.7 L1271.2,1130.0 L1272.7,1131.4 L1271.6,1134.5Z M1232.3,1136.8 L1231.0,1137.8 L1228.4,1139.1 L1226.5,1136.7 L1227.9,1134.6 L1230.0,1133.3 L1232.6,1134.6Z M1254.5,1124.0 L1254.3,1124.8 L1252.9,1124.6 L1251.7,1123.8 L1250.8,1122.6 L1252.4,1122.5 L1253.7,1122.2 L1255.3,1123.2Z M1266.0,1113.4 L1265.2,1112.8 L1266.1,1111.5 L1267.3,1110.6 L1268.3,1110.7 L1269.0,1111.2 L1268.7,1112.3 L1268.0,1113.6 L1266.7,1113.9Z M1254.9,1137.4 L1256.9,1136.4 L1258.7,1135.2 L1261.2,1135.9 L1259.8,1137.2 L1258.8,1138.1 L1256.7,1138.1Z M1261.1,1127.7 L1260.0,1128.2 L1259.3,1127.0 L1258.5,1125.9 L1259.5,1125.6 L1260.5,1125.5 L1261.4,1126.5Z M1263.6,1126.6 L1263.4,1125.4 L1264.8,1124.1 L1266.8,1123.5 L1267.3,1124.7 L1266.8,1125.7 L1266.3,1127.0 L1265.0,1126.7Z M1243.8,1141.8 L1242.6,1142.0 L1243.2,1140.3 L1243.9,1139.3 L1244.7,1137.7 L1245.6,1137.9 L1246.5,1138.4 L1245.6,1140.1 L1245.4,1141.4 L1244.4,1143.0Z M1232.4,1141.0 L1231.3,1140.1 L1229.3,1139.8 L1230.3,1137.9 L1230.2,1136.0 L1231.7,1135.4 L1233.5,1135.0 L1234.7,1136.9 L1234.2,1138.8 L1233.6,1140.2Z M1233.4,1137.2 L1234.3,1135.2 L1235.4,1133.3 L1237.8,1133.4 L1239.4,1135.2 L1237.5,1137.2 L1235.3,1138.6Z M1252.6,1135.7 L1250.4,1134.9 L1249.0,1132.0 L1250.1,1131.0 L1251.4,1131.2 L1253.3,1133.5Z M1272.0,1122.3 L1271.6,1123.2 L1269.7,1123.0 L1269.3,1122.1 L1269.9,1121.4 L1271.8,1121.3Z M1220.9,1139.8 L1219.7,1139.8 L1218.9,1138.1 L1219.5,1137.1 L1220.2,1136.9 L1221.4,1137.1 L1221.6,1138.9Z M1265.4,1103.0 L1263.8,1104.7 L1260.5,1104.9 L1259.5,1102.7 L1261.5,1101.7 L1263.7,1101.4Z M1266.5,1140.4 L1265.2,1140.0 L1264.3,1138.7 L1263.8,1137.0 L1264.3,1135.6 L1265.3,1135.5 L1266.2,1135.5 L1267.4,1136.2 L1267.4,1137.9 L1267.6,1139.8Z M1270.4,1104.9 L1268.3,1104.4 L1267.5,1102.1 L1269.2,1101.2 L1270.9,1101.3 L1271.4,1103.2Z M1261.7,1140.8 L1261.4,1140.1 L1261.6,1139.1 L1262.6,1138.3 L1263.3,1139.1 L1264.2,1139.6 L1263.8,1141.2 L1262.4,1141.0Z M1252.3,1145.0 L1252.3,1144.4 L1252.5,1143.6 L1253.4,1143.4 L1254.1,1143.7 L1254.3,1144.4 L1253.6,1145.3 L1252.6,1145.6Z M1267.1,1107.3 L1265.8,1106.8 L1266.4,1104.4 L1268.2,1103.0 L1269.8,1102.0 L1271.1,1102.6 L1270.7,1104.6 L1269.3,1106.0 L1268.2,1107.8Z M1235.1,1141.5 L1234.0,1141.0 L1234.1,1139.3 L1234.7,1138.4 L1235.5,1139.1 L1235.6,1140.4Z M1271.8,1133.9 L1272.3,1132.0 L1271.8,1130.5 L1273.4,1129.6 L1274.5,1129.8 L1275.7,1129.9 L1276.3,1131.3 L1274.5,1132.3 L1273.5,1133.4Z M1268.0,1125.0 L1266.4,1124.5 L1266.2,1122.8 L1266.9,1120.9 L1268.7,1122.1 L1269.2,1123.8Z M1262.5,1121.8 L1261.7,1121.7 L1260.6,1121.8 L1260.7,1120.5 L1260.3,1119.5 L1261.0,1118.6 L1262.0,1119.7 L1262.6,1120.1 L1263.6,1121.3Z M1236.9,1137.2 L1236.1,1137.7 L1235.5,1136.1 L1235.5,1134.8 L1235.1,1133.1 L1235.8,1132.3 L1236.8,1133.0 L1237.5,1134.1 L1237.7,1135.5 L1237.4,1136.4Z M1261.4,1118.0 L1259.8,1118.8 L1257.1,1118.4 L1256.8,1116.2 L1256.4,1113.8 L1259.5,1114.0 L1261.4,1116.2Z M1277.1,1124.6 L1274.8,1125.7 L1272.0,1126.5 L1270.2,1124.2 L1266.9,1122.9 L1269.2,1121.9 L1270.5,1120.9 L1273.6,1120.6 L1275.5,1122.6Z M1257.5,1133.5 L1255.6,1133.3 L1253.6,1132.3 L1252.7,1130.3 L1253.6,1129.1 L1255.8,1129.7 L1257.3,1131.7Z M1262.3,1134.8 L1260.6,1135.1 L1258.3,1134.1 L1256.6,1132.0 L1257.8,1130.7 L1260.2,1131.2 L1262.6,1133.0Z M1267.2,1111.9 L1268.5,1110.3 L1270.1,1109.4 L1272.2,1108.8 L1273.3,1109.8 L1275.3,1110.3 L1275.1,1111.9 L1272.7,1112.6 L1271.0,1112.7 L1269.7,1112.3Z M1259.8,1128.0 L1259.9,1125.2 L1261.8,1122.8 L1263.9,1121.0 L1265.7,1121.6 L1264.0,1124.5 L1262.4,1127.4Z M1207.5,1140.9 L1207.3,1140.5 L1207.6,1139.8 L1208.5,1139.8 L1209.3,1139.8 L1209.9,1140.1 L1209.6,1140.7 L1208.9,1141.1 L1208.2,1141.5 L1207.5,1141.4Z M1263.6,1115.3 L1261.6,1114.6 L1260.6,1113.4 L1259.7,1111.3 L1261.5,1110.2 L1264.0,1110.6 L1263.8,1113.2Z M1268.6,1108.1 L1269.3,1107.0 L1269.9,1106.0 L1271.3,1105.7 L1272.1,1106.3 L1271.6,1107.2 L1271.0,1108.2 L1270.0,1107.9Z M1239.3,1141.5 L1237.3,1140.4 L1236.5,1137.8 L1236.5,1134.9 L1238.9,1136.1 L1239.8,1139.3Z M1268.6,1118.3 L1268.8,1117.2 L1269.7,1116.2 L1271.0,1115.5 L1272.0,1116.0 L1271.3,1117.6 L1269.6,1118.6Z M1270.1,1110.5 L1269.4,1110.2 L1269.1,1109.4 L1269.7,1108.7 L1270.1,1108.1 L1270.7,1108.5 L1271.6,1108.3 L1271.2,1109.2 L1271.4,1109.9 L1270.8,1110.6Z M1272.6,1095.5 L1271.4,1096.0 L1269.8,1096.4 L1267.5,1095.4 L1266.9,1093.7 L1267.0,1092.4 L1268.3,1091.9 L1269.9,1091.5 L1272.0,1092.7 L1274.0,1094.5Z M1268.9,1094.0 L1268.4,1094.5 L1267.7,1093.9 L1267.2,1093.2 L1267.5,1092.4 L1268.6,1092.6 L1269.0,1093.4Z M1283.0,1138.0 L1282.3,1139.4 L1280.5,1140.2 L1279.2,1138.9 L1278.0,1137.5 L1279.4,1136.3 L1280.9,1136.1 L1283.0,1136.1Z M1221.2,1143.1 L1220.0,1142.4 L1218.5,1141.3 L1219.7,1139.9 L1221.7,1139.8 L1222.6,1141.8Z M1210.6,1137.7 L1207.9,1139.3 L1204.1,1137.7 L1202.9,1135.9 L1204.3,1134.0 L1208.4,1135.4Z M1229.4,1143.5 L1229.7,1144.0 L1229.1,1144.3 L1228.5,1144.4 L1228.0,1144.0 L1228.2,1143.5 L1228.2,1143.1 L1228.5,1142.6 L1229.1,1142.8 L1229.4,1143.1Z M1209.3,1143.6 L1208.8,1144.3 L1208.4,1143.5 L1207.8,1143.2 L1208.2,1142.7 L1208.6,1142.1 L1209.2,1142.5 L1209.4,1143.1Z M1274.5,1134.8 L1273.9,1133.0 L1274.3,1130.7 L1275.6,1129.1 L1276.8,1125.7 L1277.8,1127.6 L1280.1,1126.9 L1278.5,1130.2 L1278.5,1133.3 L1276.2,1135.5Z M1266.7,1143.5 L1265.5,1143.0 L1265.5,1141.5 L1266.3,1140.4 L1267.4,1141.1 L1267.2,1142.3Z M1274.0,1139.7 L1274.4,1137.7 L1276.6,1137.6 L1277.7,1139.2 L1277.0,1140.9 L1275.3,1140.6Z M1261.5,1126.6 L1263.0,1123.8 L1266.5,1121.4 L1268.1,1122.8 L1267.1,1124.7 L1264.7,1126.9Z M1215.1,1139.9 L1214.7,1139.1 L1214.5,1137.5 L1216.1,1137.8 L1217.2,1137.8 L1217.2,1138.9 L1217.4,1140.5 L1215.8,1141.1Z M1265.1,1133.9 L1263.5,1133.4 L1263.8,1130.3 L1264.3,1128.2 L1265.0,1125.6 L1266.8,1124.0 L1267.3,1127.0 L1268.7,1128.3 L1267.5,1131.0 L1266.4,1132.2Z M1265.0,1097.7 L1264.7,1097.1 L1264.7,1096.1 L1265.3,1094.5 L1266.8,1093.5 L1267.5,1094.4 L1267.7,1095.3 L1267.8,1096.5 L1266.7,1097.6 L1265.7,1097.7Z M1252.2,1144.9 L1249.6,1145.5 L1247.4,1145.4 L1246.0,1144.1 L1245.7,1142.5 L1248.1,1142.3 L1251.0,1142.7Z M1255.3,1126.0 L1253.3,1125.6 L1252.4,1123.0 L1252.7,1120.8 L1254.2,1119.1 L1256.0,1121.6 L1256.0,1124.0Z M1261.6,1147.3 L1260.4,1146.3 L1260.1,1144.9 L1261.0,1143.4 L1262.6,1144.2 L1262.3,1146.0Z M1282.4,1116.6 L1281.5,1117.4 L1280.7,1114.7 L1280.2,1112.2 L1280.9,1111.4 L1281.6,1110.6 L1282.4,1112.4 L1283.3,1114.2 L1283.6,1117.1Z M1284.1,1116.3 L1283.8,1115.8 L1283.2,1115.2 L1283.5,1114.2 L1283.8,1113.5 L1284.2,1113.4 L1284.5,1114.2 L1284.9,1115.1 L1284.7,1116.2Z M1287.4,1113.9 L1286.6,1113.8 L1285.8,1113.5 L1285.1,1112.7 L1286.0,1112.1 L1286.4,1111.7 L1287.2,1111.5 L1287.7,1112.3 L1287.4,1113.0Z M1283.8,1103.2 L1283.1,1101.9 L1282.7,1101.2 L1282.2,1099.6 L1282.7,1099.3 L1283.3,1099.2 L1283.7,1100.9 L1283.7,1101.8Z M1284.2,1120.7 L1283.3,1120.8 L1283.5,1119.9 L1283.7,1119.2 L1284.3,1119.7 L1284.7,1120.2Z M1282.7,1118.4 L1282.4,1118.9 L1282.0,1117.8 L1281.5,1117.1 L1281.5,1116.4 L1281.7,1116.0 L1282.0,1115.4 L1282.7,1116.4 L1282.9,1117.5 L1283.4,1118.7Z M1280.2,1111.8 L1279.5,1111.7 L1278.2,1111.1 L1277.4,1108.8 L1277.0,1107.2 L1277.6,1106.9 L1278.3,1107.0 L1279.4,1107.5 L1280.1,1109.5 L1281.1,1111.7Z M1280.7,1112.4 L1279.7,1112.2 L1279.6,1111.0 L1279.9,1110.0 L1280.5,1109.0 L1281.5,1109.0 L1281.7,1110.3 L1282.2,1111.3 L1281.6,1112.3Z M234.0,177.1 L233.2,177.2 L232.8,175.7 L232.9,174.8 L233.0,173.6 L233.8,173.6 L234.3,175.3 L234.3,176.4Z M241.3,218.6 L238.4,218.2 L237.5,216.0 L237.0,213.0 L240.4,212.8 L241.0,215.7Z M225.4,179.5 L224.2,178.1 L223.2,176.3 L223.3,174.4 L222.7,172.0 L223.5,170.9 L224.6,171.9 L225.6,173.4 L226.0,175.7 L226.0,177.9Z M238.4,186.9 L236.8,186.7 L235.5,185.3 L234.9,182.8 L236.7,181.6 L238.4,182.4 L240.6,182.1 L240.6,184.6 L240.1,186.6Z M223.5,223.5 L223.0,223.7 L222.3,223.4 L221.9,222.8 L221.9,222.0 L222.5,221.6 L223.1,221.6 L223.7,221.9 L224.1,222.5 L224.2,223.3Z M240.4,186.1 L238.2,186.5 L237.0,183.5 L239.2,181.3 L240.0,179.4 L242.1,178.0 L242.8,181.0 L242.7,183.5 L241.6,184.9Z M222.6,227.6 L219.7,227.0 L218.2,223.0 L217.8,218.6 L221.7,219.9 L222.8,224.5Z M219.9,233.0 L218.8,232.6 L218.2,231.1 L218.5,229.9 L218.7,229.1 L219.2,228.7 L220.0,228.1 L220.4,229.4 L220.5,230.6 L220.3,231.6Z M226.4,172.6 L224.6,172.3 L223.8,169.4 L224.6,166.9 L226.0,166.4 L227.3,167.1 L228.5,169.1 L227.8,171.5Z M228.7,225.6 L227.0,225.3 L226.9,222.9 L228.4,221.9 L229.9,222.6 L229.7,224.6Z M232.1,218.8 L230.1,217.1 L229.5,215.1 L230.1,213.3 L232.2,213.4 L233.5,216.6Z M221.6,237.6 L220.7,236.8 L219.9,235.8 L220.0,234.7 L219.8,233.0 L220.8,234.1 L221.6,235.2 L221.8,236.5Z M227.3,220.1 L225.5,219.1 L225.9,216.6 L227.3,215.0 L229.0,216.3 L229.4,219.3Z M230.2,218.0 L228.7,217.3 L228.0,215.3 L228.4,213.8 L230.0,214.0 L230.7,216.4Z M219.3,239.7 L218.3,237.4 L217.6,235.6 L218.0,233.5 L218.3,230.3 L220.0,229.8 L220.8,232.9 L221.1,235.6 L220.7,238.7Z M221.3,225.2 L219.8,224.6 L220.0,222.7 L219.9,221.4 L220.4,219.6 L222.0,219.6 L223.0,221.0 L223.4,222.8 L222.6,224.4Z M237.7,232.6 L236.7,230.6 L235.6,228.3 L236.7,226.8 L237.7,226.8 L239.1,228.1 L239.1,231.8Z M243.8,195.6 L241.8,195.0 L240.7,192.0 L240.8,189.3 L242.5,189.1 L244.3,190.7 L244.5,193.5Z M235.5,188.6 L233.4,189.7 L232.2,186.7 L232.8,183.7 L233.8,180.6 L235.9,182.1 L236.8,184.2 L238.8,186.4 L237.0,188.4Z M241.9,232.4 L238.1,232.2 L234.1,226.1 L235.2,222.1 L239.3,222.8 L240.9,228.1Z M217.9,237.0 L216.0,236.7 L214.8,234.1 L215.7,232.3 L217.1,231.3 L218.4,233.2 L218.3,235.0Z M241.4,222.6 L238.1,221.4 L236.4,216.0 L235.5,212.2 L237.0,210.3 L240.5,213.3 L243.0,219.7Z M238.5,194.1 L237.1,193.6 L236.1,191.1 L235.1,189.2 L235.4,187.7 L236.0,186.6 L237.6,187.4 L238.8,190.2 L238.9,192.4Z M233.0,188.6 L231.8,188.4 L230.4,186.0 L230.3,183.9 L230.5,182.2 L231.8,183.2 L233.0,185.0 L233.6,187.4Z M221.4,236.9 L220.5,236.7 L220.1,234.9 L220.7,232.4 L222.0,232.2 L223.2,232.7 L222.7,235.2 L222.4,237.1Z M238.7,182.8 L238.1,182.8 L237.5,182.1 L237.0,180.9 L238.0,180.8 L238.7,181.4 L239.3,182.3Z M219.4,235.0 L218.5,234.9 L217.7,233.6 L217.2,231.9 L217.6,230.8 L218.2,230.3 L218.9,231.0 L220.0,231.0 L220.4,233.0 L219.9,234.2Z M215.9,230.4 L214.1,229.1 L212.8,228.3 L212.1,226.4 L213.1,225.5 L214.2,225.7 L215.9,226.4 L216.3,228.6Z M228.6,189.4 L227.4,189.4 L226.3,188.2 L226.6,187.0 L227.5,186.6 L228.3,187.2 L229.2,188.2Z M239.7,209.5 L237.7,209.6 L235.3,207.6 L232.9,204.2 L234.4,202.5 L236.6,201.7 L238.5,205.2 L239.9,207.4Z M241.8,176.6 L240.0,175.4 L238.8,172.8 L238.7,170.7 L237.9,168.3 L238.9,167.4 L240.1,168.5 L241.2,169.6 L241.5,171.6 L242.4,174.4Z M227.8,196.1 L227.0,195.1 L227.2,193.6 L227.9,192.8 L228.4,193.6 L229.0,195.7Z M214.4,241.0 L212.4,241.3 L211.0,236.5 L212.4,234.8 L213.4,234.2 L215.1,235.8 L215.5,239.5Z M224.6,223.7 L223.4,223.0 L223.8,221.1 L224.8,220.3 L225.5,221.4 L225.6,222.9Z M242.8,214.9 L240.4,215.0 L239.5,210.5 L239.6,207.9 L242.0,207.8 L244.0,212.9Z M235.6,183.3 L234.0,181.9 L234.0,179.2 L234.6,178.2 L235.5,179.2 L235.9,180.9Z M231.5,231.9 L230.0,231.1 L229.7,227.5 L229.7,223.5 L231.2,221.0 L233.1,220.1 L234.3,223.5 L234.2,227.8 L233.1,231.0Z M225.9,177.4 L225.2,177.9 L224.0,177.5 L224.0,176.1 L224.5,175.5 L224.8,174.5 L226.0,174.7 L226.2,176.1 L227.0,177.3Z M230.4,180.3 L228.4,179.9 L228.4,177.6 L229.4,176.3 L231.5,176.3 L231.8,179.0Z M212.6,238.4 L211.1,237.3 L209.6,236.6 L210.3,234.9 L210.5,233.7 L211.2,232.6 L212.4,233.3 L214.0,233.6 L213.5,235.3 L212.9,236.3Z M234.2,197.7 L233.7,198.2 L233.2,197.4 L233.0,196.9 L232.3,196.0 L233.2,196.1 L233.5,195.4 L234.0,196.1 L234.4,196.6 L234.4,197.2Z M225.1,239.2 L224.0,236.3 L223.2,234.9 L222.7,232.6 L223.0,229.4 L224.9,227.9 L225.8,231.5 L226.6,232.8 L226.5,234.7 L226.8,238.0Z M223.0,238.8 L221.3,236.7 L219.5,235.0 L220.0,231.8 L220.0,228.4 L221.8,228.2 L223.7,230.2 L223.4,233.7 L223.5,235.9Z M234.9,232.0 L234.3,231.9 L233.6,231.6 L232.8,230.7 L233.7,229.9 L234.7,229.4 L235.8,229.8 L235.9,231.0 L235.9,232.0Z M233.4,218.4 L232.2,217.8 L232.0,216.5 L232.4,215.5 L233.4,214.9 L233.8,216.2 L233.6,217.0Z M229.6,224.5 L227.7,224.0 L227.1,220.6 L228.4,218.0 L230.4,218.1 L231.3,220.7 L231.5,223.9Z M224.1,184.3 L223.1,183.2 L221.0,182.4 L221.4,178.6 L222.3,175.6 L224.0,176.6 L225.6,175.3 L226.3,178.6 L225.6,181.3 L225.2,183.4Z M237.2,194.4 L235.9,193.0 L234.4,190.6 L235.5,188.5 L236.9,187.1 L238.7,189.7 L237.8,192.5Z M228.9,215.5 L226.9,213.9 L225.5,211.7 L227.8,210.5 L229.0,208.3 L231.4,209.3 L232.1,211.9 L230.9,213.8Z M234.2,203.7 L233.0,203.8 L231.8,202.3 L230.1,200.8 L228.9,197.6 L231.3,198.0 L232.4,195.8 L234.7,198.1 L235.1,201.0 L235.9,203.5Z M240.9,184.5 L238.8,184.3 L236.4,183.5 L234.1,180.8 L234.0,178.2 L234.8,176.5 L237.0,177.6 L239.1,177.1 L241.2,179.8 L242.0,182.8Z M228.9,190.3 L228.5,189.2 L227.5,188.7 L228.0,187.7 L228.9,187.7 L229.8,187.4 L230.3,188.1 L230.2,189.0 L229.8,189.8Z M233.3,220.7 L231.6,220.1 L229.7,219.5 L230.8,217.5 L229.9,215.5 L231.8,215.2 L233.3,215.2 L235.3,215.7 L235.2,217.8 L235.0,219.7Z M243.4,207.7 L241.8,208.0 L242.0,205.8 L242.3,204.3 L243.7,204.1 L245.0,205.3 L245.0,207.5Z M237.3,214.6 L235.2,213.2 L235.6,210.7 L237.0,209.4 L238.9,210.4 L238.9,212.8Z M232.6,199.7 L230.7,201.1 L229.4,197.4 L229.9,195.6 L230.8,194.5 L232.9,195.6 L234.2,198.7Z M240.2,175.8 L237.9,173.7 L237.1,170.0 L237.2,164.3 L241.1,167.1 L241.9,173.2Z M231.4,202.3 L229.0,202.2 L228.4,199.5 L230.6,197.5 L232.8,199.1 L232.6,201.1Z M233.6,174.5 L230.8,171.2 L228.0,170.0 L227.4,165.6 L227.1,161.5 L229.4,161.2 L231.7,164.4 L233.0,167.4 L234.0,170.9Z M241.6,214.8 L239.7,214.8 L237.4,212.2 L234.6,207.5 L237.6,207.4 L240.6,209.7 L244.2,213.9Z M235.2,229.4 L234.4,228.7 L233.7,227.7 L233.0,226.1 L233.5,225.0 L234.4,225.6 L235.2,225.7 L236.0,227.2 L235.8,228.6Z M242.6,185.8 L241.7,186.7 L240.6,185.8 L240.9,184.5 L240.7,183.2 L241.8,183.4 L242.8,183.2 L242.9,184.4 L243.5,185.4Z M237.8,206.4 L235.7,205.6 L233.9,200.5 L234.9,197.1 L237.9,198.5 L238.4,204.0Z M229.9,178.0 L228.6,178.0 L227.6,176.2 L226.2,173.7 L227.0,172.1 L228.3,171.6 L229.8,173.0 L230.7,175.1 L230.4,176.7Z M233.0,200.8 L231.8,201.0 L231.1,199.3 L231.6,197.7 L231.5,196.0 L232.5,195.3 L233.6,195.7 L234.2,197.3 L234.2,198.8 L233.5,199.6Z M234.0,205.1 L232.3,204.2 L231.6,201.2 L233.2,199.5 L234.7,199.8 L236.4,201.2 L236.0,204.6Z M230.3,179.3 L228.6,179.1 L226.6,178.2 L226.9,176.1 L228.1,174.8 L229.7,173.4 L231.8,174.3 L232.5,176.5 L231.6,178.2Z M232.7,222.0 L230.7,218.2 L228.6,216.1 L228.3,211.5 L230.3,211.0 L232.0,212.2 L232.7,215.2 L234.3,219.5Z M236.5,235.9 L233.8,234.7 L231.4,232.2 L232.3,230.1 L234.5,229.7 L236.8,233.0Z M219.5,227.5 L217.7,227.2 L216.7,224.2 L216.1,220.9 L218.1,221.0 L219.7,220.8 L221.4,223.2 L221.0,226.3Z M244.5,205.9 L243.0,206.3 L241.8,205.3 L240.3,203.9 L241.4,202.4 L242.8,201.8 L244.5,201.6 L244.8,203.3 L246.0,204.9Z M229.5,214.0 L228.4,215.1 L227.9,212.7 L226.8,210.8 L227.6,209.3 L228.2,207.5 L229.5,209.1 L230.6,210.2 L231.7,212.5 L231.0,214.6Z M235.3,211.6 L233.4,209.8 L233.2,206.8 L235.2,205.5 L236.5,207.3 L237.3,209.9Z M238.2,235.6 L235.6,233.8 L235.7,230.6 L236.2,227.8 L238.7,228.9 L239.1,232.6Z M239.4,224.3 L237.6,222.8 L237.2,220.2 L238.0,218.0 L239.8,216.5 L241.8,217.7 L241.4,220.4 L240.8,222.1Z M230.5,178.6 L227.6,175.0 L225.5,171.4 L225.5,166.6 L229.3,168.7 L230.5,174.3Z M236.9,191.2 L235.9,190.4 L235.2,189.6 L235.7,188.7 L236.5,188.5 L237.2,189.1 L237.4,190.1Z M241.9,219.7 L240.9,219.9 L240.5,218.9 L240.0,217.8 L241.0,217.4 L241.9,217.4 L242.6,218.1 L243.0,219.3Z M213.2,241.8 L211.6,239.7 L210.6,237.9 L209.4,234.5 L211.3,234.5 L212.6,235.1 L213.3,237.2 L214.4,240.2Z M241.3,172.9 L237.8,171.6 L233.4,165.6 L234.8,162.2 L238.3,162.9 L242.5,169.5Z M227.7,228.9 L226.3,228.2 L226.9,226.3 L228.0,225.6 L228.6,226.6 L228.7,227.8Z M231.0,206.1 L229.3,206.4 L228.2,203.0 L229.3,199.1 L230.7,196.1 L232.6,196.0 L233.1,200.0 L234.5,203.5 L232.4,205.8Z M213.0,240.3 L211.4,240.6 L210.6,237.5 L210.3,234.4 L211.8,233.1 L213.3,234.8 L214.8,236.8 L214.1,239.2Z M235.9,235.7 L232.8,233.2 L230.7,230.1 L227.7,227.2 L226.4,222.8 L227.6,220.8 L229.9,220.6 L233.3,223.8 L235.1,228.5 L236.8,233.0Z M240.8,201.8 L240.0,201.3 L239.8,200.4 L240.2,199.3 L241.3,199.8 L241.4,201.0Z M233.7,223.7 L231.6,223.8 L230.2,221.3 L231.6,219.0 L234.0,219.9 L234.8,222.1Z M214.3,231.5 L213.3,231.3 L212.4,229.9 L211.5,227.4 L212.7,225.6 L214.7,226.5 L215.6,229.1 L215.5,231.2Z M233.4,220.9 L231.7,223.2 L229.8,220.0 L229.4,216.0 L231.0,214.4 L232.1,213.7 L233.6,212.8 L234.4,215.8 L235.5,218.3 L235.4,221.5Z M228.7,194.2 L228.2,193.8 L227.8,192.7 L228.6,191.8 L229.6,191.5 L229.9,193.0 L229.4,194.1Z M237.2,217.9 L236.6,216.6 L235.8,216.1 L235.9,214.9 L236.7,214.2 L237.7,213.8 L238.4,214.8 L238.6,216.1 L238.3,217.4Z M238.8,204.5 L237.5,205.6 L237.2,203.4 L236.8,201.8 L237.4,200.6 L238.3,200.5 L239.2,200.4 L240.3,201.3 L240.6,203.2 L240.1,205.1Z M239.7,207.2 L238.8,205.5 L237.9,204.5 L237.3,202.4 L239.0,201.9 L240.3,201.5 L242.2,202.1 L242.0,204.6 L241.6,206.9Z M231.5,182.6 L229.9,181.9 L228.6,179.6 L227.0,177.4 L227.5,175.8 L228.1,175.0 L228.9,174.5 L230.3,176.2 L232.2,178.7 L232.2,181.2Z M232.4,187.7 L231.3,186.5 L231.1,184.4 L232.6,183.9 L233.8,184.7 L234.1,187.0Z M214.9,236.7 L213.9,236.8 L212.2,236.9 L211.8,234.4 L210.6,232.3 L211.4,231.1 L212.5,229.6 L214.5,232.3 L215.4,234.3 L216.9,236.9Z M214.7,240.7 L212.0,240.5 L211.8,237.0 L213.6,234.3 L215.8,236.5 L217.0,239.5Z M241.9,189.2 L239.7,188.5 L238.9,186.5 L237.8,183.6 L240.4,183.7 L242.2,184.9 L243.1,187.2Z M228.0,222.2 L227.2,220.2 L226.0,218.8 L226.3,216.1 L227.3,214.5 L228.3,216.9 L229.5,218.5 L228.7,220.6Z M230.2,182.1 L229.2,181.4 L227.8,181.1 L227.9,179.4 L228.1,178.2 L229.0,177.9 L230.0,178.5 L230.9,179.8 L230.3,180.9Z M227.5,216.5 L226.3,215.8 L225.7,214.2 L227.2,213.6 L228.4,213.6 L229.9,214.5 L229.4,216.6Z M232.6,192.3 L231.4,191.0 L231.2,188.7 L232.0,186.9 L233.0,188.7 L233.8,191.0Z M229.8,231.8 L228.1,230.7 L227.0,228.1 L226.6,225.2 L228.1,225.1 L229.9,226.9 L229.7,229.2Z M234.6,213.7 L231.3,212.6 L228.1,208.6 L229.1,205.8 L230.5,204.8 L233.2,206.0 L234.9,210.1Z M236.0,180.7 L235.0,180.2 L234.8,178.7 L236.2,178.8 L237.3,179.1 L237.3,180.6Z M232.9,201.0 L231.0,200.9 L230.6,198.3 L229.8,196.1 L231.2,195.2 L232.6,196.1 L233.8,197.4 L233.4,199.0Z M240.0,208.5 L238.9,208.1 L237.8,207.7 L238.2,206.5 L238.0,205.0 L239.3,204.5 L240.2,205.7 L241.5,206.4 L240.4,207.3Z M223.4,228.2 L221.5,224.3 L220.7,221.2 L220.8,217.6 L222.7,216.8 L224.6,220.1 L223.9,223.7Z M237.9,174.3 L236.5,176.6 L234.4,173.1 L234.0,170.5 L233.9,168.5 L235.2,167.7 L237.0,168.5 L239.2,170.6 L240.4,174.2Z M244.8,205.0 L243.5,203.3 L243.2,201.6 L243.6,200.0 L244.7,199.7 L246.3,200.8 L245.6,203.0Z M239.2,206.7 L237.3,205.5 L234.9,202.9 L236.5,199.9 L237.8,197.6 L239.7,199.3 L241.7,201.9 L240.2,204.5Z M1594.5,1299.7 L1593.8,1301.1 L1590.9,1302.1 L1588.1,1302.9 L1585.9,1302.6 L1586.7,1301.4 L1587.6,1300.2 L1590.3,1299.1 L1593.9,1298.5Z M1569.7,1304.3 L1570.1,1305.0 L1569.3,1305.9 L1568.6,1307.1 L1567.0,1307.7 L1566.6,1306.5 L1565.9,1305.7 L1566.4,1304.2 L1568.1,1304.2 L1569.0,1304.0Z M1586.3,1301.7 L1586.9,1303.3 L1583.2,1305.8 L1579.2,1309.3 L1577.5,1308.1 L1577.7,1306.0 L1581.3,1303.3 L1584.7,1300.9Z M1578.6,1302.6 L1578.8,1303.2 L1577.7,1304.0 L1577.0,1304.3 L1575.9,1304.7 L1576.3,1303.8 L1576.9,1302.9 L1577.8,1302.7Z M1546.4,1304.3 L1545.9,1305.9 L1544.5,1307.5 L1542.6,1308.6 L1541.8,1307.8 L1540.4,1306.9 L1543.0,1305.4 L1545.1,1303.4Z M1589.3,1302.6 L1586.9,1305.4 L1584.8,1306.8 L1581.4,1307.1 L1582.4,1304.0 L1586.0,1301.6Z M1638.1,1277.3 L1637.7,1278.6 L1637.2,1279.9 L1635.8,1280.3 L1635.6,1279.2 L1635.7,1278.2 L1636.7,1277.8Z M1580.2,1304.8 L1579.9,1306.5 L1577.6,1308.4 L1576.3,1308.1 L1576.5,1306.8 L1578.4,1305.0Z M1622.0,1290.7 L1622.2,1291.5 L1620.8,1292.1 L1619.9,1291.6 L1620.6,1290.7 L1621.4,1290.5Z M1591.0,1297.9 L1590.7,1300.1 L1587.8,1302.7 L1585.8,1303.6 L1584.8,1303.2 L1586.1,1301.0 L1589.1,1297.2Z M1600.2,1298.6 L1600.2,1299.4 L1599.4,1300.3 L1598.7,1301.1 L1597.8,1301.3 L1597.3,1301.0 L1597.8,1300.0 L1598.4,1299.1 L1599.2,1299.0Z M1572.0,1305.7 L1571.2,1306.5 L1570.8,1307.0 L1570.2,1307.1 L1569.3,1307.4 L1568.6,1307.1 L1569.2,1306.3 L1570.3,1305.8 L1571.1,1305.7Z M1645.1,1280.1 L1644.4,1281.7 L1642.5,1283.1 L1641.0,1283.0 L1641.3,1281.5 L1643.4,1280.0Z M1594.6,1301.1 L1595.2,1301.7 L1594.4,1302.6 L1593.4,1302.9 L1592.7,1302.7 L1591.9,1302.4 L1592.7,1301.6 L1593.2,1300.6 L1594.0,1301.0Z M1576.3,1228.5 L1575.2,1229.3 L1573.9,1227.3 L1573.0,1226.0 L1571.9,1223.7 L1573.6,1223.9 L1575.0,1224.5 L1576.8,1225.5 L1577.2,1227.6Z M1585.7,1242.5 L1585.6,1241.7 L1585.9,1240.8 L1586.9,1240.3 L1587.9,1240.2 L1588.5,1240.8 L1588.4,1241.7 L1588.1,1242.5 L1587.3,1243.4 L1586.4,1243.0Z M1561.5,1215.7 L1561.7,1214.5 L1563.5,1214.8 L1564.1,1215.5 L1563.4,1216.1 L1562.3,1216.3Z M1572.1,1226.0 L1570.4,1226.4 L1568.6,1226.5 L1567.0,1224.8 L1568.5,1223.7 L1568.9,1221.7 L1571.1,1222.5 L1572.5,1224.2Z M1573.0,1237.1 L1571.8,1237.5 L1571.5,1235.2 L1571.5,1232.7 L1572.8,1233.1 L1574.1,1232.5 L1574.0,1235.1 L1573.7,1236.5Z M1600.8,1257.4 L1598.2,1255.5 L1596.9,1250.7 L1599.1,1250.2 L1601.1,1249.9 L1601.4,1253.9Z M1591.3,1246.1 L1590.0,1245.6 L1588.7,1245.7 L1588.6,1244.3 L1587.9,1242.8 L1589.3,1242.6 L1590.8,1243.5 L1591.7,1245.1Z M1585.0,1239.2 L1584.3,1240.2 L1583.1,1240.4 L1581.8,1240.1 L1581.8,1238.9 L1582.1,1237.8 L1583.3,1237.9 L1584.6,1238.0Z M1581.4,1244.7 L1581.9,1243.9 L1582.3,1243.0 L1583.1,1243.2 L1583.7,1243.8 L1583.0,1244.4 L1582.4,1244.7Z M1561.2,1215.5 L1560.1,1215.5 L1559.6,1214.2 L1559.4,1212.5 L1560.8,1212.2 L1562.1,1212.3 L1563.4,1213.7 L1562.0,1214.9Z M1559.7,1213.8 L1559.0,1213.9 L1559.0,1212.8 L1558.9,1211.7 L1559.6,1212.0 L1560.1,1211.9 L1560.1,1212.7 L1560.0,1213.4Z M1576.1,1236.9 L1575.2,1236.2 L1576.0,1235.2 L1577.0,1234.9 L1577.9,1234.7 L1579.1,1234.9 L1578.4,1236.1 L1578.0,1236.7 L1577.7,1237.9 L1576.7,1237.3Z M1594.4,1253.8 L1592.0,1253.9 L1590.1,1254.2 L1587.9,1253.0 L1588.9,1251.5 L1589.6,1250.4 L1591.6,1250.4 L1593.1,1251.9Z M1615.6,1270.9 L1615.0,1270.3 L1614.7,1269.4 L1615.0,1268.3 L1615.1,1266.3 L1616.1,1267.3 L1616.7,1267.5 L1617.3,1268.3 L1616.8,1269.6 L1616.3,1270.4Z M1574.2,1224.9 L1574.0,1225.3 L1573.4,1225.3 L1573.0,1225.1 L1572.7,1224.7 L1573.0,1224.3 L1573.5,1224.0 L1574.3,1224.2Z M1562.0,1223.4 L1564.1,1222.0 L1566.4,1220.8 L1568.6,1221.9 L1569.1,1223.0 L1569.4,1224.4 L1566.7,1224.3 L1563.4,1225.1Z M1577.1,1238.3 L1576.7,1237.2 L1577.9,1236.9 L1578.6,1236.8 L1579.1,1237.1 L1579.2,1237.8 L1578.9,1238.6 L1577.9,1238.9Z M1559.6,1217.1 L1558.8,1215.6 L1560.8,1213.2 L1563.5,1212.4 L1564.3,1214.0 L1563.1,1216.0 L1561.2,1217.2Z M1612.6,1273.9 L1611.1,1274.0 L1610.5,1272.4 L1611.8,1271.6 L1612.9,1271.4 L1614.3,1272.1 L1613.8,1273.5Z M1606.4,1260.9 L1606.4,1259.3 L1608.2,1258.4 L1610.2,1258.4 L1609.6,1260.0 L1609.4,1261.3 L1607.9,1261.1Z M1607.0,1266.1 L1606.3,1267.7 L1604.4,1266.5 L1603.8,1265.2 L1603.4,1263.7 L1604.6,1262.6 L1606.2,1263.8 L1607.0,1264.9Z M1587.0,1236.3 L1586.6,1236.9 L1586.0,1235.8 L1585.1,1234.8 L1585.6,1234.3 L1586.0,1234.2 L1586.7,1234.2 L1587.3,1235.1 L1587.8,1236.3Z M1698.9,709.5 L1698.0,709.4 L1696.6,708.8 L1696.7,707.4 L1696.9,706.5 L1697.8,706.6 L1698.7,707.4 L1699.6,708.8Z M1675.2,669.0 L1673.9,670.0 L1670.8,669.4 L1668.2,666.4 L1667.9,664.2 L1667.7,661.9 L1670.8,662.1 L1673.8,665.0 L1676.9,667.8Z M1691.2,683.2 L1689.2,682.4 L1687.6,681.2 L1685.6,679.9 L1684.4,678.0 L1686.1,678.2 L1687.2,677.8 L1688.9,679.9 L1690.5,681.5Z M1685.8,652.3 L1684.1,650.3 L1683.1,648.4 L1681.8,645.9 L1682.4,644.4 L1683.5,645.1 L1684.6,645.6 L1686.4,647.7 L1685.5,649.3Z M1678.0,657.6 L1677.4,658.0 L1676.1,657.2 L1675.1,655.9 L1675.4,655.4 L1675.1,654.2 L1676.2,654.6 L1677.3,655.9 L1677.6,656.7Z M1673.6,664.8 L1673.2,665.4 L1672.7,664.0 L1672.4,662.7 L1672.5,661.6 L1673.1,662.0 L1673.5,662.5 L1674.4,663.7 L1674.0,664.7Z M1666.4,642.0 L1665.1,643.3 L1663.4,641.8 L1664.1,640.2 L1664.7,638.4 L1666.6,639.2 L1667.1,640.9Z M1658.7,679.1 L1655.8,677.2 L1653.9,674.2 L1652.8,670.6 L1654.6,669.7 L1656.9,672.6 L1659.0,675.9Z M1677.2,628.8 L1675.4,629.5 L1673.4,625.6 L1671.9,623.2 L1671.4,620.4 L1674.0,621.7 L1675.8,623.9 L1677.5,626.6Z M1676.5,628.2 L1675.4,629.4 L1671.6,627.0 L1667.2,623.0 L1668.7,621.3 L1670.7,620.7 L1674.8,623.5 L1677.7,627.1Z M1677.1,657.2 L1676.1,658.3 L1674.1,657.5 L1672.0,656.1 L1672.5,654.5 L1673.3,653.6 L1674.7,653.2 L1675.9,654.8 L1677.5,656.0Z M1675.0,647.5 L1673.0,646.0 L1671.3,644.7 L1670.1,641.9 L1671.3,640.4 L1671.3,637.1 L1673.4,638.9 L1674.9,640.5 L1676.7,643.2 L1675.8,645.5Z M1679.3,633.0 L1678.3,632.9 L1677.3,631.5 L1676.0,630.3 L1676.1,629.1 L1676.6,628.8 L1677.0,627.7 L1678.3,628.8 L1678.6,630.5 L1679.9,632.3Z M1656.6,675.9 L1655.7,675.9 L1654.7,674.6 L1653.5,672.4 L1655.1,672.8 L1656.2,673.6 L1657.1,675.2Z M1686.2,676.2 L1684.7,677.2 L1683.7,674.5 L1682.7,672.3 L1684.0,671.5 L1684.9,671.1 L1686.0,671.7 L1687.5,673.2 L1686.8,674.9Z M1687.6,618.3 L1686.3,619.1 L1684.8,617.7 L1683.9,616.1 L1683.3,613.9 L1685.3,613.2 L1687.0,615.5 L1688.4,617.1Z M1688.5,707.8 L1686.5,705.9 L1685.3,704.3 L1683.8,702.7 L1684.0,701.0 L1684.7,700.6 L1685.6,700.8 L1687.1,700.6 L1687.8,703.3 L1688.1,705.0Z M1686.2,702.2 L1685.0,701.0 L1683.6,700.5 L1682.4,697.5 L1682.3,695.3 L1683.5,695.3 L1684.9,697.0 L1685.7,699.1 L1687.4,702.0Z M1685.0,615.5 L1684.4,616.1 L1683.0,615.6 L1681.8,613.8 L1681.5,611.9 L1683.0,612.2 L1683.6,611.4 L1684.6,612.6 L1685.6,613.8 L1685.8,615.2Z M1690.5,705.2 L1689.5,706.2 L1688.5,703.8 L1687.1,701.3 L1687.9,699.8 L1689.6,701.2 L1691.4,702.4 L1691.8,705.0Z M1674.7,686.6 L1672.5,685.5 L1671.1,682.9 L1671.8,680.9 L1673.7,681.7 L1674.4,684.0Z M1702.0,703.9 L1701.1,703.3 L1700.2,702.8 L1700.3,701.7 L1700.8,701.4 L1701.4,701.6 L1702.1,702.0 L1702.5,703.1Z M1695.4,689.5 L1694.0,689.2 L1692.8,688.8 L1691.8,687.6 L1692.1,686.4 L1692.6,685.1 L1694.1,685.7 L1695.2,686.8 L1695.0,687.9Z M1661.6,680.6 L1660.3,680.4 L1659.8,678.3 L1659.8,676.9 L1659.5,675.0 L1660.4,674.3 L1661.5,674.7 L1661.9,676.5 L1662.2,677.7 L1662.2,679.2Z M1673.5,632.0 L1672.0,632.6 L1669.1,630.5 L1665.7,629.0 L1664.1,626.4 L1666.3,626.2 L1668.5,626.9 L1671.0,628.1 L1673.4,630.4Z M1679.5,669.8 L1674.5,665.7 L1670.3,661.5 L1670.5,658.2 L1673.8,659.4 L1677.7,664.3Z M1680.8,660.1 L1679.7,659.9 L1678.7,660.0 L1676.8,659.1 L1677.1,657.8 L1677.1,656.8 L1677.5,655.5 L1679.2,657.4 L1680.3,658.1 L1682.0,659.7Z M1686.9,692.3 L1686.5,693.3 L1685.1,692.8 L1685.0,691.6 L1684.5,690.6 L1685.4,690.1 L1686.8,690.4 L1687.1,691.6Z M1680.0,675.1 L1678.8,674.7 L1677.6,674.5 L1676.4,672.8 L1676.2,671.8 L1675.1,670.0 L1676.4,670.3 L1677.9,670.9 L1679.3,672.7 L1679.8,674.0Z M1681.9,695.7 L1680.8,695.6 L1680.2,693.7 L1679.3,691.7 L1680.2,691.1 L1681.2,691.2 L1682.2,692.9 L1681.9,694.2Z M1683.1,669.6 L1682.3,671.4 L1678.8,669.1 L1676.6,666.9 L1676.0,664.9 L1676.5,663.6 L1678.9,664.3 L1681.5,665.6 L1684.1,668.2Z M1698.7,689.5 L1697.5,688.6 L1696.1,686.4 L1696.4,683.7 L1696.9,681.7 L1698.2,683.2 L1699.3,685.6 L1699.2,688.0Z M1669.9,652.0 L1668.7,650.8 L1668.0,649.5 L1667.6,647.7 L1668.3,646.5 L1669.8,648.4 L1669.8,650.3Z M1695.3,707.6 L1693.8,706.7 L1692.0,706.4 L1691.3,703.3 L1691.1,701.4 L1690.8,698.5 L1692.6,699.0 L1694.6,701.3 L1696.2,704.2 L1696.4,706.8Z M1685.5,649.4 L1685.1,650.1 L1683.4,649.4 L1681.8,647.8 L1682.4,647.1 L1681.6,645.6 L1683.4,646.7 L1684.6,647.5 L1686.5,649.0Z M1684.4,690.8 L1683.7,691.0 L1683.3,689.7 L1683.2,688.5 L1684.0,688.7 L1684.5,689.4 L1685.3,690.8Z M1679.5,692.4 L1677.2,692.4 L1674.1,688.7 L1673.6,684.2 L1677.8,685.5 L1681.5,690.5Z M1678.4,637.6 L1677.4,636.7 L1676.3,636.1 L1675.7,634.2 L1676.0,633.2 L1677.1,633.7 L1677.8,635.3 L1678.5,636.6Z M1686.0,709.3 L1684.6,707.5 L1683.8,704.7 L1684.3,703.1 L1685.7,704.0 L1686.4,707.2Z M1690.8,699.6 L1689.6,699.6 L1688.2,697.8 L1686.1,695.7 L1686.5,694.1 L1687.8,694.1 L1689.1,694.5 L1690.3,696.5 L1692.1,699.2Z M1686.9,644.3 L1685.0,645.4 L1684.0,643.2 L1682.9,641.6 L1684.0,639.8 L1686.1,639.8 L1687.7,640.9 L1688.2,642.8Z M1683.7,631.7 L1682.9,631.9 L1681.8,632.4 L1680.9,631.3 L1681.0,630.0 L1681.8,629.2 L1683.1,629.2 L1683.9,630.0 L1684.5,631.1Z M1683.7,660.8 L1683.2,661.8 L1682.8,659.7 L1682.4,658.1 L1682.6,656.9 L1683.2,657.6 L1683.8,658.0 L1684.2,659.5 L1684.3,661.1Z M1680.4,647.3 L1678.7,647.3 L1676.3,644.7 L1677.4,642.6 L1679.4,643.9 L1680.6,645.6Z M1674.9,634.1 L1673.7,634.1 L1672.9,633.4 L1672.1,632.7 L1672.3,631.9 L1673.1,631.4 L1674.2,631.9 L1674.8,632.9Z M1689.8,676.7 L1688.0,676.1 L1687.4,675.0 L1687.6,673.4 L1689.3,673.7 L1690.4,674.9Z M1654.0,662.7 L1653.5,663.0 L1652.7,662.7 L1652.0,662.2 L1651.9,661.7 L1651.9,661.3 L1652.1,660.7 L1652.9,661.3 L1653.4,661.5 L1653.9,662.0Z M1684.1,620.9 L1682.3,620.5 L1681.8,618.5 L1682.0,617.2 L1682.6,615.5 L1683.9,616.7 L1684.9,617.7 L1685.6,619.9Z M1676.0,638.8 L1676.1,640.6 L1673.2,639.1 L1669.9,637.6 L1670.2,635.7 L1669.2,633.8 L1670.2,632.9 L1673.1,634.5 L1676.1,635.9 L1676.3,637.8Z M1691.4,696.4 L1687.5,694.4 L1684.6,691.5 L1684.5,689.0 L1687.0,690.0 L1689.4,692.3Z M1664.8,678.3 L1663.2,677.8 L1661.6,675.7 L1661.1,674.0 L1662.6,674.1 L1664.8,676.8Z M1675.1,663.9 L1674.5,663.9 L1674.1,663.0 L1674.5,662.3 L1675.1,662.4 L1675.7,662.7 L1675.6,663.5Z M1678.7,623.9 L1677.3,623.2 L1676.4,623.0 L1675.1,621.9 L1675.0,621.0 L1674.7,620.2 L1675.2,619.8 L1676.5,620.8 L1677.4,621.7 L1677.7,622.5Z M1676.1,679.7 L1674.2,678.7 L1673.9,676.9 L1673.6,674.6 L1675.4,675.9 L1676.4,677.6Z M1700.7,702.4 L1699.7,703.2 L1699.0,701.4 L1699.3,700.4 L1699.5,699.2 L1700.6,699.0 L1701.0,700.7 L1701.1,701.7Z M1663.4,666.7 L1662.6,667.0 L1661.3,666.3 L1659.4,664.7 L1658.5,662.4 L1658.6,660.4 L1660.8,661.4 L1662.3,663.0 L1663.8,664.5 L1664.4,666.3Z M1676.8,661.8 L1673.9,660.3 L1672.7,654.8 L1674.9,653.9 L1677.4,653.6 L1678.0,658.6Z M1702.2,701.1 L1700.6,701.3 L1698.6,700.4 L1697.7,698.0 L1697.9,696.1 L1698.3,694.2 L1700.2,694.7 L1701.5,696.2 L1703.7,697.7 L1703.3,699.9Z M1684.6,689.9 L1683.4,690.0 L1681.5,689.7 L1680.5,687.3 L1678.5,684.6 L1680.6,685.0 L1682.1,685.3 L1684.8,686.7 L1686.1,689.5Z M1670.4,649.2 L1668.4,648.0 L1665.9,646.8 L1665.1,643.5 L1666.2,642.3 L1667.7,640.9 L1670.1,644.2 L1670.6,647.0Z M1671.9,646.0 L1671.1,646.4 L1669.8,644.0 L1669.9,642.4 L1670.4,641.5 L1671.7,643.3 L1672.4,645.2Z M1666.2,662.2 L1665.3,662.3 L1664.4,660.5 L1664.0,658.9 L1665.3,659.8 L1666.7,661.5Z M1689.6,695.3 L1687.9,695.2 L1685.9,694.3 L1687.0,692.3 L1687.2,690.5 L1688.8,689.9 L1691.1,690.0 L1690.9,692.5 L1691.2,694.4Z M1678.0,620.8 L1677.1,619.8 L1676.5,618.1 L1676.1,616.3 L1676.6,615.5 L1677.3,616.5 L1678.1,617.7 L1678.5,619.8Z M1707.7,700.9 L1706.1,701.3 L1702.9,698.8 L1698.3,696.1 L1697.4,693.2 L1701.7,695.1 L1704.7,696.3 L1708.4,699.3Z M1673.1,636.8 L1671.9,636.8 L1670.8,634.8 L1671.1,633.8 L1672.1,634.0 L1673.9,635.8Z M1667.5,644.2 L1666.8,644.3 L1665.8,643.5 L1666.4,642.6 L1667.3,642.7 L1668.2,643.6Z M1647.9,676.8 L1647.3,676.1 L1646.8,676.0 L1646.1,675.3 L1646.5,674.7 L1646.8,674.3 L1647.2,674.6 L1647.9,674.6 L1648.0,675.4 L1648.2,676.2Z M1693.9,695.3 L1691.6,696.2 L1690.2,693.3 L1691.0,691.4 L1693.0,690.9 L1694.8,693.3Z M1694.4,678.8 L1692.7,677.4 L1691.6,675.6 L1690.6,674.0 L1689.6,671.5 L1691.3,672.9 L1692.2,672.2 L1693.5,674.7 L1694.2,676.8Z M1685.1,688.8 L1683.6,689.0 L1681.9,688.6 L1681.4,686.9 L1681.8,685.6 L1682.9,685.2 L1684.0,684.8 L1684.7,686.1 L1685.1,687.2Z M1672.1,652.2 L1671.0,651.4 L1670.3,650.0 L1669.9,648.3 L1670.9,648.7 L1671.7,649.5 L1672.2,650.8Z M1658.8,673.7 L1657.1,674.2 L1653.8,673.5 L1653.9,670.8 L1653.6,667.9 L1657.2,669.5 L1660.6,672.0Z M1683.3,654.8 L1680.4,653.2 L1679.1,653.8 L1677.5,651.5 L1675.6,649.8 L1675.9,648.9 L1677.3,649.2 L1678.8,649.8 L1681.3,650.9 L1682.2,652.7Z M1678.8,631.6 L1676.9,631.6 L1675.0,627.5 L1673.9,624.9 L1673.3,622.0 L1675.1,623.1 L1676.6,622.4 L1678.4,626.1 L1679.8,630.0Z M1703.2,698.6 L1702.0,698.6 L1701.1,698.4 L1699.8,697.8 L1700.8,696.7 L1701.4,696.0 L1702.4,695.6 L1703.9,696.1 L1703.3,697.5Z M1675.2,627.8 L1674.1,628.2 L1673.8,626.9 L1674.3,625.8 L1675.2,626.5 L1675.8,627.2Z M1671.1,639.4 L1669.3,638.4 L1669.0,635.9 L1669.4,633.9 L1670.9,635.2 L1672.1,637.6Z M1655.0,679.9 L1653.3,680.0 L1652.0,678.1 L1653.2,676.3 L1655.4,676.4 L1656.5,678.6Z M1679.2,685.2 L1677.9,685.2 L1676.7,685.0 L1676.6,683.8 L1676.0,682.7 L1676.9,681.8 L1678.1,682.1 L1679.5,682.5 L1680.0,684.0Z M1672.1,645.3 L1670.0,643.3 L1667.9,642.1 L1667.1,638.7 L1668.0,637.8 L1668.1,634.9 L1670.0,638.4 L1672.0,640.0 L1672.8,643.3Z M1686.0,704.8 L1684.4,703.9 L1683.1,700.5 L1681.6,695.6 L1683.1,693.5 L1684.8,694.9 L1686.0,696.6 L1687.6,699.8 L1686.8,702.6Z M1666.6,643.5 L1666.1,643.4 L1665.3,643.1 L1665.6,642.2 L1665.3,641.2 L1666.0,641.0 L1666.6,641.3 L1667.4,641.5 L1667.3,642.5 L1667.5,643.5Z M1704.1,690.1 L1702.4,689.8 L1701.1,688.1 L1702.0,686.5 L1703.8,686.5 L1704.9,688.5Z M1696.3,690.0 L1694.9,689.9 L1693.2,688.7 L1691.1,686.4 L1691.8,684.7 L1693.6,684.0 L1695.6,686.7 L1696.6,688.6Z M1694.8,677.0 L1694.2,677.9 L1692.8,676.0 L1692.4,674.4 L1692.1,673.2 L1692.4,672.6 L1692.9,672.0 L1694.1,673.0 L1694.8,674.8 L1695.1,676.2Z M1678.4,673.6 L1677.4,674.2 L1676.0,673.3 L1674.6,671.9 L1674.9,670.2 L1676.8,670.7 L1678.6,670.7 L1679.2,672.6Z M1680.6,649.7 L1677.7,647.6 L1676.0,643.3 L1676.6,639.3 L1680.1,641.0 L1680.9,646.0Z M1693.8,687.1 L1692.5,686.7 L1691.5,684.7 L1692.1,683.3 L1693.0,682.7 L1694.2,684.0 L1694.9,686.4Z M1687.7,680.9 L1686.0,682.4 L1683.5,680.2 L1683.7,678.1 L1684.6,677.0 L1686.7,677.0 L1689.0,679.2Z M1683.5,722.0 L1681.2,722.6 L1679.3,722.8 L1677.0,722.4 L1674.1,721.7 L1674.6,720.5 L1676.3,719.5 L1679.8,720.0 L1680.9,721.1Z M1693.5,729.4 L1692.8,729.9 L1691.7,729.7 L1690.0,729.2 L1689.9,727.9 L1689.9,726.9 L1690.6,726.1 L1692.1,726.0 L1693.1,727.6 L1693.3,728.5Z M1714.9,738.8 L1713.8,739.5 L1711.8,739.7 L1709.9,738.4 L1707.7,737.1 L1706.3,735.1 L1708.8,734.8 L1710.9,734.2 L1712.7,736.4 L1716.2,737.5Z M1693.3,721.9 L1692.2,722.8 L1690.7,722.2 L1689.2,720.7 L1690.8,718.8 L1692.9,720.4Z M1694.6,711.8 L1694.1,712.6 L1692.7,712.0 L1692.2,711.0 L1693.1,710.4 L1694.8,710.6Z M1685.9,712.4 L1684.8,712.5 L1683.7,712.4 L1683.6,711.5 L1683.5,710.8 L1684.5,710.9 L1685.3,711.4Z M1668.1,718.9 L1667.3,718.9 L1666.1,718.3 L1665.4,716.8 L1666.1,716.1 L1667.4,717.2 L1668.3,718.2Z M1678.1,723.0 L1678.0,724.2 L1675.9,724.5 L1673.1,723.7 L1673.6,722.2 L1672.7,720.8 L1675.0,721.1 L1676.5,721.3 L1678.5,721.9Z M1702.0,724.8 L1700.0,724.7 L1697.7,723.2 L1696.9,720.8 L1699.4,720.7 L1701.5,722.8Z M1681.6,728.3 L1680.8,728.8 L1679.7,728.5 L1680.0,727.6 L1680.5,726.9 L1681.4,727.4Z M1696.5,738.7 L1694.5,739.8 L1691.3,739.3 L1690.0,736.5 L1689.7,735.1 L1688.2,732.2 L1691.4,732.5 L1694.9,733.7 L1696.8,736.5Z M1673.2,720.9 L1671.1,720.6 L1668.4,719.7 L1668.5,718.6 L1669.7,718.4 L1671.6,719.4Z M1685.1,712.7 L1683.2,712.9 L1681.8,713.2 L1679.8,712.5 L1675.8,711.8 L1676.8,710.5 L1677.0,709.2 L1680.0,709.4 L1682.8,710.3 L1685.6,711.5Z M1691.7,702.3 L1690.9,703.8 L1688.7,704.4 L1686.7,703.4 L1684.7,701.4 L1686.6,699.6 L1689.4,698.9 L1691.9,700.2Z M1704.9,737.1 L1704.0,737.3 L1703.0,736.9 L1702.0,736.4 L1702.3,735.9 L1703.3,735.7 L1704.4,736.4Z M1712.0,730.0 L1709.8,729.4 L1707.8,729.0 L1705.9,727.0 L1706.0,725.7 L1707.6,725.8 L1709.7,726.3 L1711.9,728.4Z M1691.2,723.0 L1690.0,722.7 L1688.8,722.2 L1688.6,721.1 L1688.1,719.7 L1689.3,720.1 L1690.1,721.0 L1690.6,721.7Z M1667.7,722.9 L1664.5,722.9 L1660.8,719.9 L1659.1,715.6 L1661.6,714.0 L1665.4,715.9 L1666.9,719.5Z M1670.7,719.2 L1669.2,719.5 L1668.2,719.5 L1667.6,718.8 L1667.7,718.2 L1668.6,717.8 L1670.2,717.9Z M1687.8,717.3 L1686.3,716.9 L1685.0,716.0 L1684.9,715.1 L1685.9,715.2 L1686.9,716.0Z M1705.2,721.5 L1703.1,721.8 L1701.0,719.8 L1699.9,717.8 L1700.0,716.1 L1701.7,715.7 L1703.3,717.6 L1704.1,719.0Z M1682.4,727.0 L1681.7,727.8 L1680.4,727.5 L1679.0,726.2 L1680.4,725.0 L1681.8,725.2 L1683.5,725.7Z M1678.5,719.5 L1679.0,721.5 L1675.6,721.2 L1672.9,719.6 L1673.7,718.1 L1674.2,716.6 L1676.9,717.1 L1678.4,718.4Z M1694.0,727.1 L1693.9,727.9 L1692.3,727.7 L1691.5,727.3 L1690.8,726.9 L1690.3,726.4 L1690.7,726.0 L1691.4,725.6 L1692.8,725.8 L1693.3,726.5Z M1698.9,714.8 L1697.9,715.5 L1696.8,715.6 L1695.8,714.9 L1695.8,713.6 L1697.1,712.6 L1698.0,713.9Z M1680.4,721.9 L1679.7,722.5 L1677.5,721.0 L1676.4,719.3 L1675.7,718.2 L1674.1,716.0 L1675.9,716.6 L1677.6,717.3 L1679.3,719.1 L1681.0,721.0Z M1692.1,724.3 L1691.8,725.1 L1690.9,724.9 L1690.2,724.3 L1690.0,723.4 L1690.6,722.8 L1691.4,722.8 L1692.2,722.9 L1692.9,723.7Z M1696.3,725.9 L1696.0,726.4 L1695.2,726.2 L1694.8,725.5 L1695.5,725.2 L1696.4,725.2Z M1699.4,720.8 L1697.1,721.2 L1693.6,720.0 L1689.4,719.2 L1685.2,716.3 L1687.1,715.0 L1688.8,714.4 L1692.0,714.9 L1695.7,716.5 L1699.0,718.8Z M1706.4,726.4 L1705.9,728.2 L1701.7,727.4 L1700.3,725.5 L1699.5,723.5 L1702.9,723.6 L1707.0,724.5Z M1683.9,718.3 L1681.4,718.2 L1678.0,717.1 L1674.3,714.2 L1675.0,712.4 L1676.1,710.7 L1680.5,713.3 L1682.8,715.9Z M1681.3,716.4 L1679.9,717.1 L1676.8,714.8 L1676.1,712.5 L1676.5,711.1 L1679.1,712.8 L1682.5,715.1Z M1698.6,730.4 L1698.7,732.2 L1695.2,731.2 L1692.1,730.0 L1689.3,727.8 L1691.7,727.0 L1693.9,727.0 L1697.2,726.9 L1698.7,729.1Z M1708.6,742.6 L1708.3,743.3 L1707.3,742.7 L1706.7,742.1 L1705.8,741.2 L1706.5,740.9 L1706.9,740.3 L1707.9,740.4 L1708.8,741.3 L1708.9,742.1Z M1703.3,742.7 L1701.2,741.7 L1699.1,742.8 L1697.9,740.0 L1697.3,737.9 L1697.0,735.3 L1699.5,736.2 L1701.1,737.8 L1702.8,738.9 L1702.6,740.4Z M1707.9,734.2 L1704.7,734.5 L1701.7,734.1 L1697.4,733.4 L1695.6,731.3 L1697.6,730.5 L1700.0,730.6 L1702.5,731.1 L1705.1,732.3Z M1700.3,724.0 L1698.9,724.5 L1696.7,722.3 L1694.8,719.9 L1695.9,719.0 L1698.4,720.3 L1700.0,722.4Z M1699.5,713.6 L1697.4,714.3 L1693.8,712.9 L1691.1,712.0 L1686.9,710.1 L1687.7,708.5 L1689.3,707.6 L1692.3,707.6 L1695.9,709.5 L1696.7,711.3Z M1702.6,737.2 L1701.1,737.0 L1700.4,737.0 L1698.9,736.8 L1697.9,735.9 L1698.5,735.5 L1699.1,735.3 L1699.9,735.5 L1700.9,735.7 L1702.4,736.4Z M1691.4,708.1 L1690.7,709.0 L1688.8,708.3 L1688.7,707.4 L1689.4,707.0 L1691.3,706.8Z M1707.0,826.1 L1704.5,827.4 L1701.0,828.9 L1697.8,827.1 L1694.1,825.5 L1697.4,824.1 L1701.3,822.8 L1706.2,824.0Z M1707.8,822.1 L1705.8,823.0 L1704.5,821.2 L1703.3,819.6 L1704.6,818.3 L1706.8,817.9 L1707.3,820.1Z M1706.3,830.3 L1704.3,831.3 L1701.4,831.1 L1698.6,830.0 L1698.5,828.5 L1699.6,827.4 L1702.2,827.7 L1704.5,828.6Z M1706.3,832.5 L1703.4,833.0 L1701.1,830.1 L1700.2,827.6 L1702.6,826.6 L1705.5,829.6Z M1699.9,804.3 L1697.9,805.6 L1693.3,802.6 L1690.8,800.2 L1691.4,798.8 L1694.9,799.8 L1697.6,801.7Z M1705.0,825.8 L1703.5,826.0 L1701.5,825.2 L1700.9,823.5 L1702.8,823.4 L1704.2,824.4Z M1710.6,809.6 L1709.1,810.6 L1707.1,810.0 L1705.2,809.2 L1705.8,807.6 L1704.3,805.8 L1706.3,805.9 L1707.8,805.1 L1708.9,806.7 L1709.5,807.8Z M1690.8,810.6 L1688.7,810.3 L1686.7,809.5 L1683.7,807.8 L1684.4,806.5 L1685.4,805.5 L1688.2,807.1 L1689.9,808.8Z M1694.2,823.3 L1693.5,824.1 L1692.1,823.2 L1690.9,822.7 L1690.8,821.6 L1691.0,820.6 L1692.2,820.0 L1694.0,820.7 L1694.6,822.2Z M1720.2,817.2 L1718.3,818.1 L1716.0,815.9 L1715.6,813.9 L1717.7,813.8 L1720.5,815.0Z M1711.1,803.2 L1711.8,804.2 L1710.7,804.8 L1709.6,804.5 L1709.1,803.8 L1708.5,803.3 L1708.4,802.3 L1709.6,802.3 L1710.5,801.9 L1711.3,802.4Z M1693.2,798.0 L1693.0,798.3 L1692.5,798.7 L1692.0,798.2 L1691.6,797.9 L1691.2,797.4 L1692.0,797.3 L1692.7,797.3 L1693.6,797.5Z M1715.5,828.0 L1715.3,829.7 L1711.2,829.7 L1706.6,827.6 L1705.5,825.4 L1707.5,824.6 L1708.6,823.4 L1712.3,824.9 L1716.0,826.5Z M1693.4,805.6 L1692.4,806.4 L1691.4,807.2 L1690.1,806.7 L1690.4,805.3 L1689.8,804.1 L1691.1,803.9 L1692.1,803.9 L1692.8,804.5Z M1703.3,800.9 L1703.0,801.9 L1701.3,802.2 L1699.9,801.2 L1700.1,800.1 L1700.4,799.0 L1702.3,798.5 L1703.8,799.8Z M1717.6,816.8 L1715.0,818.1 L1712.9,819.5 L1709.7,818.5 L1705.7,818.4 L1707.7,816.7 L1707.8,815.6 L1709.1,813.9 L1712.2,815.2 L1714.3,815.7Z M1703.7,814.8 L1703.1,815.3 L1702.0,815.1 L1701.3,814.4 L1700.6,813.7 L1700.1,812.7 L1701.0,812.2 L1702.2,811.8 L1703.3,813.1 L1703.7,814.0Z M1696.5,825.1 L1695.0,825.8 L1693.2,824.8 L1692.8,823.6 L1693.2,822.9 L1694.4,822.3 L1696.2,823.5Z M1710.1,824.6 L1709.2,826.5 L1705.2,826.1 L1700.9,825.2 L1702.9,823.3 L1705.1,821.5 L1709.3,822.8Z M1717.6,816.5 L1716.3,817.0 L1714.6,817.4 L1713.1,816.3 L1711.8,815.6 L1712.4,814.9 L1712.9,813.9 L1715.3,814.4 L1717.1,815.4Z M1708.7,807.3 L1707.2,807.9 L1705.3,806.1 L1703.0,804.1 L1704.2,802.9 L1706.7,804.2 L1708.5,805.7Z M1702.4,828.3 L1701.2,829.2 L1699.1,828.9 L1697.6,828.1 L1696.1,826.2 L1699.3,825.7 L1701.4,827.1Z M1692.5,795.3 L1691.9,795.9 L1691.1,796.2 L1690.2,795.9 L1690.4,795.1 L1691.0,794.6 L1691.9,794.6Z M1694.4,816.5 L1691.7,816.5 L1689.8,815.5 L1688.8,813.7 L1690.7,812.8 L1693.5,814.0Z M1690.8,812.5 L1690.0,812.9 L1689.0,813.1 L1688.7,812.3 L1687.8,811.7 L1688.8,811.6 L1689.5,811.4 L1690.1,811.9Z M1702.7,820.6 L1697.9,820.3 L1691.4,817.4 L1689.5,813.8 L1693.8,813.8 L1700.3,816.7Z M1705.7,824.6 L1704.9,825.1 L1703.5,824.9 L1702.5,824.4 L1702.7,823.9 L1703.5,823.4 L1705.7,823.6Z M1703.3,805.2 L1701.7,805.5 L1699.8,804.9 L1700.0,803.0 L1701.7,802.4 L1703.4,803.5Z M1696.4,792.7 L1695.6,793.1 L1693.8,792.2 L1692.1,791.9 L1690.8,790.9 L1691.1,790.2 L1691.9,790.0 L1693.1,789.9 L1694.8,790.8 L1695.8,791.8Z M1707.0,825.5 L1704.3,825.3 L1700.5,823.6 L1699.6,821.2 L1700.5,820.5 L1702.8,821.0 L1706.0,823.1Z M1694.2,808.9 L1693.3,809.9 L1691.8,811.6 L1686.9,811.9 L1684.7,810.5 L1683.3,809.5 L1683.3,808.1 L1687.1,807.2 L1691.0,807.0 L1695.1,807.3Z M1711.9,822.5 L1710.5,822.5 L1709.2,821.6 L1708.6,820.4 L1709.0,819.5 L1710.5,819.8 L1711.3,821.1Z M1716.0,810.4 L1715.7,810.9 L1715.0,811.0 L1714.7,810.3 L1714.7,809.8 L1715.1,809.4 L1715.6,808.9 L1716.3,809.3 L1716.8,809.9Z M1699.3,811.6 L1696.4,812.5 L1693.5,812.6 L1689.4,812.2 L1688.7,810.4 L1690.5,809.2 L1694.0,808.2 L1697.2,810.0Z M1699.9,813.2 L1699.2,813.2 L1698.1,813.0 L1696.7,812.1 L1697.0,811.7 L1697.2,811.1 L1698.7,811.9 L1700.0,812.7Z M1722.1,819.2 L1719.7,819.4 L1716.1,817.7 L1715.0,815.6 L1717.0,814.6 L1721.9,817.0Z M1714.0,819.0 L1713.6,819.9 L1712.0,820.2 L1710.5,819.8 L1710.7,818.9 L1711.2,818.3 L1712.1,818.0 L1713.6,818.2Z M1711.5,817.9 L1709.4,819.8 L1705.0,819.5 L1702.7,818.3 L1703.4,817.0 L1704.9,815.4 L1708.8,816.2Z M1715.8,828.2 L1714.6,829.2 L1710.6,828.1 L1707.7,825.8 L1709.9,825.3 L1712.1,825.0 L1714.2,826.7Z M1707.1,811.0 L1706.9,812.3 L1704.2,812.2 L1702.7,811.9 L1700.3,811.9 L1700.2,810.7 L1700.0,809.4 L1702.5,809.3 L1704.6,809.0 L1706.2,809.9Z M1696.9,775.9 L1696.4,776.8 L1694.7,777.8 L1693.6,776.8 L1692.3,775.9 L1694.6,775.4 L1696.4,775.0Z M1727.7,781.0 L1727.8,781.8 L1726.3,782.7 L1724.7,782.5 L1725.1,781.5 L1725.8,780.8 L1726.9,780.7Z M1718.8,770.3 L1718.9,771.4 L1718.1,772.5 L1717.3,773.6 L1716.0,773.7 L1715.1,773.3 L1714.4,772.4 L1715.0,771.0 L1716.5,770.6 L1717.7,769.8Z M1711.3,771.8 L1711.7,773.7 L1708.4,775.8 L1705.6,775.4 L1706.0,773.5 L1707.2,772.0 L1709.4,771.3Z M1714.5,758.8 L1713.3,760.6 L1711.3,762.6 L1708.3,761.9 L1705.0,762.3 L1704.0,760.8 L1706.9,759.1 L1709.8,757.5 L1711.8,758.5Z M1706.2,760.8 L1705.8,762.3 L1705.1,763.2 L1704.0,764.8 L1703.0,764.0 L1703.4,762.8 L1703.5,761.6 L1704.7,761.4Z M1715.5,767.6 L1716.3,768.3 L1714.8,768.9 L1713.3,769.8 L1712.0,769.3 L1711.1,768.6 L1710.9,767.6 L1712.4,766.5 L1714.4,766.0 L1716.2,766.3Z M1698.1,762.3 L1698.0,764.3 L1696.8,766.6 L1694.7,769.1 L1693.0,769.0 L1691.4,768.9 L1693.0,766.3 L1694.4,764.9 L1696.2,762.4Z M1716.6,780.0 L1716.5,780.7 L1716.2,781.4 L1715.5,781.9 L1715.0,781.7 L1714.4,781.2 L1714.9,780.1 L1715.9,779.8Z M1709.6,777.6 L1709.5,778.2 L1709.0,778.6 L1708.4,778.6 L1708.0,778.3 L1707.3,777.7 L1707.9,777.1 L1708.6,777.1 L1709.5,776.7Z M1722.1,779.1 L1722.7,780.7 L1721.1,781.5 L1719.4,781.5 L1719.2,779.7 L1720.7,779.0Z M1710.2,779.4 L1709.0,780.3 L1708.3,781.4 L1705.9,782.0 L1705.5,780.8 L1703.6,780.1 L1706.4,779.4 L1707.6,778.6 L1709.8,778.4Z M1718.1,772.3 L1718.5,773.4 L1716.3,774.2 L1714.4,774.8 L1714.6,773.7 L1715.3,772.5 L1717.3,771.6Z M1715.1,773.3 L1715.1,774.3 L1713.5,775.2 L1711.8,776.7 L1710.6,776.0 L1708.6,776.2 L1710.6,774.7 L1710.7,773.6 L1712.7,772.5 L1714.3,772.7Z M1698.3,757.3 L1698.2,759.1 L1697.5,760.8 L1695.5,761.3 L1694.3,759.7 L1694.3,757.6 L1696.4,756.1Z M1708.3,758.9 L1708.6,759.9 L1707.8,761.0 L1706.4,761.3 L1705.5,760.6 L1705.8,759.5 L1706.0,758.1 L1707.4,758.6Z M1716.3,777.8 L1715.6,779.6 L1714.9,781.3 L1713.2,780.7 L1711.9,779.6 L1712.7,777.8 L1714.4,778.0Z M1702.0,767.5 L1702.1,768.1 L1702.0,769.1 L1701.0,769.0 L1700.1,769.1 L1700.4,768.2 L1700.4,767.2 L1701.5,766.7Z M1716.8,776.8 L1716.9,777.8 L1715.6,778.9 L1714.7,779.6 L1713.2,780.7 L1713.1,779.6 L1712.7,779.0 L1713.4,778.0 L1714.4,777.3 L1715.6,776.8Z M1694.2,768.4 L1694.0,769.7 L1692.8,770.6 L1691.3,770.7 L1690.6,769.7 L1690.9,767.7 L1693.3,767.1Z M1725.7,768.9 L1726.1,769.5 L1725.7,770.5 L1725.1,771.4 L1724.3,771.2 L1723.5,771.6 L1723.0,771.0 L1723.7,770.1 L1724.1,769.1 L1724.9,769.0Z M1710.2,778.4 L1709.1,780.4 L1705.8,781.3 L1702.6,782.2 L1701.9,780.7 L1699.4,779.7 L1702.0,778.1 L1705.1,777.0 L1707.7,777.6Z M1712.4,759.7 L1712.7,761.0 L1712.3,762.2 L1711.5,762.9 L1710.5,763.3 L1709.5,762.9 L1708.2,762.2 L1708.9,760.8 L1709.7,759.6 L1711.1,759.3Z M1706.1,758.4 L1706.3,760.0 L1704.8,762.2 L1703.0,763.4 L1700.6,765.2 L1701.1,763.2 L1700.7,762.0 L1702.5,760.2 L1703.9,759.8Z M1709.7,762.4 L1708.1,764.8 L1704.0,766.5 L1700.8,766.3 L1700.2,764.7 L1703.3,763.1 L1707.2,761.2Z M1826.3,497.4 L1825.3,497.5 L1824.2,496.6 L1824.0,495.2 L1823.5,493.9 L1823.4,492.2 L1824.8,492.4 L1826.1,493.5 L1827.2,495.1 L1826.2,496.0Z M1832.0,482.4 L1830.6,482.2 L1830.5,479.2 L1831.9,478.3 L1833.2,479.2 L1833.0,481.7Z M1813.4,492.3 L1812.0,491.3 L1810.5,490.1 L1811.6,488.9 L1812.6,487.9 L1814.0,488.9 L1813.9,490.6Z M1819.5,491.8 L1819.0,490.8 L1818.4,490.0 L1818.7,488.2 L1818.8,485.7 L1819.6,486.1 L1820.1,487.0 L1820.6,488.1 L1820.6,490.0 L1820.3,492.3Z M1821.1,487.8 L1818.6,486.6 L1817.1,484.4 L1817.5,482.5 L1819.4,482.8 L1821.7,485.1Z M1811.6,493.3 L1810.8,492.9 L1810.0,492.4 L1809.8,491.2 L1810.6,490.9 L1811.3,491.8 L1812.0,492.6Z M1818.2,498.3 L1815.8,494.4 L1814.6,490.4 L1816.2,489.3 L1818.4,489.1 L1819.4,494.4Z M1813.2,484.5 L1812.2,484.2 L1810.9,484.2 L1810.1,482.6 L1809.5,480.8 L1810.5,480.2 L1811.6,480.0 L1812.6,481.3 L1813.5,482.3 L1813.6,483.6Z M1821.8,482.6 L1820.3,483.4 L1817.9,479.7 L1815.4,475.7 L1817.0,474.6 L1820.4,477.2 L1822.3,481.1Z M1811.7,499.4 L1810.4,498.4 L1809.7,495.2 L1811.0,494.9 L1812.0,495.3 L1812.5,497.9Z M1813.2,481.6 L1812.4,480.7 L1812.4,479.2 L1813.5,478.7 L1814.6,479.4 L1814.3,480.9Z M1824.1,485.3 L1822.3,485.3 L1821.5,483.1 L1822.6,482.1 L1824.1,481.8 L1825.3,483.9Z M1824.2,489.6 L1822.0,487.8 L1820.5,486.0 L1820.6,484.0 L1821.7,482.8 L1823.9,484.1 L1823.9,486.6Z M1812.2,481.4 L1811.4,480.5 L1810.8,480.3 L1810.4,479.5 L1810.3,478.6 L1810.7,478.2 L1811.3,478.6 L1811.9,478.9 L1812.4,479.6 L1812.5,480.6Z M1814.9,491.6 L1813.2,490.4 L1811.4,489.9 L1809.1,486.8 L1809.1,484.4 L1810.2,483.4 L1812.5,484.5 L1814.0,487.8 L1815.3,490.2Z M1827.0,488.8 L1825.3,489.4 L1825.2,487.2 L1824.6,485.2 L1826.1,484.2 L1827.6,484.0 L1828.5,485.5 L1828.7,487.1 L1828.6,489.2Z M1821.7,487.4 L1821.0,485.7 L1820.7,484.0 L1820.9,481.6 L1822.0,483.2 L1822.2,485.8Z M1808.0,487.6 L1807.3,486.9 L1806.3,486.4 L1806.4,485.1 L1807.3,484.9 L1808.0,484.8 L1808.3,485.8 L1808.6,486.9Z M1817.0,485.5 L1815.0,485.1 L1812.2,481.9 L1813.3,480.6 L1814.8,480.4 L1816.4,483.2Z M1822.4,497.4 L1820.9,496.4 L1819.8,494.8 L1819.7,493.0 L1821.3,494.0 L1822.2,495.6Z M1810.8,495.2 L1810.5,491.9 L1810.0,490.5 L1810.1,488.1 L1810.6,485.1 L1811.7,485.0 L1812.8,485.3 L1813.3,488.0 L1812.8,491.1 L1812.1,493.8Z M1832.7,496.3 L1831.0,494.8 L1829.4,494.0 L1827.6,490.8 L1827.9,488.9 L1828.1,487.1 L1829.7,488.9 L1830.9,490.1 L1833.0,492.3 L1833.8,495.6Z M1832.9,484.5 L1831.4,484.0 L1830.3,482.4 L1830.3,480.3 L1831.2,479.2 L1832.4,479.2 L1833.1,480.3 L1834.2,481.5 L1834.3,483.7Z M1819.4,487.5 L1818.1,486.7 L1817.7,484.7 L1819.0,483.3 L1821.0,482.4 L1822.2,484.9 L1821.5,487.7Z M1826.0,498.1 L1824.8,497.6 L1823.0,495.0 L1822.4,491.2 L1823.6,489.9 L1825.8,494.1 L1827.4,497.9Z M1785.0,527.7 L1783.3,527.3 L1784.2,525.5 L1784.7,524.2 L1786.1,523.0 L1787.0,524.6 L1786.8,526.1 L1786.2,527.3Z M1799.5,520.5 L1798.9,520.0 L1799.8,519.4 L1800.4,518.9 L1801.2,518.7 L1802.3,518.6 L1801.9,519.6 L1801.9,520.5 L1800.7,520.7 L1800.0,520.8Z M1779.4,529.3 L1778.2,528.0 L1778.6,526.5 L1779.5,525.1 L1780.9,525.9 L1782.0,527.1 L1781.3,529.0Z M1804.6,520.6 L1802.2,521.0 L1798.9,520.0 L1797.7,517.7 L1798.9,516.7 L1801.0,517.2 L1803.6,518.4Z M1793.6,522.6 L1792.7,524.2 L1789.5,522.6 L1787.5,520.3 L1790.0,518.9 L1793.8,520.8Z M1795.7,514.5 L1795.7,513.1 L1797.8,513.1 L1799.2,513.8 L1798.7,515.4 L1796.0,516.2Z M1800.4,518.4 L1798.5,519.1 L1795.6,517.5 L1794.9,515.4 L1797.2,515.4 L1798.9,516.7Z M1783.7,520.7 L1781.2,520.1 L1779.7,517.7 L1780.7,516.5 L1782.0,516.3 L1783.9,518.1Z M1801.7,519.5 L1801.2,519.9 L1800.1,519.9 L1798.7,519.1 L1799.1,518.3 L1799.3,517.2 L1801.2,517.7 L1802.6,518.9Z M1778.7,525.5 L1778.7,522.6 L1780.3,519.6 L1782.9,519.7 L1782.6,522.3 L1781.3,524.2Z M1786.9,526.6 L1787.6,525.1 L1787.9,523.8 L1789.5,522.9 L1790.5,523.8 L1790.5,525.0 L1789.4,525.8 L1788.2,527.1Z M1788.3,526.2 L1788.8,524.6 L1789.7,523.7 L1790.6,523.7 L1791.2,524.3 L1790.9,525.2 L1789.9,526.5Z M1540.4,1173.7 L1539.6,1172.8 L1539.3,1171.5 L1538.9,1170.1 L1539.3,1168.7 L1540.1,1169.5 L1541.2,1169.4 L1541.1,1171.4 L1540.9,1172.6Z M1541.8,1185.6 L1539.9,1183.3 L1539.5,1178.3 L1541.7,1178.4 L1543.7,1178.6 L1542.9,1182.4Z M1536.4,1166.6 L1535.3,1164.8 L1533.5,1163.9 L1533.7,1161.2 L1535.1,1159.7 L1536.7,1159.5 L1537.9,1161.2 L1538.6,1163.4 L1537.2,1164.5Z M1537.5,1181.8 L1536.6,1181.2 L1536.3,1179.4 L1536.5,1177.1 L1537.8,1177.9 L1538.2,1179.4 L1538.1,1180.7Z M1540.1,1175.0 L1538.8,1175.1 L1537.2,1173.0 L1536.1,1171.4 L1535.3,1169.5 L1534.7,1167.0 L1536.9,1168.5 L1538.5,1169.3 L1539.6,1171.5 L1539.7,1172.9Z M1542.7,1174.1 L1541.1,1175.3 L1539.9,1171.2 L1540.2,1166.7 L1540.5,1162.3 L1542.1,1162.5 L1543.3,1164.0 L1543.9,1166.9 L1545.0,1170.8 L1543.5,1172.1Z M1542.7,1174.8 L1540.9,1173.6 L1540.3,1168.9 L1541.7,1164.3 L1544.3,1168.0 L1544.0,1173.1Z M1532.8,1165.3 L1531.0,1165.7 L1528.9,1164.9 L1527.9,1162.8 L1528.1,1161.3 L1528.9,1160.1 L1530.7,1159.9 L1531.9,1161.8 L1532.8,1163.4Z M1534.1,1179.3 L1533.3,1179.0 L1533.0,1178.1 L1533.7,1177.4 L1534.4,1177.6 L1534.9,1178.1 L1535.0,1179.1Z M1546.2,1164.9 L1544.5,1163.5 L1543.5,1162.2 L1543.4,1160.9 L1544.6,1161.3 L1546.4,1163.1Z M1538.4,1184.5 L1536.1,1184.0 L1534.8,1181.6 L1533.2,1179.0 L1534.6,1177.5 L1537.4,1179.2 L1539.1,1182.3Z M1534.9,1178.4 L1533.0,1178.5 L1531.8,1176.4 L1532.5,1174.6 L1534.2,1175.1 L1535.3,1176.7Z M1538.5,1164.3 L1537.2,1162.9 L1536.6,1160.7 L1537.6,1159.2 L1538.6,1156.9 L1540.4,1157.7 L1540.3,1160.7 L1539.7,1162.6Z M1533.5,1168.1 L1531.3,1167.1 L1529.1,1162.9 L1527.7,1158.6 L1527.0,1153.9 L1529.7,1156.9 L1531.2,1158.6 L1533.6,1161.3 L1532.9,1163.8Z M150.2,823.0 L150.0,823.8 L148.9,824.0 L147.7,824.1 L147.0,823.4 L146.7,822.6 L147.6,821.9 L148.9,821.6 L149.9,822.3Z M164.4,824.0 L164.1,824.9 L162.8,825.3 L161.3,825.0 L159.8,824.4 L159.7,823.5 L161.2,823.1 L162.8,822.9 L163.9,823.1Z M163.6,859.2 L163.4,859.6 L162.6,860.0 L161.6,859.7 L161.1,859.4 L161.2,858.9 L161.7,858.6 L162.6,858.4 L163.2,858.7Z M202.8,862.9 L202.5,864.7 L201.4,865.2 L200.1,865.0 L199.6,863.6 L199.4,862.2 L200.3,860.7 L201.4,860.3 L202.2,861.6Z M195.5,882.2 L195.4,884.3 L194.9,885.5 L194.4,884.9 L194.1,883.3 L194.2,881.2 L194.4,879.5 L194.9,879.4 L195.5,880.6Z M181.4,853.4 L181.4,853.7 L181.1,853.8 L180.9,853.8 L180.8,853.6 L180.7,853.3 L180.9,853.1 L181.1,853.0 L181.3,853.2Z M198.7,1367.6 L198.2,1370.3 L197.3,1371.2 L196.2,1369.9 L195.7,1367.6 L196.2,1365.0 L197.3,1364.2 L198.2,1365.4Z M208.8,1471.2 L208.2,1471.8 L207.3,1472.2 L206.1,1471.8 L205.9,1471.2 L206.4,1470.5 L207.3,1470.3 L208.4,1470.5Z M214.5,1490.7 L214.3,1491.3 L213.5,1491.7 L212.7,1491.3 L212.5,1490.7 L212.7,1489.9 L213.5,1489.6 L214.4,1490.0Z M284.2,1227.7 L284.0,1228.2 L283.5,1228.3 L283.0,1228.2 L282.8,1227.7 L282.9,1227.2 L283.5,1227.0 L284.0,1227.2Z M290.2,1253.9 L290.0,1254.3 L289.7,1254.3 L289.4,1254.2 L289.2,1253.9 L289.4,1253.6 L289.7,1253.4 L290.1,1253.6Z M1049.6,1120.5 L1049.7,1118.4 L1049.2,1114.9 L1052.6,1115.9 L1055.2,1116.3 L1056.3,1119.0 L1054.1,1121.2 L1051.3,1123.2Z M1052.3,1131.2 L1050.4,1128.3 L1052.3,1123.4 L1055.0,1121.4 L1056.3,1124.4 L1054.8,1128.3Z M1062.9,1125.8 L1059.3,1122.8 L1058.2,1118.9 L1059.2,1115.6 L1062.3,1112.7 L1064.6,1117.4 L1066.3,1122.5Z M1054.8,1133.4 L1051.5,1132.8 L1048.4,1129.3 L1049.4,1126.0 L1052.5,1127.4 L1056.6,1130.2Z M1055.4,1129.1 L1052.6,1129.5 L1053.5,1125.7 L1054.4,1122.7 L1056.7,1123.3 L1057.9,1125.7 L1057.4,1128.7Z" fill="none" stroke="#4d4d4d" stroke-width="1.1" stroke-linejoin="round"/>
</g>
<g id="labels">
<text x="417.29" y="305.60" font-size="47.70" font-weight="bold" stroke="#fff" stroke-width="6.2" stroke-linejoin="round" paint-order="stroke">Below</text>
<text x="910.64" y="678.70" font-size="47.70" font-weight="bold" stroke="#fff" stroke-width="6.2" stroke-linejoin="round" paint-order="stroke">Below</text>
<text x="893.29" y="1100.40" font-size="47.70" font-weight="bold" stroke="#fff" stroke-width="6.2" stroke-linejoin="round" paint-order="stroke">Below</text>
<text x="564.37" y="986.50" font-size="47.70" font-weight="bold" stroke="#fff" stroke-width="6.2" stroke-linejoin="round" paint-order="stroke">Above</text>
<text x="1402.47" y="830.20" font-size="47.70" font-weight="bold" stroke="#fff" stroke-width="6.2" stroke-linejoin="round" paint-order="stroke">Above</text>
<text x="426.58" y="630.60" font-size="47.70" font-weight="bold" stroke="#fff" stroke-width="6.2" stroke-linejoin="round" paint-order="stroke">Equal</text>
<text x="392.26" y="685.60" font-size="47.70" font-weight="bold" stroke="#fff" stroke-width="6.2" stroke-linejoin="round" paint-order="stroke">Chances</text>
<text x="1770.73" y="289.70" font-size="47.70" font-weight="bold" stroke="#fff" stroke-width="6.2" stroke-linejoin="round" paint-order="stroke">Equal</text>
<text x="1736.21" y="345.00" font-size="47.70" font-weight="bold" stroke="#fff" stroke-width="6.2" stroke-linejoin="round" paint-order="stroke">Chances</text>
<text x="1470.93" y="1054.60" font-size="47.70" font-weight="bold" stroke="#fff" stroke-width="6.2" stroke-linejoin="round" paint-order="stroke">Equal</text>
<text x="1436.81" y="1109.40" font-size="47.70" font-weight="bold" stroke="#fff" stroke-width="6.2" stroke-linejoin="round" paint-order="stroke">Chances</text>
<text x="359.93" y="1227.60" font-size="36.80" font-weight="bold" stroke="#fff" stroke-width="5" stroke-linejoin="round" paint-order="stroke">Above</text>
<text x="494.55" y="1321.30" font-size="36.80" font-weight="bold" stroke="#fff" stroke-width="5" stroke-linejoin="round" paint-order="stroke">Equal</text>
<text x="467.02" y="1364.20" font-size="36.80" font-weight="bold" stroke="#fff" stroke-width="5" stroke-linejoin="round" paint-order="stroke">Chances</text>
</g>
<g id="title">
<text x="317.31" y="91.90" font-size="95.58">Monthly Precipitation Outlook</text>
<text x="630.08" y="165.80" font-size="42.30" font-weight="bold">Valid:</text>
<text x="766.16" y="165.80" font-size="42.51">July 2025</text>
<text x="629.43" y="214.00" font-size="42.52" font-weight="bold">Issued:</text>
<text x="801.76" y="214.00" font-size="42.39">June 30, 2025</text>
</g>
<g id="legend">
<text x="1190.00" y="1210.20" font-size="33.90" font-weight="bold">Probability</text>
<text x="1138.86" y="1251.00" font-size="34.10" font-weight="bold">(Percent Chance)</text>
<text x="1079.74" y="1284.70" font-size="25.80" font-weight="bold">Above</text>
<text x="1075.09" y="1314.80" font-size="25.80" font-weight="bold">Normal</text>
<text x="1251.07" y="1281.80" font-size="25.80" font-weight="bold">Near</text>
<text x="1235.19" y="1310.80" font-size="25.80" font-weight="bold">Normal</text>
<text x="1411.51" y="1283.50" font-size="25.80" font-weight="bold">Below</text>
<text x="1405.89" y="1313.60" font-size="25.80" font-weight="bold">Normal</text>
<text x="1244.36" y="1462.50" font-size="25.80" font-weight="bold">Equal</text>
<text x="1225.69" y="1492.50" font-size="25.80" font-weight="bold">Chances</text>
<rect x="1036.2" y="1329.8" width="58.2" height="25.2" fill="#b3d9ab" stroke="#8a8a8a" stroke-width="1"/>
<text x="1109.13" y="1350.10" font-size="23.1">33-40%</text>
<rect x="1036.2" y="1371.1" width="58.2" height="25.2" fill="#a1d08b" stroke="#8a8a8a" stroke-width="1"/>
<text x="1109.48" y="1391.40" font-size="23.1">40-50%</text>
<rect x="1036.2" y="1412.4" width="58.2" height="25.2" fill="#68b843" stroke="#8a8a8a" stroke-width="1"/>
<text x="1109.08" y="1432.70" font-size="23.1">50-60%</text>
<rect x="1036.2" y="1453.6" width="58.2" height="25.2" fill="#3c9f3c" stroke="#8a8a8a" stroke-width="1"/>
<text x="1108.85" y="1474.00" font-size="23.1">60-70%</text>
<rect x="1036.2" y="1494.9" width="58.2" height="25.2" fill="#308a30" stroke="#8a8a8a" stroke-width="1"/>
<text x="1108.79" y="1515.30" font-size="23.1">70-80%</text>
<rect x="1036.2" y="1536.2" width="58.2" height="25.2" fill="#3d6b22" stroke="#8a8a8a" stroke-width="1"/>
<text x="1109.02" y="1556.60" font-size="23.1">80-90%</text>
<rect x="1036.2" y="1577.5" width="58.2" height="25.2" fill="#365212" stroke="#8a8a8a" stroke-width="1"/>
<text x="1108.90" y="1597.90" font-size="23.1">90-100%</text>
<rect x="1367.6" y="1327.6" width="58" height="25.9" fill="#f0d493" stroke="#767676" stroke-width="2"/>
<text x="1439.73" y="1349.10" font-size="23.1">33-40%</text>
<rect x="1367.6" y="1369.2" width="58" height="25.9" fill="#d8a750" stroke="#767676" stroke-width="2"/>
<text x="1440.08" y="1390.60" font-size="23.1">40-50%</text>
<rect x="1367.6" y="1410.9" width="58" height="25.9" fill="#bb6d33" stroke="#767676" stroke-width="2"/>
<text x="1439.68" y="1432.10" font-size="23.1">50-60%</text>
<rect x="1367.6" y="1452.5" width="58" height="25.9" fill="#9b5031" stroke="#767676" stroke-width="2"/>
<text x="1439.44" y="1473.60" font-size="23.1">60-70%</text>
<rect x="1367.6" y="1494.2" width="58" height="25.9" fill="#934639" stroke="#767676" stroke-width="2"/>
<text x="1439.39" y="1515.10" font-size="23.1">70-80%</text>
<rect x="1367.6" y="1535.8" width="58" height="25.9" fill="#804000" stroke="#767676" stroke-width="2"/>
<text x="1439.62" y="1556.60" font-size="23.1">80-90%</text>
<rect x="1367.6" y="1577.5" width="58" height="25.9" fill="#4f2f2f" stroke="#767676" stroke-width="2"/>
<text x="1439.50" y="1598.10" font-size="23.1">90-100%</text>
<rect x="1205.3" y="1325.7" width="58.2" height="25.5" fill="#dcdcdc" stroke="#7f7f7f" stroke-width="2"/>
<text x="1272.33" y="1346.10" font-size="23.1">33-40%</text>
<rect x="1205.3" y="1368" width="58.2" height="25.5" fill="#a0a0a0" stroke="#7f7f7f" stroke-width="2"/>
<text x="1272.68" y="1388.40" font-size="23.1">40-50%</text>
<rect x="1250.5" y="1507.7" width="57.3" height="25.2" fill="#fff" stroke="#808080" stroke-width="2"/>
<text x="870.96" y="1351.40" font-size="30.10">Leaning</text>
<text x="883.19" y="1386.20" font-size="30.10">Above</text>
<text x="884.76" y="1492.50" font-size="30.10">Likely</text>
<text x="883.04" y="1527.40" font-size="30.10">Above</text>
<text x="1583.36" y="1352.10" font-size="30.10">Leaning</text>
<text x="1595.31" y="1385.80" font-size="30.10">Below</text>
<text x="1597.26" y="1492.50" font-size="30.10">Likely</text>
<text x="1595.31" y="1526.20" font-size="30.10">Below</text>
<path d="M1025.3,1326.5 C1008.6,1326.8 1004.1,1332.8 1003.0,1341.1 C1002.0,1352.6 994.1,1360.3 983.2,1361.3 M1025.3,1396.6 C1008.6,1396.2 1004.1,1390.2 1003.0,1381.8 C1002.0,1370.1 994.1,1362.4 983.2,1361.3" fill="none" stroke="#000" stroke-width="1.2" stroke-linecap="round"/>
<path d="M1025.3,1408.8 C1008.6,1409.7 1004.1,1425.9 1003.0,1448.7 C1002.0,1480.0 994.1,1500.9 983.2,1503.7 M1025.3,1598 C1008.6,1597.1 1004.1,1581.0 1003.0,1558.4 C1002.0,1527.3 994.1,1506.5 983.2,1503.7" fill="none" stroke="#000" stroke-width="1.9" stroke-linecap="round"/>
<path d="M1536.4,1326.4 C1553.5,1326.8 1558.1,1332.7 1559.2,1341.1 C1560.2,1352.7 1568.3,1360.4 1579.4,1361.4 M1536.4,1396.8 C1553.5,1396.4 1558.1,1390.4 1559.2,1381.9 C1560.2,1370.2 1568.3,1362.5 1579.4,1361.4" fill="none" stroke="#000" stroke-width="1.2" stroke-linecap="round"/>
<path d="M1536.4,1408.8 C1553.5,1409.7 1558.1,1425.8 1559.2,1448.4 C1560.2,1479.5 1568.3,1500.2 1579.4,1503 M1536.4,1596.5 C1553.5,1595.6 1558.1,1579.7 1559.2,1557.2 C1560.2,1526.4 1568.3,1505.8 1579.4,1503" fill="none" stroke="#000" stroke-width="1.9" stroke-linecap="round"/>
</g>
<g id="logos">
<g id="doc">
<circle cx="91.05" cy="64.4" r="59.6" fill="#3a93d6" stroke="#12265e" stroke-width="0.9"/>
<circle cx="91.05" cy="64.4" r="46.3" fill="#fff" stroke="#12265e" stroke-width="1"/>
<path id="arcTop" d="M42.15,64.4 A48.9,48.9 0 0 1 139.95,64.4" fill="none"/>
<path id="arcBot" d="M35.05,64.4 A56.0,56.0 0 0 0 147.05,64.4" fill="none"/>
<text font-size="9.3" fill="#fff" textLength="131" lengthAdjust="spacing"><textPath href="#arcTop" startOffset="11">DEPARTMENT OF COMMERCE</textPath></text>
<text font-size="9.3" fill="#fff" textLength="150" lengthAdjust="spacing"><textPath href="#arcBot" startOffset="13">UNITED STATES OF AMERICA</textPath></text>
<text x="38.05" y="68.2" font-size="9" fill="#fff" text-anchor="middle">*</text><text x="144.05" y="68.2" font-size="9" fill="#fff" text-anchor="middle">*</text>
<path d="M68.50,56.38 L113.60,56.38 L113.60,92.63 L111.99,96.66 L90.65,107.53 L70.11,96.66 L68.50,92.63Z" fill="#dca832" stroke="#12265e" stroke-width="1.2" stroke-linejoin="round"/>
<path d="M68.50,56.38 L113.60,56.38 L113.60,79.34 L68.50,79.34Z" fill="#3a93d6" stroke="#12265e" stroke-width="1.2"/>
<path d="M65.27,54.93 L117.63,54.93 L115.21,57.35 L67.69,57.35Z" fill="#12265e"/>
<path d="M68.90,75.71 L113.20,75.71 L113.20,79.74 L68.90,79.74Z" fill="#1b2c8c"/>
<path d="M71.72,69.27 L81.38,64.44 L86.22,59.61 L87.83,57.99 L89.44,59.61 L93.47,57.59 L95.08,59.61 L100.71,59.20 L102.33,62.83 L105.55,70.88 L107.16,72.90 L97.49,74.91 L86.22,75.31 L78.16,73.30Z" fill="#fff" stroke="#111" stroke-width="0.9" stroke-linejoin="round"/>
<path d="M76.55,72.49 L107.96,72.90 L105.55,76.12 L81.38,76.12Z" fill="#111"/>
<path d="M87.83,57.59 L87.83,74.91" stroke="#111" stroke-width="0.9"/>
<path d="M93.47,57.59 L93.47,74.91" stroke="#111" stroke-width="0.9"/>
<path d="M100.71,57.59 L100.71,74.91" stroke="#111" stroke-width="0.9"/>
<path d="M80.58,64.84 L104.74,63.63" stroke="#111" stroke-width="0.7"/>
<path d="M80.58,68.87 L104.74,67.66" stroke="#111" stroke-width="0.7"/>
<path d="M80.58,72.49 L104.74,71.28" stroke="#111" stroke-width="0.7"/>
<path d="M89.04,80.55 L92.26,80.55 L93.47,102.30 L96.69,103.91 L90.65,107.13 L84.61,103.91 L87.83,102.30Z" fill="#3a3a3a"/>
<path d="M74.94,24.97 L79.77,29.00 L84.61,34.64 L88.63,37.86 L89.44,33.83 L92.66,33.02 L95.08,34.64 L95.88,37.86 L99.91,33.83 L104.74,28.19 L107.96,25.78 L107.16,32.22 L103.94,38.66 L99.10,43.50 L95.88,46.72 L95.88,49.94 L87.02,49.94 L87.02,46.72 L82.99,42.69 L78.16,35.44Z" fill="#6b4a12" stroke="#1a1208" stroke-width="0.8" stroke-linejoin="round"/>
<path d="M88.63,37.86 L89.44,33.83 L92.66,33.02 L95.08,34.64 L95.88,37.86 L95.88,49.94 L87.02,49.94Z" fill="#c9951f"/>
<path d="M89.44,34.23 L92.66,33.19 L94.67,34.80 L93.47,37.86 L90.24,37.86Z" fill="#f4f0e0"/>
<path d="M81.38,50.34 L102.33,50.34 L101.52,52.76 L82.19,52.76Z" fill="#111"/>
</g>
<g id="noaa"><clipPath id="nc"><circle cx="1789.5" cy="64.8" r="59.9"/></clipPath>
<circle cx="1789.5" cy="64.8" r="59.9" fill="#fff"/>
<g clip-path="url(#nc)">
<path d="M1730.1,-5.0 L1734.1,30.2 L1740.9,30.2 L1742.2,31.0 L1743.5,31.8 L1744.8,32.6 L1746.1,33.5 L1747.4,34.4 L1748.6,35.4 L1749.9,36.8 L1751.1,38.3 L1752.3,40.0 L1753.5,41.7 L1754.6,43.4 L1755.8,45.1 L1757.2,46.9 L1758.5,48.8 L1759.8,50.8 L1761.2,52.7 L1762.5,54.6 L1763.9,56.4 L1765.2,58.1 L1766.5,59.8 L1767.8,61.4 L1769.2,63.1 L1770.5,64.6 L1771.9,66.0 L1773.2,67.3 L1774.5,68.5 L1775.8,69.6 L1777.1,70.6 L1778.5,71.6 L1780.0,72.5 L1781.6,73.3 L1783.4,74.2 L1785.1,74.9 L1786.9,75.5 L1788.7,75.9 L1790.5,76.1 L1792.0,76.1 L1793.5,76.0 L1795.1,75.7 L1796.6,75.3 L1798.0,74.8 L1799.3,74.1 L1800.7,73.1 L1802.0,72.0 L1803.2,70.6 L1804.3,69.1 L1805.5,67.6 L1806.6,66.0 L1807.7,64.3 L1808.8,62.5 L1809.9,60.6 L1810.9,58.6 L1812.0,56.7 L1813.0,54.8 L1814.1,52.9 L1815.1,50.9 L1816.2,49.0 L1817.3,47.1 L1818.3,45.2 L1819.5,43.5 L1820.5,42.0 L1821.6,40.6 L1822.6,39.2 L1823.7,37.9 L1824.8,36.6 L1825.9,35.4 L1826.8,34.5 L1827.7,33.6 L1828.7,32.8 L1829.6,32.0 L1830.6,31.3 L1831.5,30.6 L1832.5,30.1 L1833.5,29.7 L1834.5,29.3 L1835.5,28.9 L1836.6,28.6 L1837.6,28.2 L1850.9,28.2 L1850.9,-5.0Z" fill="#16318e"/>
<path d="M1722.0,48.3 L1731.7,48.3 L1732.5,48.6 L1733.3,48.8 L1734.1,49.0 L1734.9,49.2 L1735.7,49.5 L1736.5,49.9 L1737.6,50.7 L1738.6,51.7 L1739.7,52.8 L1740.7,54.0 L1741.8,55.2 L1742.9,56.4 L1744.2,57.7 L1745.5,59.0 L1746.8,60.4 L1748.2,61.7 L1749.6,63.1 L1751.0,64.4 L1752.5,65.8 L1754.1,67.3 L1755.7,68.7 L1757.3,70.0 L1759.0,71.3 L1760.7,72.5 L1762.2,73.5 L1763.8,74.4 L1765.4,75.2 L1767.1,76.0 L1768.7,76.7 L1770.3,77.3 L1771.9,77.9 L1773.6,78.4 L1775.2,78.8 L1776.9,79.1 L1778.5,79.5 L1780.0,79.7 L1781.3,79.9 L1782.5,80.1 L1783.7,80.2 L1784.9,80.3 L1786.0,80.4 L1787.2,80.5 L1786.0,81.2 L1784.9,81.9 L1783.7,82.6 L1782.5,83.3 L1781.3,84.0 L1780.0,84.6 L1778.4,85.1 L1776.5,85.6 L1774.6,86.1 L1772.9,86.5 L1771.6,86.9 L1771.1,87.4 L1771.3,87.7 L1771.8,88.1 L1772.5,88.5 L1773.4,88.9 L1774.3,89.2 L1775.2,89.4 L1776.1,89.6 L1777.2,89.7 L1778.2,89.7 L1779.3,89.7 L1780.5,89.6 L1781.6,89.4 L1782.9,89.2 L1784.2,88.9 L1785.6,88.5 L1786.9,88.0 L1788.3,87.5 L1789.7,87.0 L1791.1,86.3 L1792.6,85.5 L1794.1,84.6 L1795.5,83.7 L1797.0,82.9 L1798.5,82.2 L1800.0,81.5 L1801.5,80.9 L1802.9,80.3 L1804.4,79.8 L1805.9,79.3 L1807.4,78.9 L1808.8,78.7 L1810.2,78.5 L1811.6,78.4 L1813.0,78.3 L1814.4,78.2 L1815.8,78.1 L1815.4,77.8 L1815.0,77.4 L1814.5,77.0 L1814.1,76.7 L1813.6,76.4 L1813.0,76.1 L1812.1,75.9 L1811.1,75.7 L1809.9,75.7 L1808.8,75.7 L1807.6,75.7 L1806.6,75.7 L1805.6,75.8 L1804.6,75.9 L1803.5,76.0 L1802.6,76.1 L1802.0,76.2 L1801.7,76.1 L1802.2,75.8 L1803.4,75.4 L1805.1,74.8 L1807.1,74.1 L1809.0,73.3 L1810.6,72.5 L1812.0,71.6 L1813.4,70.6 L1814.7,69.5 L1816.0,68.4 L1817.4,67.2 L1818.7,66.0 L1820.0,64.8 L1821.4,63.5 L1822.7,62.2 L1824.1,60.8 L1825.4,59.4 L1826.7,58.0 L1828.1,56.4 L1829.5,54.8 L1830.9,53.2 L1832.2,51.5 L1833.5,49.9 L1834.8,48.3 L1835.8,47.0 L1836.8,45.7 L1837.8,44.5 L1838.7,43.2 L1839.6,42.1 L1840.4,41.1 L1840.9,40.5 L1841.4,39.9 L1841.8,39.4 L1842.3,38.9 L1842.7,38.4 L1843.2,37.9 L1843.9,37.2 L1844.6,36.5 L1845.4,35.9 L1846.1,35.2 L1846.9,34.5 L1847.7,33.8 L1858.9,33.8 L1858.9,136.9 L1722.0,136.9Z" fill="#3a8ccd"/>
</g>
<text x="1765.1" y="43.9" font-size="21.6" font-weight="bold" fill="#fff" textLength="49" lengthAdjust="spacingAndGlyphs">NOAA</text>
</g>
</g>
</svg>
</body></html>
